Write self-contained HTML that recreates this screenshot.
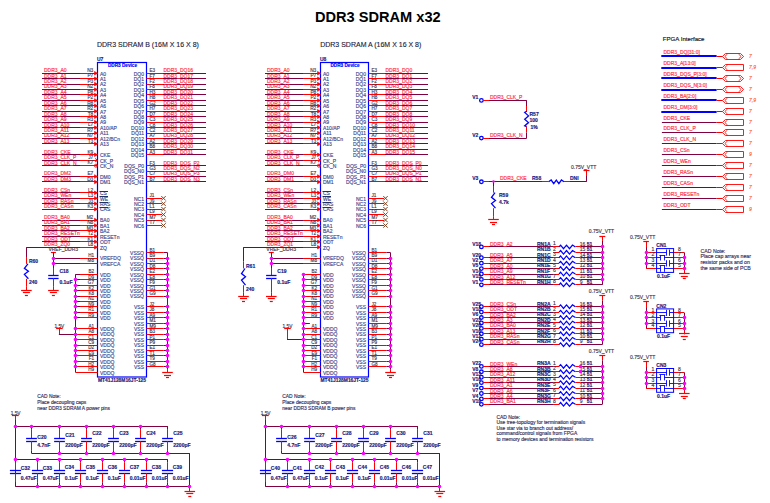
<!DOCTYPE html>
<html><head><meta charset="utf-8"><style>
html,body{margin:0;padding:0;background:#fff;width:770px;height:503px;overflow:hidden}
svg{display:block}
text{font-family:"Liberation Sans", sans-serif}
</style></head><body>
<svg width="770" height="503" viewBox="0 0 770 503">
<rect width="770" height="503" fill="#fff"/>
<text x="377.80" y="21.80" font-size="14.6" fill="#000000" stroke="#000000" stroke-width="0" text-anchor="middle" font-weight="bold" >DDR3 SDRAM x32</text>
<text x="97.00" y="46.80" font-size="7" fill="#202038" stroke="#202038" stroke-width="0.12" text-anchor="start" font-weight="normal" >DDR3 SDRAM B (16M X 16 X 8)</text>
<text x="320.20" y="46.80" font-size="7" fill="#202038" stroke="#202038" stroke-width="0.12" text-anchor="start" font-weight="normal" >DDR3 SDRAM A (16M X 16 X 8)</text>
<rect x="97.50" y="62.50" width="49.00" height="314.50" fill="none" stroke="#0000ff" stroke-width="1.2"/>
<text x="97.00" y="60.90" font-size="5" fill="#1a1a80" stroke="#1a1a80" stroke-width="0.15" text-anchor="start" font-weight="bold" >U7</text>
<text x="122.50" y="67.10" font-size="4.7" fill="#0000ff" stroke="#0000ff" stroke-width="0.15" text-anchor="middle" font-weight="bold" >DDR3 Device</text>
<text x="122.00" y="382.30" font-size="4.9" fill="#1a1a80" stroke="#1a1a80" stroke-width="0.15" text-anchor="middle" font-weight="bold" >MT41J128M16JT-125</text>
<line x1="42.00" y1="73.50" x2="80.00" y2="73.50" stroke="#800040" stroke-width="1"/>
<line x1="80.00" y1="73.50" x2="97.50" y2="73.50" stroke="#ff0000" stroke-width="1"/>
<polygon points="94.50,71.45 97.50,73.25 94.50,75.05" stroke="#ff0000" stroke-width="0.6" fill="#ff0000"/>
<text x="44.00" y="72.15" font-size="5" fill="#ff3048" stroke="#ff3048" stroke-width="0.16" text-anchor="start" font-weight="normal" >DDR3_A0</text>
<text x="93.30" y="72.05" font-size="4.8" fill="#403850" stroke="#403850" stroke-width="0.15" text-anchor="end" font-weight="normal" >N3</text>
<text x="100.00" y="75.55" font-size="5" fill="#3c4890" stroke="#3c4890" stroke-width="0.15" text-anchor="start" font-weight="normal" >A0</text>
<line x1="42.00" y1="78.50" x2="80.00" y2="78.50" stroke="#800040" stroke-width="1"/>
<line x1="80.00" y1="78.50" x2="97.50" y2="78.50" stroke="#ff0000" stroke-width="1"/>
<polygon points="94.50,76.89 97.50,78.69 94.50,80.49" stroke="#ff0000" stroke-width="0.6" fill="#ff0000"/>
<text x="44.00" y="77.59" font-size="5" fill="#ff3048" stroke="#ff3048" stroke-width="0.16" text-anchor="start" font-weight="normal" >DDR3_A1</text>
<text x="93.30" y="77.49" font-size="4.8" fill="#403850" stroke="#403850" stroke-width="0.15" text-anchor="end" font-weight="normal" >P7</text>
<text x="100.00" y="80.99" font-size="5" fill="#3c4890" stroke="#3c4890" stroke-width="0.15" text-anchor="start" font-weight="normal" >A1</text>
<line x1="42.00" y1="84.50" x2="80.00" y2="84.50" stroke="#800040" stroke-width="1"/>
<line x1="80.00" y1="84.50" x2="97.50" y2="84.50" stroke="#ff0000" stroke-width="1"/>
<polygon points="94.50,82.32 97.50,84.12 94.50,85.92" stroke="#ff0000" stroke-width="0.6" fill="#ff0000"/>
<text x="44.00" y="83.02" font-size="5" fill="#ff3048" stroke="#ff3048" stroke-width="0.16" text-anchor="start" font-weight="normal" >DDR3_A2</text>
<text x="93.30" y="82.92" font-size="4.8" fill="#403850" stroke="#403850" stroke-width="0.15" text-anchor="end" font-weight="normal" >P3</text>
<text x="100.00" y="86.42" font-size="5" fill="#3c4890" stroke="#3c4890" stroke-width="0.15" text-anchor="start" font-weight="normal" >A2</text>
<line x1="42.00" y1="89.50" x2="80.00" y2="89.50" stroke="#800040" stroke-width="1"/>
<line x1="80.00" y1="89.50" x2="97.50" y2="89.50" stroke="#ff0000" stroke-width="1"/>
<polygon points="94.50,87.76 97.50,89.56 94.50,91.36" stroke="#ff0000" stroke-width="0.6" fill="#ff0000"/>
<text x="44.00" y="88.46" font-size="5" fill="#ff3048" stroke="#ff3048" stroke-width="0.16" text-anchor="start" font-weight="normal" >DDR3_A3</text>
<text x="93.30" y="88.36" font-size="4.8" fill="#403850" stroke="#403850" stroke-width="0.15" text-anchor="end" font-weight="normal" >N2</text>
<text x="100.00" y="91.86" font-size="5" fill="#3c4890" stroke="#3c4890" stroke-width="0.15" text-anchor="start" font-weight="normal" >A3</text>
<line x1="42.00" y1="94.50" x2="80.00" y2="94.50" stroke="#800040" stroke-width="1"/>
<line x1="80.00" y1="94.50" x2="97.50" y2="94.50" stroke="#ff0000" stroke-width="1"/>
<polygon points="94.50,93.19 97.50,94.99 94.50,96.79" stroke="#ff0000" stroke-width="0.6" fill="#ff0000"/>
<text x="44.00" y="93.89" font-size="5" fill="#ff3048" stroke="#ff3048" stroke-width="0.16" text-anchor="start" font-weight="normal" >DDR3_A4</text>
<text x="93.30" y="93.79" font-size="4.8" fill="#403850" stroke="#403850" stroke-width="0.15" text-anchor="end" font-weight="normal" >P8</text>
<text x="100.00" y="97.29" font-size="5" fill="#3c4890" stroke="#3c4890" stroke-width="0.15" text-anchor="start" font-weight="normal" >A4</text>
<line x1="42.00" y1="100.50" x2="80.00" y2="100.50" stroke="#800040" stroke-width="1"/>
<line x1="80.00" y1="100.50" x2="97.50" y2="100.50" stroke="#ff0000" stroke-width="1"/>
<polygon points="94.50,98.63 97.50,100.43 94.50,102.23" stroke="#ff0000" stroke-width="0.6" fill="#ff0000"/>
<text x="44.00" y="99.33" font-size="5" fill="#ff3048" stroke="#ff3048" stroke-width="0.16" text-anchor="start" font-weight="normal" >DDR3_A5</text>
<text x="93.30" y="99.23" font-size="4.8" fill="#403850" stroke="#403850" stroke-width="0.15" text-anchor="end" font-weight="normal" >P2</text>
<text x="100.00" y="102.73" font-size="5" fill="#3c4890" stroke="#3c4890" stroke-width="0.15" text-anchor="start" font-weight="normal" >A5</text>
<line x1="42.00" y1="105.50" x2="80.00" y2="105.50" stroke="#800040" stroke-width="1"/>
<line x1="80.00" y1="105.50" x2="97.50" y2="105.50" stroke="#ff0000" stroke-width="1"/>
<polygon points="94.50,104.07 97.50,105.87 94.50,107.67" stroke="#ff0000" stroke-width="0.6" fill="#ff0000"/>
<text x="44.00" y="104.77" font-size="5" fill="#ff3048" stroke="#ff3048" stroke-width="0.16" text-anchor="start" font-weight="normal" >DDR3_A6</text>
<text x="93.30" y="104.67" font-size="4.8" fill="#403850" stroke="#403850" stroke-width="0.15" text-anchor="end" font-weight="normal" >R8</text>
<text x="100.00" y="108.17" font-size="5" fill="#3c4890" stroke="#3c4890" stroke-width="0.15" text-anchor="start" font-weight="normal" >A6</text>
<line x1="42.00" y1="111.50" x2="80.00" y2="111.50" stroke="#800040" stroke-width="1"/>
<line x1="80.00" y1="111.50" x2="97.50" y2="111.50" stroke="#ff0000" stroke-width="1"/>
<polygon points="94.50,109.50 97.50,111.30 94.50,113.10" stroke="#ff0000" stroke-width="0.6" fill="#ff0000"/>
<text x="44.00" y="110.20" font-size="5" fill="#ff3048" stroke="#ff3048" stroke-width="0.16" text-anchor="start" font-weight="normal" >DDR3_A7</text>
<text x="93.30" y="110.10" font-size="4.8" fill="#403850" stroke="#403850" stroke-width="0.15" text-anchor="end" font-weight="normal" >R2</text>
<text x="100.00" y="113.60" font-size="5" fill="#3c4890" stroke="#3c4890" stroke-width="0.15" text-anchor="start" font-weight="normal" >A7</text>
<line x1="42.00" y1="116.50" x2="80.00" y2="116.50" stroke="#800040" stroke-width="1"/>
<line x1="80.00" y1="116.50" x2="97.50" y2="116.50" stroke="#ff0000" stroke-width="1"/>
<polygon points="94.50,114.94 97.50,116.74 94.50,118.54" stroke="#ff0000" stroke-width="0.6" fill="#ff0000"/>
<text x="44.00" y="115.64" font-size="5" fill="#ff3048" stroke="#ff3048" stroke-width="0.16" text-anchor="start" font-weight="normal" >DDR3_A8</text>
<text x="93.30" y="115.54" font-size="4.8" fill="#403850" stroke="#403850" stroke-width="0.15" text-anchor="end" font-weight="normal" >T8</text>
<text x="100.00" y="119.04" font-size="5" fill="#3c4890" stroke="#3c4890" stroke-width="0.15" text-anchor="start" font-weight="normal" >A8</text>
<line x1="42.00" y1="122.50" x2="80.00" y2="122.50" stroke="#800040" stroke-width="1"/>
<line x1="80.00" y1="122.50" x2="97.50" y2="122.50" stroke="#ff0000" stroke-width="1"/>
<polygon points="94.50,120.37 97.50,122.17 94.50,123.97" stroke="#ff0000" stroke-width="0.6" fill="#ff0000"/>
<text x="44.00" y="121.07" font-size="5" fill="#ff3048" stroke="#ff3048" stroke-width="0.16" text-anchor="start" font-weight="normal" >DDR3_A9</text>
<text x="93.30" y="120.97" font-size="4.8" fill="#403850" stroke="#403850" stroke-width="0.15" text-anchor="end" font-weight="normal" >R3</text>
<text x="100.00" y="124.47" font-size="5" fill="#3c4890" stroke="#3c4890" stroke-width="0.15" text-anchor="start" font-weight="normal" >A9</text>
<line x1="42.00" y1="127.50" x2="80.00" y2="127.50" stroke="#800040" stroke-width="1"/>
<line x1="80.00" y1="127.50" x2="97.50" y2="127.50" stroke="#ff0000" stroke-width="1"/>
<polygon points="94.50,125.81 97.50,127.61 94.50,129.41" stroke="#ff0000" stroke-width="0.6" fill="#ff0000"/>
<text x="44.00" y="126.51" font-size="5" fill="#ff3048" stroke="#ff3048" stroke-width="0.16" text-anchor="start" font-weight="normal" >DDR3_A10</text>
<text x="93.30" y="126.41" font-size="4.8" fill="#403850" stroke="#403850" stroke-width="0.15" text-anchor="end" font-weight="normal" >L7</text>
<text x="100.00" y="129.91" font-size="5" fill="#3c4890" stroke="#3c4890" stroke-width="0.15" text-anchor="start" font-weight="normal" >A10/AP</text>
<line x1="42.00" y1="133.50" x2="80.00" y2="133.50" stroke="#800040" stroke-width="1"/>
<line x1="80.00" y1="133.50" x2="97.50" y2="133.50" stroke="#ff0000" stroke-width="1"/>
<polygon points="94.50,131.25 97.50,133.05 94.50,134.85" stroke="#ff0000" stroke-width="0.6" fill="#ff0000"/>
<text x="44.00" y="131.95" font-size="5" fill="#ff3048" stroke="#ff3048" stroke-width="0.16" text-anchor="start" font-weight="normal" >DDR3_A11</text>
<text x="93.30" y="131.85" font-size="4.8" fill="#403850" stroke="#403850" stroke-width="0.15" text-anchor="end" font-weight="normal" >R7</text>
<text x="100.00" y="135.35" font-size="5" fill="#3c4890" stroke="#3c4890" stroke-width="0.15" text-anchor="start" font-weight="normal" >A11</text>
<line x1="42.00" y1="138.50" x2="80.00" y2="138.50" stroke="#800040" stroke-width="1"/>
<line x1="80.00" y1="138.50" x2="97.50" y2="138.50" stroke="#ff0000" stroke-width="1"/>
<polygon points="94.50,136.68 97.50,138.48 94.50,140.28" stroke="#ff0000" stroke-width="0.6" fill="#ff0000"/>
<text x="44.00" y="137.38" font-size="5" fill="#ff3048" stroke="#ff3048" stroke-width="0.16" text-anchor="start" font-weight="normal" >DDR3_A12</text>
<text x="93.30" y="137.28" font-size="4.8" fill="#403850" stroke="#403850" stroke-width="0.15" text-anchor="end" font-weight="normal" >N7</text>
<text x="100.00" y="140.78" font-size="5" fill="#3c4890" stroke="#3c4890" stroke-width="0.15" text-anchor="start" font-weight="normal" >A12/BCn</text>
<line x1="42.00" y1="143.50" x2="80.00" y2="143.50" stroke="#800040" stroke-width="1"/>
<line x1="80.00" y1="143.50" x2="97.50" y2="143.50" stroke="#ff0000" stroke-width="1"/>
<polygon points="94.50,142.12 97.50,143.92 94.50,145.72" stroke="#ff0000" stroke-width="0.6" fill="#ff0000"/>
<text x="44.00" y="142.82" font-size="5" fill="#ff3048" stroke="#ff3048" stroke-width="0.16" text-anchor="start" font-weight="normal" >DDR3_A13</text>
<text x="93.30" y="142.72" font-size="4.8" fill="#403850" stroke="#403850" stroke-width="0.15" text-anchor="end" font-weight="normal" >T3</text>
<text x="100.00" y="146.22" font-size="5" fill="#3c4890" stroke="#3c4890" stroke-width="0.15" text-anchor="start" font-weight="normal" >A13</text>
<line x1="42.00" y1="154.50" x2="80.00" y2="154.50" stroke="#800040" stroke-width="1"/>
<line x1="80.00" y1="154.50" x2="97.50" y2="154.50" stroke="#ff0000" stroke-width="1"/>
<polygon points="94.50,152.99 97.50,154.79 94.50,156.59" stroke="#ff0000" stroke-width="0.6" fill="#ff0000"/>
<text x="44.00" y="153.69" font-size="5" fill="#ff3048" stroke="#ff3048" stroke-width="0.16" text-anchor="start" font-weight="normal" >DDR3_CKE</text>
<text x="93.30" y="153.59" font-size="4.8" fill="#403850" stroke="#403850" stroke-width="0.15" text-anchor="end" font-weight="normal" >K9</text>
<text x="100.00" y="157.09" font-size="5" fill="#3c4890" stroke="#3c4890" stroke-width="0.15" text-anchor="start" font-weight="normal" >CKE</text>
<line x1="42.00" y1="160.50" x2="80.00" y2="160.50" stroke="#800040" stroke-width="1"/>
<line x1="80.00" y1="160.50" x2="97.50" y2="160.50" stroke="#ff0000" stroke-width="1"/>
<polyline points="95.00,158.43 97.50,160.23 95.00,162.03" stroke="#ff0000" stroke-width="0.9" fill="none" stroke-linejoin="miter"/>
<text x="44.00" y="159.13" font-size="5" fill="#ff3048" stroke="#ff3048" stroke-width="0.16" text-anchor="start" font-weight="normal" >DDR3_CLK_P</text>
<text x="93.30" y="159.03" font-size="4.8" fill="#403850" stroke="#403850" stroke-width="0.15" text-anchor="end" font-weight="normal" >J7</text>
<text x="100.00" y="162.53" font-size="5" fill="#3c4890" stroke="#3c4890" stroke-width="0.15" text-anchor="start" font-weight="normal" >CK_P</text>
<line x1="42.00" y1="165.50" x2="80.00" y2="165.50" stroke="#800040" stroke-width="1"/>
<line x1="80.00" y1="165.50" x2="97.50" y2="165.50" stroke="#ff0000" stroke-width="1"/>
<circle cx="95.90" cy="165.66" r="1.5" fill="none" stroke="#ff0000" stroke-width="0.9"/>
<text x="44.00" y="164.56" font-size="5" fill="#ff3048" stroke="#ff3048" stroke-width="0.16" text-anchor="start" font-weight="normal" >DDR3_CLK_N</text>
<text x="93.30" y="164.46" font-size="4.8" fill="#403850" stroke="#403850" stroke-width="0.15" text-anchor="end" font-weight="normal" >K7</text>
<text x="100.00" y="167.96" font-size="5" fill="#3c4890" stroke="#3c4890" stroke-width="0.15" text-anchor="start" font-weight="normal" >CK_N</text>
<line x1="42.00" y1="176.50" x2="80.00" y2="176.50" stroke="#800040" stroke-width="1"/>
<line x1="80.00" y1="176.50" x2="97.50" y2="176.50" stroke="#ff0000" stroke-width="1"/>
<polygon points="94.50,174.73 97.50,176.53 94.50,178.33" stroke="#ff0000" stroke-width="0.6" fill="#ff0000"/>
<text x="44.00" y="175.43" font-size="5" fill="#ff3048" stroke="#ff3048" stroke-width="0.16" text-anchor="start" font-weight="normal" >DDR3_DM2</text>
<text x="93.30" y="175.33" font-size="4.8" fill="#403850" stroke="#403850" stroke-width="0.15" text-anchor="end" font-weight="normal" >E7</text>
<text x="100.00" y="178.83" font-size="5" fill="#3c4890" stroke="#3c4890" stroke-width="0.15" text-anchor="start" font-weight="normal" >DM0</text>
<line x1="42.00" y1="181.50" x2="80.00" y2="181.50" stroke="#800040" stroke-width="1"/>
<line x1="80.00" y1="181.50" x2="97.50" y2="181.50" stroke="#ff0000" stroke-width="1"/>
<polygon points="94.50,180.17 97.50,181.97 94.50,183.77" stroke="#ff0000" stroke-width="0.6" fill="#ff0000"/>
<text x="44.00" y="180.87" font-size="5" fill="#ff3048" stroke="#ff3048" stroke-width="0.16" text-anchor="start" font-weight="normal" >DDR3_DM3</text>
<text x="93.30" y="180.77" font-size="4.8" fill="#403850" stroke="#403850" stroke-width="0.15" text-anchor="end" font-weight="normal" >D3</text>
<text x="100.00" y="184.27" font-size="5" fill="#3c4890" stroke="#3c4890" stroke-width="0.15" text-anchor="start" font-weight="normal" >DM1</text>
<line x1="42.00" y1="192.50" x2="80.00" y2="192.50" stroke="#800040" stroke-width="1"/>
<line x1="80.00" y1="192.50" x2="97.50" y2="192.50" stroke="#ff0000" stroke-width="1"/>
<polygon points="94.50,191.04 97.50,192.84 94.50,194.64" stroke="#ff0000" stroke-width="0.6" fill="#ff0000"/>
<text x="44.00" y="191.74" font-size="5" fill="#ff3048" stroke="#ff3048" stroke-width="0.16" text-anchor="start" font-weight="normal" >DDR3_CSn</text>
<text x="93.30" y="191.64" font-size="4.8" fill="#403850" stroke="#403850" stroke-width="0.15" text-anchor="end" font-weight="normal" >L2</text>
<text x="100.00" y="195.14" font-size="5" fill="#3c4890" stroke="#3c4890" stroke-width="0.15" text-anchor="start" font-weight="normal" >CS</text>
<line x1="99.50" y1="191.50" x2="108.00" y2="191.50" stroke="#203060" stroke-width="1"/>
<line x1="42.00" y1="198.50" x2="80.00" y2="198.50" stroke="#800040" stroke-width="1"/>
<line x1="80.00" y1="198.50" x2="97.50" y2="198.50" stroke="#ff0000" stroke-width="1"/>
<polygon points="94.50,196.48 97.50,198.28 94.50,200.08" stroke="#ff0000" stroke-width="0.6" fill="#ff0000"/>
<text x="44.00" y="197.18" font-size="5" fill="#ff3048" stroke="#ff3048" stroke-width="0.16" text-anchor="start" font-weight="normal" >DDR3_WEn</text>
<text x="93.30" y="197.08" font-size="4.8" fill="#403850" stroke="#403850" stroke-width="0.15" text-anchor="end" font-weight="normal" >L3</text>
<text x="100.00" y="200.58" font-size="5" fill="#3c4890" stroke="#3c4890" stroke-width="0.15" text-anchor="start" font-weight="normal" >WE</text>
<line x1="99.50" y1="196.50" x2="108.00" y2="196.50" stroke="#203060" stroke-width="1"/>
<line x1="42.00" y1="203.50" x2="80.00" y2="203.50" stroke="#800040" stroke-width="1"/>
<line x1="80.00" y1="203.50" x2="97.50" y2="203.50" stroke="#ff0000" stroke-width="1"/>
<polygon points="94.50,201.91 97.50,203.71 94.50,205.51" stroke="#ff0000" stroke-width="0.6" fill="#ff0000"/>
<text x="44.00" y="202.61" font-size="5" fill="#ff3048" stroke="#ff3048" stroke-width="0.16" text-anchor="start" font-weight="normal" >DDR3_RASn</text>
<text x="93.30" y="202.51" font-size="4.8" fill="#403850" stroke="#403850" stroke-width="0.15" text-anchor="end" font-weight="normal" >J3</text>
<text x="100.00" y="206.01" font-size="5" fill="#3c4890" stroke="#3c4890" stroke-width="0.15" text-anchor="start" font-weight="normal" >RAS</text>
<line x1="99.50" y1="202.50" x2="108.00" y2="202.50" stroke="#203060" stroke-width="1"/>
<line x1="42.00" y1="209.50" x2="80.00" y2="209.50" stroke="#800040" stroke-width="1"/>
<line x1="80.00" y1="209.50" x2="97.50" y2="209.50" stroke="#ff0000" stroke-width="1"/>
<polygon points="94.50,207.35 97.50,209.15 94.50,210.95" stroke="#ff0000" stroke-width="0.6" fill="#ff0000"/>
<text x="44.00" y="208.05" font-size="5" fill="#ff3048" stroke="#ff3048" stroke-width="0.16" text-anchor="start" font-weight="normal" >DDR3_CASn</text>
<text x="93.30" y="207.95" font-size="4.8" fill="#403850" stroke="#403850" stroke-width="0.15" text-anchor="end" font-weight="normal" >K3</text>
<text x="100.00" y="211.45" font-size="5" fill="#3c4890" stroke="#3c4890" stroke-width="0.15" text-anchor="start" font-weight="normal" >CAS</text>
<line x1="99.50" y1="207.50" x2="108.00" y2="207.50" stroke="#203060" stroke-width="1"/>
<line x1="42.00" y1="220.50" x2="80.00" y2="220.50" stroke="#800040" stroke-width="1"/>
<line x1="80.00" y1="220.50" x2="97.50" y2="220.50" stroke="#ff0000" stroke-width="1"/>
<polygon points="94.50,218.22 97.50,220.02 94.50,221.82" stroke="#ff0000" stroke-width="0.6" fill="#ff0000"/>
<text x="44.00" y="218.92" font-size="5" fill="#ff3048" stroke="#ff3048" stroke-width="0.16" text-anchor="start" font-weight="normal" >DDR3_BA0</text>
<text x="93.30" y="218.82" font-size="4.8" fill="#403850" stroke="#403850" stroke-width="0.15" text-anchor="end" font-weight="normal" >M2</text>
<text x="100.00" y="222.32" font-size="5" fill="#3c4890" stroke="#3c4890" stroke-width="0.15" text-anchor="start" font-weight="normal" >BA0</text>
<line x1="42.00" y1="225.50" x2="80.00" y2="225.50" stroke="#800040" stroke-width="1"/>
<line x1="80.00" y1="225.50" x2="97.50" y2="225.50" stroke="#ff0000" stroke-width="1"/>
<polygon points="94.50,223.66 97.50,225.46 94.50,227.26" stroke="#ff0000" stroke-width="0.6" fill="#ff0000"/>
<text x="44.00" y="224.36" font-size="5" fill="#ff3048" stroke="#ff3048" stroke-width="0.16" text-anchor="start" font-weight="normal" >DDR3_BA1</text>
<text x="93.30" y="224.26" font-size="4.8" fill="#403850" stroke="#403850" stroke-width="0.15" text-anchor="end" font-weight="normal" >N8</text>
<text x="100.00" y="227.76" font-size="5" fill="#3c4890" stroke="#3c4890" stroke-width="0.15" text-anchor="start" font-weight="normal" >BA1</text>
<line x1="42.00" y1="230.50" x2="80.00" y2="230.50" stroke="#800040" stroke-width="1"/>
<line x1="80.00" y1="230.50" x2="97.50" y2="230.50" stroke="#ff0000" stroke-width="1"/>
<polygon points="94.50,229.09 97.50,230.89 94.50,232.69" stroke="#ff0000" stroke-width="0.6" fill="#ff0000"/>
<text x="44.00" y="229.79" font-size="5" fill="#ff3048" stroke="#ff3048" stroke-width="0.16" text-anchor="start" font-weight="normal" >DDR3_BA2</text>
<text x="93.30" y="229.69" font-size="4.8" fill="#403850" stroke="#403850" stroke-width="0.15" text-anchor="end" font-weight="normal" >M3</text>
<text x="100.00" y="233.19" font-size="5" fill="#3c4890" stroke="#3c4890" stroke-width="0.15" text-anchor="start" font-weight="normal" >BA2</text>
<line x1="42.00" y1="236.50" x2="80.00" y2="236.50" stroke="#800040" stroke-width="1"/>
<line x1="80.00" y1="236.50" x2="97.50" y2="236.50" stroke="#ff0000" stroke-width="1"/>
<polygon points="94.50,234.53 97.50,236.33 94.50,238.13" stroke="#ff0000" stroke-width="0.6" fill="#ff0000"/>
<text x="44.00" y="235.23" font-size="5" fill="#ff3048" stroke="#ff3048" stroke-width="0.16" text-anchor="start" font-weight="normal" >DDR3_RESETn</text>
<text x="93.30" y="235.13" font-size="4.8" fill="#403850" stroke="#403850" stroke-width="0.15" text-anchor="end" font-weight="normal" >T2</text>
<text x="100.00" y="238.63" font-size="5" fill="#3c4890" stroke="#3c4890" stroke-width="0.15" text-anchor="start" font-weight="normal" >RESETn</text>
<line x1="42.00" y1="241.50" x2="80.00" y2="241.50" stroke="#800040" stroke-width="1"/>
<line x1="80.00" y1="241.50" x2="97.50" y2="241.50" stroke="#ff0000" stroke-width="1"/>
<polygon points="94.50,239.97 97.50,241.77 94.50,243.57" stroke="#ff0000" stroke-width="0.6" fill="#ff0000"/>
<text x="44.00" y="240.67" font-size="5" fill="#ff3048" stroke="#ff3048" stroke-width="0.16" text-anchor="start" font-weight="normal" >DDR3_ODT</text>
<text x="93.30" y="240.57" font-size="4.8" fill="#403850" stroke="#403850" stroke-width="0.15" text-anchor="end" font-weight="normal" >K1</text>
<text x="100.00" y="244.07" font-size="5" fill="#3c4890" stroke="#3c4890" stroke-width="0.15" text-anchor="start" font-weight="normal" >ODT</text>
<line x1="42.00" y1="247.50" x2="80.00" y2="247.50" stroke="#800040" stroke-width="1"/>
<line x1="80.00" y1="247.50" x2="97.50" y2="247.50" stroke="#ff0000" stroke-width="1"/>
<polygon points="94.50,245.40 97.50,247.20 94.50,249.00" stroke="#ff0000" stroke-width="0.6" fill="#ff0000"/>
<text x="44.00" y="246.10" font-size="5" fill="#ff3048" stroke="#ff3048" stroke-width="0.16" text-anchor="start" font-weight="normal" >DDR3_ZQ0</text>
<text x="93.30" y="246.00" font-size="4.8" fill="#403850" stroke="#403850" stroke-width="0.15" text-anchor="end" font-weight="normal" >L8</text>
<text x="100.00" y="249.50" font-size="5" fill="#3c4890" stroke="#3c4890" stroke-width="0.15" text-anchor="start" font-weight="normal" >ZQ</text>
<line x1="146.50" y1="73.50" x2="163.00" y2="73.50" stroke="#ff0000" stroke-width="1"/>
<line x1="163.00" y1="73.50" x2="206.00" y2="73.50" stroke="#800040" stroke-width="1"/>
<text x="163.50" y="72.15" font-size="5" fill="#ff3048" stroke="#ff3048" stroke-width="0.16" text-anchor="start" font-weight="normal" >DDR3_DQ16</text>
<text x="149.50" y="72.15" font-size="4.6" fill="#403850" stroke="#403850" stroke-width="0.15" text-anchor="start" font-weight="normal" >E3</text>
<text x="144.00" y="75.55" font-size="5" fill="#3c4890" stroke="#3c4890" stroke-width="0.15" text-anchor="end" font-weight="normal" >DQ0</text>
<line x1="146.50" y1="78.50" x2="163.00" y2="78.50" stroke="#ff0000" stroke-width="1"/>
<line x1="163.00" y1="78.50" x2="206.00" y2="78.50" stroke="#800040" stroke-width="1"/>
<text x="163.50" y="77.59" font-size="5" fill="#ff3048" stroke="#ff3048" stroke-width="0.16" text-anchor="start" font-weight="normal" >DDR3_DQ17</text>
<text x="149.50" y="77.59" font-size="4.6" fill="#403850" stroke="#403850" stroke-width="0.15" text-anchor="start" font-weight="normal" >F7</text>
<text x="144.00" y="80.99" font-size="5" fill="#3c4890" stroke="#3c4890" stroke-width="0.15" text-anchor="end" font-weight="normal" >DQ1</text>
<line x1="146.50" y1="84.50" x2="163.00" y2="84.50" stroke="#ff0000" stroke-width="1"/>
<line x1="163.00" y1="84.50" x2="206.00" y2="84.50" stroke="#800040" stroke-width="1"/>
<text x="163.50" y="83.02" font-size="5" fill="#ff3048" stroke="#ff3048" stroke-width="0.16" text-anchor="start" font-weight="normal" >DDR3_DQ18</text>
<text x="149.50" y="83.02" font-size="4.6" fill="#403850" stroke="#403850" stroke-width="0.15" text-anchor="start" font-weight="normal" >F2</text>
<text x="144.00" y="86.42" font-size="5" fill="#3c4890" stroke="#3c4890" stroke-width="0.15" text-anchor="end" font-weight="normal" >DQ2</text>
<line x1="146.50" y1="89.50" x2="163.00" y2="89.50" stroke="#ff0000" stroke-width="1"/>
<line x1="163.00" y1="89.50" x2="206.00" y2="89.50" stroke="#800040" stroke-width="1"/>
<text x="163.50" y="88.46" font-size="5" fill="#ff3048" stroke="#ff3048" stroke-width="0.16" text-anchor="start" font-weight="normal" >DDR3_DQ19</text>
<text x="149.50" y="88.46" font-size="4.6" fill="#403850" stroke="#403850" stroke-width="0.15" text-anchor="start" font-weight="normal" >F8</text>
<text x="144.00" y="91.86" font-size="5" fill="#3c4890" stroke="#3c4890" stroke-width="0.15" text-anchor="end" font-weight="normal" >DQ3</text>
<line x1="146.50" y1="94.50" x2="163.00" y2="94.50" stroke="#ff0000" stroke-width="1"/>
<line x1="163.00" y1="94.50" x2="206.00" y2="94.50" stroke="#800040" stroke-width="1"/>
<text x="163.50" y="93.89" font-size="5" fill="#ff3048" stroke="#ff3048" stroke-width="0.16" text-anchor="start" font-weight="normal" >DDR3_DQ20</text>
<text x="149.50" y="93.89" font-size="4.6" fill="#403850" stroke="#403850" stroke-width="0.15" text-anchor="start" font-weight="normal" >H3</text>
<text x="144.00" y="97.29" font-size="5" fill="#3c4890" stroke="#3c4890" stroke-width="0.15" text-anchor="end" font-weight="normal" >DQ4</text>
<line x1="146.50" y1="100.50" x2="163.00" y2="100.50" stroke="#ff0000" stroke-width="1"/>
<line x1="163.00" y1="100.50" x2="206.00" y2="100.50" stroke="#800040" stroke-width="1"/>
<text x="163.50" y="99.33" font-size="5" fill="#ff3048" stroke="#ff3048" stroke-width="0.16" text-anchor="start" font-weight="normal" >DDR3_DQ21</text>
<text x="149.50" y="99.33" font-size="4.6" fill="#403850" stroke="#403850" stroke-width="0.15" text-anchor="start" font-weight="normal" >H8</text>
<text x="144.00" y="102.73" font-size="5" fill="#3c4890" stroke="#3c4890" stroke-width="0.15" text-anchor="end" font-weight="normal" >DQ5</text>
<line x1="146.50" y1="105.50" x2="163.00" y2="105.50" stroke="#ff0000" stroke-width="1"/>
<line x1="163.00" y1="105.50" x2="206.00" y2="105.50" stroke="#800040" stroke-width="1"/>
<text x="163.50" y="104.77" font-size="5" fill="#ff3048" stroke="#ff3048" stroke-width="0.16" text-anchor="start" font-weight="normal" >DDR3_DQ22</text>
<text x="149.50" y="104.77" font-size="4.6" fill="#403850" stroke="#403850" stroke-width="0.15" text-anchor="start" font-weight="normal" >G2</text>
<text x="144.00" y="108.17" font-size="5" fill="#3c4890" stroke="#3c4890" stroke-width="0.15" text-anchor="end" font-weight="normal" >DQ6</text>
<line x1="146.50" y1="111.50" x2="163.00" y2="111.50" stroke="#ff0000" stroke-width="1"/>
<line x1="163.00" y1="111.50" x2="206.00" y2="111.50" stroke="#800040" stroke-width="1"/>
<text x="163.50" y="110.20" font-size="5" fill="#ff3048" stroke="#ff3048" stroke-width="0.16" text-anchor="start" font-weight="normal" >DDR3_DQ23</text>
<text x="149.50" y="110.20" font-size="4.6" fill="#403850" stroke="#403850" stroke-width="0.15" text-anchor="start" font-weight="normal" >H7</text>
<text x="144.00" y="113.60" font-size="5" fill="#3c4890" stroke="#3c4890" stroke-width="0.15" text-anchor="end" font-weight="normal" >DQ7</text>
<line x1="146.50" y1="116.50" x2="163.00" y2="116.50" stroke="#ff0000" stroke-width="1"/>
<line x1="163.00" y1="116.50" x2="206.00" y2="116.50" stroke="#800040" stroke-width="1"/>
<text x="163.50" y="115.64" font-size="5" fill="#ff3048" stroke="#ff3048" stroke-width="0.16" text-anchor="start" font-weight="normal" >DDR3_DQ24</text>
<text x="149.50" y="115.64" font-size="4.6" fill="#403850" stroke="#403850" stroke-width="0.15" text-anchor="start" font-weight="normal" >D7</text>
<text x="144.00" y="119.04" font-size="5" fill="#3c4890" stroke="#3c4890" stroke-width="0.15" text-anchor="end" font-weight="normal" >DQ8</text>
<line x1="146.50" y1="122.50" x2="163.00" y2="122.50" stroke="#ff0000" stroke-width="1"/>
<line x1="163.00" y1="122.50" x2="206.00" y2="122.50" stroke="#800040" stroke-width="1"/>
<text x="163.50" y="121.07" font-size="5" fill="#ff3048" stroke="#ff3048" stroke-width="0.16" text-anchor="start" font-weight="normal" >DDR3_DQ25</text>
<text x="149.50" y="121.07" font-size="4.6" fill="#403850" stroke="#403850" stroke-width="0.15" text-anchor="start" font-weight="normal" >C3</text>
<text x="144.00" y="124.47" font-size="5" fill="#3c4890" stroke="#3c4890" stroke-width="0.15" text-anchor="end" font-weight="normal" >DQ9</text>
<line x1="146.50" y1="127.50" x2="163.00" y2="127.50" stroke="#ff0000" stroke-width="1"/>
<line x1="163.00" y1="127.50" x2="206.00" y2="127.50" stroke="#800040" stroke-width="1"/>
<text x="163.50" y="126.51" font-size="5" fill="#ff3048" stroke="#ff3048" stroke-width="0.16" text-anchor="start" font-weight="normal" >DDR3_DQ26</text>
<text x="149.50" y="126.51" font-size="4.6" fill="#403850" stroke="#403850" stroke-width="0.15" text-anchor="start" font-weight="normal" >C8</text>
<text x="144.00" y="129.91" font-size="5" fill="#3c4890" stroke="#3c4890" stroke-width="0.15" text-anchor="end" font-weight="normal" >DQ10</text>
<line x1="146.50" y1="133.50" x2="163.00" y2="133.50" stroke="#ff0000" stroke-width="1"/>
<line x1="163.00" y1="133.50" x2="206.00" y2="133.50" stroke="#800040" stroke-width="1"/>
<text x="163.50" y="131.95" font-size="5" fill="#ff3048" stroke="#ff3048" stroke-width="0.16" text-anchor="start" font-weight="normal" >DDR3_DQ27</text>
<text x="149.50" y="131.95" font-size="4.6" fill="#403850" stroke="#403850" stroke-width="0.15" text-anchor="start" font-weight="normal" >C2</text>
<text x="144.00" y="135.35" font-size="5" fill="#3c4890" stroke="#3c4890" stroke-width="0.15" text-anchor="end" font-weight="normal" >DQ11</text>
<line x1="146.50" y1="138.50" x2="163.00" y2="138.50" stroke="#ff0000" stroke-width="1"/>
<line x1="163.00" y1="138.50" x2="206.00" y2="138.50" stroke="#800040" stroke-width="1"/>
<text x="163.50" y="137.38" font-size="5" fill="#ff3048" stroke="#ff3048" stroke-width="0.16" text-anchor="start" font-weight="normal" >DDR3_DQ28</text>
<text x="149.50" y="137.38" font-size="4.6" fill="#403850" stroke="#403850" stroke-width="0.15" text-anchor="start" font-weight="normal" >A7</text>
<text x="144.00" y="140.78" font-size="5" fill="#3c4890" stroke="#3c4890" stroke-width="0.15" text-anchor="end" font-weight="normal" >DQ12</text>
<line x1="146.50" y1="143.50" x2="163.00" y2="143.50" stroke="#ff0000" stroke-width="1"/>
<line x1="163.00" y1="143.50" x2="206.00" y2="143.50" stroke="#800040" stroke-width="1"/>
<text x="163.50" y="142.82" font-size="5" fill="#ff3048" stroke="#ff3048" stroke-width="0.16" text-anchor="start" font-weight="normal" >DDR3_DQ29</text>
<text x="149.50" y="142.82" font-size="4.6" fill="#403850" stroke="#403850" stroke-width="0.15" text-anchor="start" font-weight="normal" >A2</text>
<text x="144.00" y="146.22" font-size="5" fill="#3c4890" stroke="#3c4890" stroke-width="0.15" text-anchor="end" font-weight="normal" >DQ13</text>
<line x1="146.50" y1="149.50" x2="163.00" y2="149.50" stroke="#ff0000" stroke-width="1"/>
<line x1="163.00" y1="149.50" x2="206.00" y2="149.50" stroke="#800040" stroke-width="1"/>
<text x="163.50" y="148.25" font-size="5" fill="#ff3048" stroke="#ff3048" stroke-width="0.16" text-anchor="start" font-weight="normal" >DDR3_DQ30</text>
<text x="149.50" y="148.25" font-size="4.6" fill="#403850" stroke="#403850" stroke-width="0.15" text-anchor="start" font-weight="normal" >B8</text>
<text x="144.00" y="151.65" font-size="5" fill="#3c4890" stroke="#3c4890" stroke-width="0.15" text-anchor="end" font-weight="normal" >DQ14</text>
<line x1="146.50" y1="154.50" x2="163.00" y2="154.50" stroke="#ff0000" stroke-width="1"/>
<line x1="163.00" y1="154.50" x2="206.00" y2="154.50" stroke="#800040" stroke-width="1"/>
<text x="163.50" y="153.69" font-size="5" fill="#ff3048" stroke="#ff3048" stroke-width="0.16" text-anchor="start" font-weight="normal" >DDR3_DQ31</text>
<text x="149.50" y="153.69" font-size="4.6" fill="#403850" stroke="#403850" stroke-width="0.15" text-anchor="start" font-weight="normal" >A3</text>
<text x="144.00" y="157.09" font-size="5" fill="#3c4890" stroke="#3c4890" stroke-width="0.15" text-anchor="end" font-weight="normal" >DQ15</text>
<line x1="146.50" y1="165.50" x2="163.00" y2="165.50" stroke="#ff0000" stroke-width="1"/>
<line x1="163.00" y1="165.50" x2="206.00" y2="165.50" stroke="#800040" stroke-width="1"/>
<text x="163.50" y="164.56" font-size="5" fill="#ff3048" stroke="#ff3048" stroke-width="0.16" text-anchor="start" font-weight="normal" >DDR3_DQS_P2</text>
<text x="149.50" y="164.56" font-size="4.6" fill="#403850" stroke="#403850" stroke-width="0.15" text-anchor="start" font-weight="normal" >F3</text>
<text x="144.00" y="167.96" font-size="5" fill="#3c4890" stroke="#3c4890" stroke-width="0.15" text-anchor="end" font-weight="normal" >DQS_P0</text>
<line x1="146.50" y1="171.50" x2="163.00" y2="171.50" stroke="#ff0000" stroke-width="1"/>
<line x1="163.00" y1="171.50" x2="206.00" y2="171.50" stroke="#800040" stroke-width="1"/>
<text x="163.50" y="170.00" font-size="5" fill="#ff3048" stroke="#ff3048" stroke-width="0.16" text-anchor="start" font-weight="normal" >DDR3_DQS_N2</text>
<text x="149.50" y="170.00" font-size="4.6" fill="#403850" stroke="#403850" stroke-width="0.15" text-anchor="start" font-weight="normal" >G3</text>
<text x="144.00" y="173.40" font-size="5" fill="#3c4890" stroke="#3c4890" stroke-width="0.15" text-anchor="end" font-weight="normal" >DQS_N0</text>
<line x1="146.50" y1="176.50" x2="163.00" y2="176.50" stroke="#ff0000" stroke-width="1"/>
<line x1="163.00" y1="176.50" x2="206.00" y2="176.50" stroke="#800040" stroke-width="1"/>
<text x="163.50" y="175.43" font-size="5" fill="#ff3048" stroke="#ff3048" stroke-width="0.16" text-anchor="start" font-weight="normal" >DDR3_DQS_P3</text>
<text x="149.50" y="175.43" font-size="4.6" fill="#403850" stroke="#403850" stroke-width="0.15" text-anchor="start" font-weight="normal" >C7</text>
<text x="144.00" y="178.83" font-size="5" fill="#3c4890" stroke="#3c4890" stroke-width="0.15" text-anchor="end" font-weight="normal" >DQS_P1</text>
<line x1="146.50" y1="181.50" x2="163.00" y2="181.50" stroke="#ff0000" stroke-width="1"/>
<line x1="163.00" y1="181.50" x2="206.00" y2="181.50" stroke="#800040" stroke-width="1"/>
<text x="163.50" y="180.87" font-size="5" fill="#ff3048" stroke="#ff3048" stroke-width="0.16" text-anchor="start" font-weight="normal" >DDR3_DQS_N3</text>
<text x="149.50" y="180.87" font-size="4.6" fill="#403850" stroke="#403850" stroke-width="0.15" text-anchor="start" font-weight="normal" >B7</text>
<text x="144.00" y="184.27" font-size="5" fill="#3c4890" stroke="#3c4890" stroke-width="0.15" text-anchor="end" font-weight="normal" >DQS_N1</text>
<line x1="146.50" y1="198.50" x2="162.00" y2="198.50" stroke="#ff0000" stroke-width="1"/>
<line x1="161.30" y1="196.08" x2="165.70" y2="200.48" stroke="#804020" stroke-width="1.0"/>
<line x1="161.30" y1="200.48" x2="165.70" y2="196.08" stroke="#804020" stroke-width="1.0"/>
<text x="149.50" y="197.18" font-size="4.6" fill="#403850" stroke="#403850" stroke-width="0.15" text-anchor="start" font-weight="normal" >J1</text>
<text x="144.00" y="200.58" font-size="5" fill="#3c4890" stroke="#3c4890" stroke-width="0.15" text-anchor="end" font-weight="normal" >NC1</text>
<line x1="146.50" y1="203.50" x2="162.00" y2="203.50" stroke="#ff0000" stroke-width="1"/>
<line x1="161.30" y1="201.51" x2="165.70" y2="205.91" stroke="#804020" stroke-width="1.0"/>
<line x1="161.30" y1="205.91" x2="165.70" y2="201.51" stroke="#804020" stroke-width="1.0"/>
<text x="149.50" y="202.61" font-size="4.6" fill="#403850" stroke="#403850" stroke-width="0.15" text-anchor="start" font-weight="normal" >J9</text>
<text x="144.00" y="206.01" font-size="5" fill="#3c4890" stroke="#3c4890" stroke-width="0.15" text-anchor="end" font-weight="normal" >NC2</text>
<line x1="146.50" y1="209.50" x2="162.00" y2="209.50" stroke="#ff0000" stroke-width="1"/>
<line x1="161.30" y1="206.95" x2="165.70" y2="211.35" stroke="#804020" stroke-width="1.0"/>
<line x1="161.30" y1="211.35" x2="165.70" y2="206.95" stroke="#804020" stroke-width="1.0"/>
<text x="149.50" y="208.05" font-size="4.6" fill="#403850" stroke="#403850" stroke-width="0.15" text-anchor="start" font-weight="normal" >L1</text>
<text x="144.00" y="211.45" font-size="5" fill="#3c4890" stroke="#3c4890" stroke-width="0.15" text-anchor="end" font-weight="normal" >NC3</text>
<line x1="146.50" y1="214.50" x2="162.00" y2="214.50" stroke="#ff0000" stroke-width="1"/>
<line x1="161.30" y1="212.39" x2="165.70" y2="216.79" stroke="#804020" stroke-width="1.0"/>
<line x1="161.30" y1="216.79" x2="165.70" y2="212.39" stroke="#804020" stroke-width="1.0"/>
<text x="149.50" y="213.49" font-size="4.6" fill="#403850" stroke="#403850" stroke-width="0.15" text-anchor="start" font-weight="normal" >L9</text>
<text x="144.00" y="216.89" font-size="5" fill="#3c4890" stroke="#3c4890" stroke-width="0.15" text-anchor="end" font-weight="normal" >NC4</text>
<line x1="146.50" y1="220.50" x2="162.00" y2="220.50" stroke="#ff0000" stroke-width="1"/>
<line x1="161.30" y1="217.82" x2="165.70" y2="222.22" stroke="#804020" stroke-width="1.0"/>
<line x1="161.30" y1="222.22" x2="165.70" y2="217.82" stroke="#804020" stroke-width="1.0"/>
<text x="149.50" y="218.92" font-size="4.6" fill="#403850" stroke="#403850" stroke-width="0.15" text-anchor="start" font-weight="normal" >M7</text>
<text x="144.00" y="222.32" font-size="5" fill="#3c4890" stroke="#3c4890" stroke-width="0.15" text-anchor="end" font-weight="normal" >NC5</text>
<line x1="146.50" y1="225.50" x2="162.00" y2="225.50" stroke="#ff0000" stroke-width="1"/>
<line x1="161.30" y1="223.26" x2="165.70" y2="227.66" stroke="#804020" stroke-width="1.0"/>
<line x1="161.30" y1="227.66" x2="165.70" y2="223.26" stroke="#804020" stroke-width="1.0"/>
<text x="149.50" y="224.36" font-size="4.6" fill="#403850" stroke="#403850" stroke-width="0.15" text-anchor="start" font-weight="normal" >T7</text>
<text x="144.00" y="227.76" font-size="5" fill="#3c4890" stroke="#3c4890" stroke-width="0.15" text-anchor="end" font-weight="normal" >NC6</text>
<line x1="146.50" y1="252.50" x2="163.50" y2="252.50" stroke="#ff0000" stroke-width="1"/>
<line x1="163.50" y1="252.50" x2="167.50" y2="252.50" stroke="#800040" stroke-width="1"/>
<text x="149.50" y="251.54" font-size="4.6" fill="#403850" stroke="#403850" stroke-width="0.15" text-anchor="start" font-weight="normal" >B1</text>
<text x="144.00" y="254.94" font-size="5" fill="#3c4890" stroke="#3c4890" stroke-width="0.15" text-anchor="end" font-weight="normal" >VSSQ</text>
<line x1="146.50" y1="258.50" x2="163.50" y2="258.50" stroke="#ff0000" stroke-width="1"/>
<line x1="163.50" y1="258.50" x2="167.50" y2="258.50" stroke="#800040" stroke-width="1"/>
<text x="149.50" y="256.97" font-size="4.6" fill="#403850" stroke="#403850" stroke-width="0.15" text-anchor="start" font-weight="normal" >B9</text>
<text x="144.00" y="260.37" font-size="5" fill="#3c4890" stroke="#3c4890" stroke-width="0.15" text-anchor="end" font-weight="normal" >VSSQ</text>
<line x1="146.50" y1="263.50" x2="163.50" y2="263.50" stroke="#ff0000" stroke-width="1"/>
<line x1="163.50" y1="263.50" x2="167.50" y2="263.50" stroke="#800040" stroke-width="1"/>
<text x="149.50" y="262.41" font-size="4.6" fill="#403850" stroke="#403850" stroke-width="0.15" text-anchor="start" font-weight="normal" >D1</text>
<text x="144.00" y="265.81" font-size="5" fill="#3c4890" stroke="#3c4890" stroke-width="0.15" text-anchor="end" font-weight="normal" >VSSQ</text>
<line x1="146.50" y1="268.50" x2="163.50" y2="268.50" stroke="#ff0000" stroke-width="1"/>
<line x1="163.50" y1="268.50" x2="167.50" y2="268.50" stroke="#800040" stroke-width="1"/>
<text x="149.50" y="267.85" font-size="4.6" fill="#403850" stroke="#403850" stroke-width="0.15" text-anchor="start" font-weight="normal" >D8</text>
<text x="144.00" y="271.25" font-size="5" fill="#3c4890" stroke="#3c4890" stroke-width="0.15" text-anchor="end" font-weight="normal" >VSSQ</text>
<line x1="146.50" y1="274.50" x2="163.50" y2="274.50" stroke="#ff0000" stroke-width="1"/>
<line x1="163.50" y1="274.50" x2="167.50" y2="274.50" stroke="#800040" stroke-width="1"/>
<text x="149.50" y="273.28" font-size="4.6" fill="#403850" stroke="#403850" stroke-width="0.15" text-anchor="start" font-weight="normal" >E2</text>
<text x="144.00" y="276.68" font-size="5" fill="#3c4890" stroke="#3c4890" stroke-width="0.15" text-anchor="end" font-weight="normal" >VSSQ</text>
<line x1="146.50" y1="279.50" x2="163.50" y2="279.50" stroke="#ff0000" stroke-width="1"/>
<line x1="163.50" y1="279.50" x2="167.50" y2="279.50" stroke="#800040" stroke-width="1"/>
<text x="149.50" y="278.72" font-size="4.6" fill="#403850" stroke="#403850" stroke-width="0.15" text-anchor="start" font-weight="normal" >E8</text>
<text x="144.00" y="282.12" font-size="5" fill="#3c4890" stroke="#3c4890" stroke-width="0.15" text-anchor="end" font-weight="normal" >VSSQ</text>
<line x1="146.50" y1="285.50" x2="163.50" y2="285.50" stroke="#ff0000" stroke-width="1"/>
<line x1="163.50" y1="285.50" x2="167.50" y2="285.50" stroke="#800040" stroke-width="1"/>
<text x="149.50" y="284.15" font-size="4.6" fill="#403850" stroke="#403850" stroke-width="0.15" text-anchor="start" font-weight="normal" >F9</text>
<text x="144.00" y="287.55" font-size="5" fill="#3c4890" stroke="#3c4890" stroke-width="0.15" text-anchor="end" font-weight="normal" >VSSQ</text>
<line x1="146.50" y1="290.50" x2="163.50" y2="290.50" stroke="#ff0000" stroke-width="1"/>
<line x1="163.50" y1="290.50" x2="167.50" y2="290.50" stroke="#800040" stroke-width="1"/>
<text x="149.50" y="289.59" font-size="4.6" fill="#403850" stroke="#403850" stroke-width="0.15" text-anchor="start" font-weight="normal" >G1</text>
<text x="144.00" y="292.99" font-size="5" fill="#3c4890" stroke="#3c4890" stroke-width="0.15" text-anchor="end" font-weight="normal" >VSSQ</text>
<line x1="146.50" y1="296.50" x2="163.50" y2="296.50" stroke="#ff0000" stroke-width="1"/>
<line x1="163.50" y1="296.50" x2="167.50" y2="296.50" stroke="#800040" stroke-width="1"/>
<text x="149.50" y="295.03" font-size="4.6" fill="#403850" stroke="#403850" stroke-width="0.15" text-anchor="start" font-weight="normal" >G9</text>
<text x="144.00" y="298.43" font-size="5" fill="#3c4890" stroke="#3c4890" stroke-width="0.15" text-anchor="end" font-weight="normal" >VSSQ</text>
<line x1="146.50" y1="306.50" x2="163.50" y2="306.50" stroke="#ff0000" stroke-width="1"/>
<line x1="163.50" y1="306.50" x2="167.50" y2="306.50" stroke="#800040" stroke-width="1"/>
<text x="149.50" y="305.90" font-size="4.6" fill="#403850" stroke="#403850" stroke-width="0.15" text-anchor="start" font-weight="normal" >J2</text>
<text x="144.00" y="309.30" font-size="5" fill="#3c4890" stroke="#3c4890" stroke-width="0.15" text-anchor="end" font-weight="normal" >VSS</text>
<line x1="146.50" y1="312.50" x2="163.50" y2="312.50" stroke="#ff0000" stroke-width="1"/>
<line x1="163.50" y1="312.50" x2="167.50" y2="312.50" stroke="#800040" stroke-width="1"/>
<text x="149.50" y="311.33" font-size="4.6" fill="#403850" stroke="#403850" stroke-width="0.15" text-anchor="start" font-weight="normal" >J8</text>
<text x="144.00" y="314.73" font-size="5" fill="#3c4890" stroke="#3c4890" stroke-width="0.15" text-anchor="end" font-weight="normal" >VSS</text>
<line x1="146.50" y1="317.50" x2="163.50" y2="317.50" stroke="#ff0000" stroke-width="1"/>
<line x1="163.50" y1="317.50" x2="167.50" y2="317.50" stroke="#800040" stroke-width="1"/>
<text x="149.50" y="316.77" font-size="4.6" fill="#403850" stroke="#403850" stroke-width="0.15" text-anchor="start" font-weight="normal" >A9</text>
<text x="144.00" y="320.17" font-size="5" fill="#3c4890" stroke="#3c4890" stroke-width="0.15" text-anchor="end" font-weight="normal" >VSS</text>
<line x1="146.50" y1="323.50" x2="163.50" y2="323.50" stroke="#ff0000" stroke-width="1"/>
<line x1="163.50" y1="323.50" x2="167.50" y2="323.50" stroke="#800040" stroke-width="1"/>
<text x="149.50" y="322.21" font-size="4.6" fill="#403850" stroke="#403850" stroke-width="0.15" text-anchor="start" font-weight="normal" >M1</text>
<text x="144.00" y="325.61" font-size="5" fill="#3c4890" stroke="#3c4890" stroke-width="0.15" text-anchor="end" font-weight="normal" >VSS</text>
<line x1="146.50" y1="328.50" x2="163.50" y2="328.50" stroke="#ff0000" stroke-width="1"/>
<line x1="163.50" y1="328.50" x2="167.50" y2="328.50" stroke="#800040" stroke-width="1"/>
<text x="149.50" y="327.64" font-size="4.6" fill="#403850" stroke="#403850" stroke-width="0.15" text-anchor="start" font-weight="normal" >M9</text>
<text x="144.00" y="331.04" font-size="5" fill="#3c4890" stroke="#3c4890" stroke-width="0.15" text-anchor="end" font-weight="normal" >VSS</text>
<line x1="146.50" y1="334.50" x2="163.50" y2="334.50" stroke="#ff0000" stroke-width="1"/>
<line x1="163.50" y1="334.50" x2="167.50" y2="334.50" stroke="#800040" stroke-width="1"/>
<text x="149.50" y="333.08" font-size="4.6" fill="#403850" stroke="#403850" stroke-width="0.15" text-anchor="start" font-weight="normal" >B3</text>
<text x="144.00" y="336.48" font-size="5" fill="#3c4890" stroke="#3c4890" stroke-width="0.15" text-anchor="end" font-weight="normal" >VSS</text>
<line x1="146.50" y1="339.50" x2="163.50" y2="339.50" stroke="#ff0000" stroke-width="1"/>
<line x1="163.50" y1="339.50" x2="167.50" y2="339.50" stroke="#800040" stroke-width="1"/>
<text x="149.50" y="338.51" font-size="4.6" fill="#403850" stroke="#403850" stroke-width="0.15" text-anchor="start" font-weight="normal" >P1</text>
<text x="144.00" y="341.91" font-size="5" fill="#3c4890" stroke="#3c4890" stroke-width="0.15" text-anchor="end" font-weight="normal" >VSS</text>
<line x1="146.50" y1="345.50" x2="163.50" y2="345.50" stroke="#ff0000" stroke-width="1"/>
<line x1="163.50" y1="345.50" x2="167.50" y2="345.50" stroke="#800040" stroke-width="1"/>
<text x="149.50" y="343.95" font-size="4.6" fill="#403850" stroke="#403850" stroke-width="0.15" text-anchor="start" font-weight="normal" >P9</text>
<text x="144.00" y="347.35" font-size="5" fill="#3c4890" stroke="#3c4890" stroke-width="0.15" text-anchor="end" font-weight="normal" >VSS</text>
<line x1="146.50" y1="350.50" x2="163.50" y2="350.50" stroke="#ff0000" stroke-width="1"/>
<line x1="163.50" y1="350.50" x2="167.50" y2="350.50" stroke="#800040" stroke-width="1"/>
<text x="149.50" y="349.39" font-size="4.6" fill="#403850" stroke="#403850" stroke-width="0.15" text-anchor="start" font-weight="normal" >E1</text>
<text x="144.00" y="352.79" font-size="5" fill="#3c4890" stroke="#3c4890" stroke-width="0.15" text-anchor="end" font-weight="normal" >VSS</text>
<line x1="146.50" y1="355.50" x2="163.50" y2="355.50" stroke="#ff0000" stroke-width="1"/>
<line x1="163.50" y1="355.50" x2="167.50" y2="355.50" stroke="#800040" stroke-width="1"/>
<text x="149.50" y="354.82" font-size="4.6" fill="#403850" stroke="#403850" stroke-width="0.15" text-anchor="start" font-weight="normal" >T1</text>
<text x="144.00" y="358.22" font-size="5" fill="#3c4890" stroke="#3c4890" stroke-width="0.15" text-anchor="end" font-weight="normal" >VSS</text>
<line x1="146.50" y1="361.50" x2="163.50" y2="361.50" stroke="#ff0000" stroke-width="1"/>
<line x1="163.50" y1="361.50" x2="167.50" y2="361.50" stroke="#800040" stroke-width="1"/>
<text x="149.50" y="360.26" font-size="4.6" fill="#403850" stroke="#403850" stroke-width="0.15" text-anchor="start" font-weight="normal" >T9</text>
<text x="144.00" y="363.66" font-size="5" fill="#3c4890" stroke="#3c4890" stroke-width="0.15" text-anchor="end" font-weight="normal" >VSS</text>
<line x1="146.50" y1="366.50" x2="163.50" y2="366.50" stroke="#ff0000" stroke-width="1"/>
<line x1="163.50" y1="366.50" x2="167.50" y2="366.50" stroke="#800040" stroke-width="1"/>
<text x="149.50" y="365.69" font-size="4.6" fill="#403850" stroke="#403850" stroke-width="0.15" text-anchor="start" font-weight="normal" >G8</text>
<text x="144.00" y="369.09" font-size="5" fill="#3c4890" stroke="#3c4890" stroke-width="0.15" text-anchor="end" font-weight="normal" >VSS</text>
<line x1="53.40" y1="258.50" x2="80.00" y2="258.50" stroke="#800040" stroke-width="1"/>
<line x1="80.00" y1="258.50" x2="97.50" y2="258.50" stroke="#ff0000" stroke-width="1"/>
<text x="94.00" y="256.97" font-size="4.6" fill="#403850" stroke="#403850" stroke-width="0.15" text-anchor="end" font-weight="normal" >H1</text>
<text x="100.00" y="260.37" font-size="5" fill="#3c4890" stroke="#3c4890" stroke-width="0.15" text-anchor="start" font-weight="normal" >VREFDQ</text>
<line x1="53.40" y1="263.50" x2="80.00" y2="263.50" stroke="#800040" stroke-width="1"/>
<line x1="80.00" y1="263.50" x2="97.50" y2="263.50" stroke="#ff0000" stroke-width="1"/>
<text x="94.00" y="262.41" font-size="4.6" fill="#403850" stroke="#403850" stroke-width="0.15" text-anchor="end" font-weight="normal" >M8</text>
<text x="100.00" y="265.81" font-size="5" fill="#3c4890" stroke="#3c4890" stroke-width="0.15" text-anchor="start" font-weight="normal" >VREFCA</text>
<line x1="50.90" y1="252.50" x2="55.90" y2="252.50" stroke="#ff0000" stroke-width="1.2"/>
<text x="48.40" y="250.80" font-size="5" fill="#403850" stroke="#403850" stroke-width="0.15" text-anchor="start" font-weight="normal" >VREF_DDR3</text>
<line x1="53.50" y1="252.50" x2="53.50" y2="268.00" stroke="#800040" stroke-width="1"/>
<line x1="53.50" y1="268.00" x2="53.50" y2="275.30" stroke="#ff0000" stroke-width="1"/>
<line x1="48.20" y1="275.50" x2="58.60" y2="275.50" stroke="#0000ff" stroke-width="1.3"/>
<line x1="48.20" y1="278.50" x2="58.60" y2="278.50" stroke="#0000ff" stroke-width="1.3"/>
<line x1="53.50" y1="278.30" x2="53.50" y2="286.80" stroke="#ff0000" stroke-width="1"/>
<line x1="53.50" y1="286.80" x2="53.50" y2="290.30" stroke="#ff0000" stroke-width="1"/>
<line x1="48.10" y1="290.50" x2="58.70" y2="290.50" stroke="#ff0000" stroke-width="1.2"/>
<line x1="49.90" y1="292.50" x2="56.90" y2="292.50" stroke="#ff0000" stroke-width="1.2"/>
<line x1="51.90" y1="295.50" x2="54.90" y2="295.50" stroke="#ff0000" stroke-width="1.2"/>
<text x="59.40" y="272.50" font-size="5" fill="#1a1a80" stroke="#1a1a80" stroke-width="0.15" text-anchor="start" font-weight="bold" >C18</text>
<text x="59.40" y="283.50" font-size="5" fill="#1a1a80" stroke="#1a1a80" stroke-width="0.15" text-anchor="start" font-weight="bold" >0.1uF</text>
<line x1="26.40" y1="247.50" x2="80.00" y2="247.50" stroke="#800040" stroke-width="1"/>
<line x1="26.50" y1="247.20" x2="26.50" y2="257.00" stroke="#800040" stroke-width="1"/>
<line x1="26.50" y1="256.90" x2="26.50" y2="263.90" stroke="#ff0000" stroke-width="1"/>
<polyline points="27.90,263.90 24.40,268.37 28.40,271.35 24.40,274.33 28.40,278.80" stroke="#0000ff" stroke-width="1.3" fill="none" stroke-linejoin="miter"/>
<line x1="26.50" y1="278.80" x2="26.50" y2="286.80" stroke="#ff0000" stroke-width="1"/>
<line x1="26.50" y1="286.80" x2="26.50" y2="290.30" stroke="#ff0000" stroke-width="1"/>
<line x1="21.10" y1="290.50" x2="31.70" y2="290.50" stroke="#ff0000" stroke-width="1.2"/>
<line x1="22.90" y1="292.50" x2="29.90" y2="292.50" stroke="#ff0000" stroke-width="1.2"/>
<line x1="24.90" y1="295.50" x2="27.90" y2="295.50" stroke="#ff0000" stroke-width="1.2"/>
<text x="28.90" y="263.10" font-size="5" fill="#1a1a80" stroke="#1a1a80" stroke-width="0.15" text-anchor="start" font-weight="bold" >R60</text>
<text x="28.90" y="284.30" font-size="5" fill="#1a1a80" stroke="#1a1a80" stroke-width="0.15" text-anchor="start" font-weight="bold" >240</text>
<line x1="75.40" y1="274.50" x2="80.00" y2="274.50" stroke="#800040" stroke-width="1"/>
<line x1="80.00" y1="274.50" x2="97.50" y2="274.50" stroke="#ff0000" stroke-width="1"/>
<text x="94.00" y="273.28" font-size="4.6" fill="#403850" stroke="#403850" stroke-width="0.15" text-anchor="end" font-weight="normal" >B2</text>
<text x="100.00" y="276.68" font-size="5" fill="#3c4890" stroke="#3c4890" stroke-width="0.15" text-anchor="start" font-weight="normal" >VDD</text>
<line x1="75.40" y1="279.50" x2="80.00" y2="279.50" stroke="#800040" stroke-width="1"/>
<line x1="80.00" y1="279.50" x2="97.50" y2="279.50" stroke="#ff0000" stroke-width="1"/>
<text x="94.00" y="278.72" font-size="4.6" fill="#403850" stroke="#403850" stroke-width="0.15" text-anchor="end" font-weight="normal" >D9</text>
<text x="100.00" y="282.12" font-size="5" fill="#3c4890" stroke="#3c4890" stroke-width="0.15" text-anchor="start" font-weight="normal" >VDD</text>
<line x1="75.40" y1="285.50" x2="80.00" y2="285.50" stroke="#800040" stroke-width="1"/>
<line x1="80.00" y1="285.50" x2="97.50" y2="285.50" stroke="#ff0000" stroke-width="1"/>
<text x="94.00" y="284.15" font-size="4.6" fill="#403850" stroke="#403850" stroke-width="0.15" text-anchor="end" font-weight="normal" >G7</text>
<text x="100.00" y="287.55" font-size="5" fill="#3c4890" stroke="#3c4890" stroke-width="0.15" text-anchor="start" font-weight="normal" >VDD</text>
<line x1="75.40" y1="290.50" x2="80.00" y2="290.50" stroke="#800040" stroke-width="1"/>
<line x1="80.00" y1="290.50" x2="97.50" y2="290.50" stroke="#ff0000" stroke-width="1"/>
<text x="94.00" y="289.59" font-size="4.6" fill="#403850" stroke="#403850" stroke-width="0.15" text-anchor="end" font-weight="normal" >K2</text>
<text x="100.00" y="292.99" font-size="5" fill="#3c4890" stroke="#3c4890" stroke-width="0.15" text-anchor="start" font-weight="normal" >VDD</text>
<line x1="75.40" y1="296.50" x2="80.00" y2="296.50" stroke="#800040" stroke-width="1"/>
<line x1="80.00" y1="296.50" x2="97.50" y2="296.50" stroke="#ff0000" stroke-width="1"/>
<text x="94.00" y="295.03" font-size="4.6" fill="#403850" stroke="#403850" stroke-width="0.15" text-anchor="end" font-weight="normal" >K8</text>
<text x="100.00" y="298.43" font-size="5" fill="#3c4890" stroke="#3c4890" stroke-width="0.15" text-anchor="start" font-weight="normal" >VDD</text>
<line x1="75.40" y1="301.50" x2="80.00" y2="301.50" stroke="#800040" stroke-width="1"/>
<line x1="80.00" y1="301.50" x2="97.50" y2="301.50" stroke="#ff0000" stroke-width="1"/>
<text x="94.00" y="300.46" font-size="4.6" fill="#403850" stroke="#403850" stroke-width="0.15" text-anchor="end" font-weight="normal" >N1</text>
<text x="100.00" y="303.86" font-size="5" fill="#3c4890" stroke="#3c4890" stroke-width="0.15" text-anchor="start" font-weight="normal" >VDD</text>
<line x1="75.40" y1="306.50" x2="80.00" y2="306.50" stroke="#800040" stroke-width="1"/>
<line x1="80.00" y1="306.50" x2="97.50" y2="306.50" stroke="#ff0000" stroke-width="1"/>
<text x="94.00" y="305.90" font-size="4.6" fill="#403850" stroke="#403850" stroke-width="0.15" text-anchor="end" font-weight="normal" >N9</text>
<text x="100.00" y="309.30" font-size="5" fill="#3c4890" stroke="#3c4890" stroke-width="0.15" text-anchor="start" font-weight="normal" >VDD</text>
<line x1="75.40" y1="312.50" x2="80.00" y2="312.50" stroke="#800040" stroke-width="1"/>
<line x1="80.00" y1="312.50" x2="97.50" y2="312.50" stroke="#ff0000" stroke-width="1"/>
<text x="94.00" y="311.33" font-size="4.6" fill="#403850" stroke="#403850" stroke-width="0.15" text-anchor="end" font-weight="normal" >R1</text>
<text x="100.00" y="314.73" font-size="5" fill="#3c4890" stroke="#3c4890" stroke-width="0.15" text-anchor="start" font-weight="normal" >VDD</text>
<line x1="75.40" y1="317.50" x2="80.00" y2="317.50" stroke="#800040" stroke-width="1"/>
<line x1="80.00" y1="317.50" x2="97.50" y2="317.50" stroke="#ff0000" stroke-width="1"/>
<text x="94.00" y="316.77" font-size="4.6" fill="#403850" stroke="#403850" stroke-width="0.15" text-anchor="end" font-weight="normal" >R9</text>
<text x="100.00" y="320.17" font-size="5" fill="#3c4890" stroke="#3c4890" stroke-width="0.15" text-anchor="start" font-weight="normal" >VDD</text>
<line x1="75.40" y1="328.50" x2="97.50" y2="328.50" stroke="#ff0000" stroke-width="1"/>
<text x="94.00" y="327.64" font-size="4.6" fill="#403850" stroke="#403850" stroke-width="0.15" text-anchor="end" font-weight="normal" >A1</text>
<text x="100.00" y="331.04" font-size="5" fill="#3c4890" stroke="#3c4890" stroke-width="0.15" text-anchor="start" font-weight="normal" >VDDQ</text>
<line x1="75.40" y1="334.50" x2="97.50" y2="334.50" stroke="#ff0000" stroke-width="1"/>
<text x="94.00" y="333.08" font-size="4.6" fill="#403850" stroke="#403850" stroke-width="0.15" text-anchor="end" font-weight="normal" >A8</text>
<text x="100.00" y="336.48" font-size="5" fill="#3c4890" stroke="#3c4890" stroke-width="0.15" text-anchor="start" font-weight="normal" >VDDQ</text>
<line x1="75.40" y1="339.50" x2="97.50" y2="339.50" stroke="#ff0000" stroke-width="1"/>
<text x="94.00" y="338.51" font-size="4.6" fill="#403850" stroke="#403850" stroke-width="0.15" text-anchor="end" font-weight="normal" >C1</text>
<text x="100.00" y="341.91" font-size="5" fill="#3c4890" stroke="#3c4890" stroke-width="0.15" text-anchor="start" font-weight="normal" >VDDQ</text>
<line x1="75.40" y1="345.50" x2="97.50" y2="345.50" stroke="#ff0000" stroke-width="1"/>
<text x="94.00" y="343.95" font-size="4.6" fill="#403850" stroke="#403850" stroke-width="0.15" text-anchor="end" font-weight="normal" >C9</text>
<text x="100.00" y="347.35" font-size="5" fill="#3c4890" stroke="#3c4890" stroke-width="0.15" text-anchor="start" font-weight="normal" >VDDQ</text>
<line x1="75.40" y1="350.50" x2="97.50" y2="350.50" stroke="#ff0000" stroke-width="1"/>
<text x="94.00" y="349.39" font-size="4.6" fill="#403850" stroke="#403850" stroke-width="0.15" text-anchor="end" font-weight="normal" >D2</text>
<text x="100.00" y="352.79" font-size="5" fill="#3c4890" stroke="#3c4890" stroke-width="0.15" text-anchor="start" font-weight="normal" >VDDQ</text>
<line x1="75.40" y1="355.50" x2="97.50" y2="355.50" stroke="#ff0000" stroke-width="1"/>
<text x="94.00" y="354.82" font-size="4.6" fill="#403850" stroke="#403850" stroke-width="0.15" text-anchor="end" font-weight="normal" >E9</text>
<text x="100.00" y="358.22" font-size="5" fill="#3c4890" stroke="#3c4890" stroke-width="0.15" text-anchor="start" font-weight="normal" >VDDQ</text>
<line x1="75.40" y1="361.50" x2="97.50" y2="361.50" stroke="#ff0000" stroke-width="1"/>
<text x="94.00" y="360.26" font-size="4.6" fill="#403850" stroke="#403850" stroke-width="0.15" text-anchor="end" font-weight="normal" >F1</text>
<text x="100.00" y="363.66" font-size="5" fill="#3c4890" stroke="#3c4890" stroke-width="0.15" text-anchor="start" font-weight="normal" >VDDQ</text>
<line x1="75.40" y1="366.50" x2="97.50" y2="366.50" stroke="#ff0000" stroke-width="1"/>
<text x="94.00" y="365.69" font-size="4.6" fill="#403850" stroke="#403850" stroke-width="0.15" text-anchor="end" font-weight="normal" >H2</text>
<text x="100.00" y="369.09" font-size="5" fill="#3c4890" stroke="#3c4890" stroke-width="0.15" text-anchor="start" font-weight="normal" >VDDQ</text>
<line x1="75.40" y1="372.50" x2="97.50" y2="372.50" stroke="#ff0000" stroke-width="1"/>
<text x="94.00" y="371.13" font-size="4.6" fill="#403850" stroke="#403850" stroke-width="0.15" text-anchor="end" font-weight="normal" >H9</text>
<text x="100.00" y="374.53" font-size="5" fill="#3c4890" stroke="#3c4890" stroke-width="0.15" text-anchor="start" font-weight="normal" >VDDQ</text>
<line x1="75.50" y1="274.38" x2="75.50" y2="372.23" stroke="#800040" stroke-width="1"/>
<line x1="56.10" y1="328.50" x2="62.70" y2="328.50" stroke="#ff0000" stroke-width="1.2"/>
<line x1="59.50" y1="328.74" x2="59.50" y2="334.18" stroke="#ff0000" stroke-width="1"/>
<line x1="58.90" y1="334.50" x2="75.40" y2="334.50" stroke="#800040" stroke-width="1"/>
<text x="54.40" y="327.74" font-size="4.8" fill="#403850" stroke="#403850" stroke-width="0.15" text-anchor="start" font-weight="normal" >1.5V</text>
<line x1="167.50" y1="252.64" x2="167.50" y2="367.79" stroke="#800040" stroke-width="1"/>
<line x1="167.50" y1="366.79" x2="167.50" y2="369.10" stroke="#800040" stroke-width="1"/>
<line x1="167.50" y1="369.10" x2="167.50" y2="372.60" stroke="#ff0000" stroke-width="1"/>
<line x1="162.20" y1="372.50" x2="172.80" y2="372.50" stroke="#ff0000" stroke-width="1.2"/>
<line x1="164.00" y1="375.50" x2="171.00" y2="375.50" stroke="#ff0000" stroke-width="1.2"/>
<line x1="166.00" y1="377.50" x2="169.00" y2="377.50" stroke="#ff0000" stroke-width="1.2"/>
<rect x="320.50" y="62.50" width="48.00" height="314.50" fill="none" stroke="#0000ff" stroke-width="1.2"/>
<text x="320.00" y="60.90" font-size="5" fill="#1a1a80" stroke="#1a1a80" stroke-width="0.15" text-anchor="start" font-weight="bold" >U8</text>
<text x="345.00" y="67.10" font-size="4.7" fill="#0000ff" stroke="#0000ff" stroke-width="0.15" text-anchor="middle" font-weight="bold" >DDR3 Device</text>
<text x="344.50" y="382.30" font-size="4.9" fill="#1a1a80" stroke="#1a1a80" stroke-width="0.15" text-anchor="middle" font-weight="bold" >MT41J128M16JT-125</text>
<line x1="265.00" y1="73.50" x2="303.00" y2="73.50" stroke="#800040" stroke-width="1"/>
<line x1="303.00" y1="73.50" x2="320.50" y2="73.50" stroke="#ff0000" stroke-width="1"/>
<polygon points="317.50,71.45 320.50,73.25 317.50,75.05" stroke="#ff0000" stroke-width="0.6" fill="#ff0000"/>
<text x="267.00" y="72.15" font-size="5" fill="#ff3048" stroke="#ff3048" stroke-width="0.16" text-anchor="start" font-weight="normal" >DDR3_A0</text>
<text x="316.30" y="72.05" font-size="4.8" fill="#403850" stroke="#403850" stroke-width="0.15" text-anchor="end" font-weight="normal" >N3</text>
<text x="323.00" y="75.55" font-size="5" fill="#3c4890" stroke="#3c4890" stroke-width="0.15" text-anchor="start" font-weight="normal" >A0</text>
<line x1="265.00" y1="78.50" x2="303.00" y2="78.50" stroke="#800040" stroke-width="1"/>
<line x1="303.00" y1="78.50" x2="320.50" y2="78.50" stroke="#ff0000" stroke-width="1"/>
<polygon points="317.50,76.89 320.50,78.69 317.50,80.49" stroke="#ff0000" stroke-width="0.6" fill="#ff0000"/>
<text x="267.00" y="77.59" font-size="5" fill="#ff3048" stroke="#ff3048" stroke-width="0.16" text-anchor="start" font-weight="normal" >DDR3_A1</text>
<text x="316.30" y="77.49" font-size="4.8" fill="#403850" stroke="#403850" stroke-width="0.15" text-anchor="end" font-weight="normal" >P7</text>
<text x="323.00" y="80.99" font-size="5" fill="#3c4890" stroke="#3c4890" stroke-width="0.15" text-anchor="start" font-weight="normal" >A1</text>
<line x1="265.00" y1="84.50" x2="303.00" y2="84.50" stroke="#800040" stroke-width="1"/>
<line x1="303.00" y1="84.50" x2="320.50" y2="84.50" stroke="#ff0000" stroke-width="1"/>
<polygon points="317.50,82.32 320.50,84.12 317.50,85.92" stroke="#ff0000" stroke-width="0.6" fill="#ff0000"/>
<text x="267.00" y="83.02" font-size="5" fill="#ff3048" stroke="#ff3048" stroke-width="0.16" text-anchor="start" font-weight="normal" >DDR3_A2</text>
<text x="316.30" y="82.92" font-size="4.8" fill="#403850" stroke="#403850" stroke-width="0.15" text-anchor="end" font-weight="normal" >P3</text>
<text x="323.00" y="86.42" font-size="5" fill="#3c4890" stroke="#3c4890" stroke-width="0.15" text-anchor="start" font-weight="normal" >A2</text>
<line x1="265.00" y1="89.50" x2="303.00" y2="89.50" stroke="#800040" stroke-width="1"/>
<line x1="303.00" y1="89.50" x2="320.50" y2="89.50" stroke="#ff0000" stroke-width="1"/>
<polygon points="317.50,87.76 320.50,89.56 317.50,91.36" stroke="#ff0000" stroke-width="0.6" fill="#ff0000"/>
<text x="267.00" y="88.46" font-size="5" fill="#ff3048" stroke="#ff3048" stroke-width="0.16" text-anchor="start" font-weight="normal" >DDR3_A3</text>
<text x="316.30" y="88.36" font-size="4.8" fill="#403850" stroke="#403850" stroke-width="0.15" text-anchor="end" font-weight="normal" >N2</text>
<text x="323.00" y="91.86" font-size="5" fill="#3c4890" stroke="#3c4890" stroke-width="0.15" text-anchor="start" font-weight="normal" >A3</text>
<line x1="265.00" y1="94.50" x2="303.00" y2="94.50" stroke="#800040" stroke-width="1"/>
<line x1="303.00" y1="94.50" x2="320.50" y2="94.50" stroke="#ff0000" stroke-width="1"/>
<polygon points="317.50,93.19 320.50,94.99 317.50,96.79" stroke="#ff0000" stroke-width="0.6" fill="#ff0000"/>
<text x="267.00" y="93.89" font-size="5" fill="#ff3048" stroke="#ff3048" stroke-width="0.16" text-anchor="start" font-weight="normal" >DDR3_A4</text>
<text x="316.30" y="93.79" font-size="4.8" fill="#403850" stroke="#403850" stroke-width="0.15" text-anchor="end" font-weight="normal" >P8</text>
<text x="323.00" y="97.29" font-size="5" fill="#3c4890" stroke="#3c4890" stroke-width="0.15" text-anchor="start" font-weight="normal" >A4</text>
<line x1="265.00" y1="100.50" x2="303.00" y2="100.50" stroke="#800040" stroke-width="1"/>
<line x1="303.00" y1="100.50" x2="320.50" y2="100.50" stroke="#ff0000" stroke-width="1"/>
<polygon points="317.50,98.63 320.50,100.43 317.50,102.23" stroke="#ff0000" stroke-width="0.6" fill="#ff0000"/>
<text x="267.00" y="99.33" font-size="5" fill="#ff3048" stroke="#ff3048" stroke-width="0.16" text-anchor="start" font-weight="normal" >DDR3_A5</text>
<text x="316.30" y="99.23" font-size="4.8" fill="#403850" stroke="#403850" stroke-width="0.15" text-anchor="end" font-weight="normal" >P2</text>
<text x="323.00" y="102.73" font-size="5" fill="#3c4890" stroke="#3c4890" stroke-width="0.15" text-anchor="start" font-weight="normal" >A5</text>
<line x1="265.00" y1="105.50" x2="303.00" y2="105.50" stroke="#800040" stroke-width="1"/>
<line x1="303.00" y1="105.50" x2="320.50" y2="105.50" stroke="#ff0000" stroke-width="1"/>
<polygon points="317.50,104.07 320.50,105.87 317.50,107.67" stroke="#ff0000" stroke-width="0.6" fill="#ff0000"/>
<text x="267.00" y="104.77" font-size="5" fill="#ff3048" stroke="#ff3048" stroke-width="0.16" text-anchor="start" font-weight="normal" >DDR3_A6</text>
<text x="316.30" y="104.67" font-size="4.8" fill="#403850" stroke="#403850" stroke-width="0.15" text-anchor="end" font-weight="normal" >R8</text>
<text x="323.00" y="108.17" font-size="5" fill="#3c4890" stroke="#3c4890" stroke-width="0.15" text-anchor="start" font-weight="normal" >A6</text>
<line x1="265.00" y1="111.50" x2="303.00" y2="111.50" stroke="#800040" stroke-width="1"/>
<line x1="303.00" y1="111.50" x2="320.50" y2="111.50" stroke="#ff0000" stroke-width="1"/>
<polygon points="317.50,109.50 320.50,111.30 317.50,113.10" stroke="#ff0000" stroke-width="0.6" fill="#ff0000"/>
<text x="267.00" y="110.20" font-size="5" fill="#ff3048" stroke="#ff3048" stroke-width="0.16" text-anchor="start" font-weight="normal" >DDR3_A7</text>
<text x="316.30" y="110.10" font-size="4.8" fill="#403850" stroke="#403850" stroke-width="0.15" text-anchor="end" font-weight="normal" >R2</text>
<text x="323.00" y="113.60" font-size="5" fill="#3c4890" stroke="#3c4890" stroke-width="0.15" text-anchor="start" font-weight="normal" >A7</text>
<line x1="265.00" y1="116.50" x2="303.00" y2="116.50" stroke="#800040" stroke-width="1"/>
<line x1="303.00" y1="116.50" x2="320.50" y2="116.50" stroke="#ff0000" stroke-width="1"/>
<polygon points="317.50,114.94 320.50,116.74 317.50,118.54" stroke="#ff0000" stroke-width="0.6" fill="#ff0000"/>
<text x="267.00" y="115.64" font-size="5" fill="#ff3048" stroke="#ff3048" stroke-width="0.16" text-anchor="start" font-weight="normal" >DDR3_A8</text>
<text x="316.30" y="115.54" font-size="4.8" fill="#403850" stroke="#403850" stroke-width="0.15" text-anchor="end" font-weight="normal" >T8</text>
<text x="323.00" y="119.04" font-size="5" fill="#3c4890" stroke="#3c4890" stroke-width="0.15" text-anchor="start" font-weight="normal" >A8</text>
<line x1="265.00" y1="122.50" x2="303.00" y2="122.50" stroke="#800040" stroke-width="1"/>
<line x1="303.00" y1="122.50" x2="320.50" y2="122.50" stroke="#ff0000" stroke-width="1"/>
<polygon points="317.50,120.37 320.50,122.17 317.50,123.97" stroke="#ff0000" stroke-width="0.6" fill="#ff0000"/>
<text x="267.00" y="121.07" font-size="5" fill="#ff3048" stroke="#ff3048" stroke-width="0.16" text-anchor="start" font-weight="normal" >DDR3_A9</text>
<text x="316.30" y="120.97" font-size="4.8" fill="#403850" stroke="#403850" stroke-width="0.15" text-anchor="end" font-weight="normal" >R3</text>
<text x="323.00" y="124.47" font-size="5" fill="#3c4890" stroke="#3c4890" stroke-width="0.15" text-anchor="start" font-weight="normal" >A9</text>
<line x1="265.00" y1="127.50" x2="303.00" y2="127.50" stroke="#800040" stroke-width="1"/>
<line x1="303.00" y1="127.50" x2="320.50" y2="127.50" stroke="#ff0000" stroke-width="1"/>
<polygon points="317.50,125.81 320.50,127.61 317.50,129.41" stroke="#ff0000" stroke-width="0.6" fill="#ff0000"/>
<text x="267.00" y="126.51" font-size="5" fill="#ff3048" stroke="#ff3048" stroke-width="0.16" text-anchor="start" font-weight="normal" >DDR3_A10</text>
<text x="316.30" y="126.41" font-size="4.8" fill="#403850" stroke="#403850" stroke-width="0.15" text-anchor="end" font-weight="normal" >L7</text>
<text x="323.00" y="129.91" font-size="5" fill="#3c4890" stroke="#3c4890" stroke-width="0.15" text-anchor="start" font-weight="normal" >A10/AP</text>
<line x1="265.00" y1="133.50" x2="303.00" y2="133.50" stroke="#800040" stroke-width="1"/>
<line x1="303.00" y1="133.50" x2="320.50" y2="133.50" stroke="#ff0000" stroke-width="1"/>
<polygon points="317.50,131.25 320.50,133.05 317.50,134.85" stroke="#ff0000" stroke-width="0.6" fill="#ff0000"/>
<text x="267.00" y="131.95" font-size="5" fill="#ff3048" stroke="#ff3048" stroke-width="0.16" text-anchor="start" font-weight="normal" >DDR3_A11</text>
<text x="316.30" y="131.85" font-size="4.8" fill="#403850" stroke="#403850" stroke-width="0.15" text-anchor="end" font-weight="normal" >R7</text>
<text x="323.00" y="135.35" font-size="5" fill="#3c4890" stroke="#3c4890" stroke-width="0.15" text-anchor="start" font-weight="normal" >A11</text>
<line x1="265.00" y1="138.50" x2="303.00" y2="138.50" stroke="#800040" stroke-width="1"/>
<line x1="303.00" y1="138.50" x2="320.50" y2="138.50" stroke="#ff0000" stroke-width="1"/>
<polygon points="317.50,136.68 320.50,138.48 317.50,140.28" stroke="#ff0000" stroke-width="0.6" fill="#ff0000"/>
<text x="267.00" y="137.38" font-size="5" fill="#ff3048" stroke="#ff3048" stroke-width="0.16" text-anchor="start" font-weight="normal" >DDR3_A12</text>
<text x="316.30" y="137.28" font-size="4.8" fill="#403850" stroke="#403850" stroke-width="0.15" text-anchor="end" font-weight="normal" >N7</text>
<text x="323.00" y="140.78" font-size="5" fill="#3c4890" stroke="#3c4890" stroke-width="0.15" text-anchor="start" font-weight="normal" >A12/BCn</text>
<line x1="265.00" y1="143.50" x2="303.00" y2="143.50" stroke="#800040" stroke-width="1"/>
<line x1="303.00" y1="143.50" x2="320.50" y2="143.50" stroke="#ff0000" stroke-width="1"/>
<polygon points="317.50,142.12 320.50,143.92 317.50,145.72" stroke="#ff0000" stroke-width="0.6" fill="#ff0000"/>
<text x="267.00" y="142.82" font-size="5" fill="#ff3048" stroke="#ff3048" stroke-width="0.16" text-anchor="start" font-weight="normal" >DDR3_A13</text>
<text x="316.30" y="142.72" font-size="4.8" fill="#403850" stroke="#403850" stroke-width="0.15" text-anchor="end" font-weight="normal" >T3</text>
<text x="323.00" y="146.22" font-size="5" fill="#3c4890" stroke="#3c4890" stroke-width="0.15" text-anchor="start" font-weight="normal" >A13</text>
<line x1="265.00" y1="154.50" x2="303.00" y2="154.50" stroke="#800040" stroke-width="1"/>
<line x1="303.00" y1="154.50" x2="320.50" y2="154.50" stroke="#ff0000" stroke-width="1"/>
<polygon points="317.50,152.99 320.50,154.79 317.50,156.59" stroke="#ff0000" stroke-width="0.6" fill="#ff0000"/>
<text x="267.00" y="153.69" font-size="5" fill="#ff3048" stroke="#ff3048" stroke-width="0.16" text-anchor="start" font-weight="normal" >DDR3_CKE</text>
<text x="316.30" y="153.59" font-size="4.8" fill="#403850" stroke="#403850" stroke-width="0.15" text-anchor="end" font-weight="normal" >K9</text>
<text x="323.00" y="157.09" font-size="5" fill="#3c4890" stroke="#3c4890" stroke-width="0.15" text-anchor="start" font-weight="normal" >CKE</text>
<line x1="265.00" y1="160.50" x2="303.00" y2="160.50" stroke="#800040" stroke-width="1"/>
<line x1="303.00" y1="160.50" x2="320.50" y2="160.50" stroke="#ff0000" stroke-width="1"/>
<polyline points="318.00,158.43 320.50,160.23 318.00,162.03" stroke="#ff0000" stroke-width="0.9" fill="none" stroke-linejoin="miter"/>
<text x="267.00" y="159.13" font-size="5" fill="#ff3048" stroke="#ff3048" stroke-width="0.16" text-anchor="start" font-weight="normal" >DDR3_CLK_P</text>
<text x="316.30" y="159.03" font-size="4.8" fill="#403850" stroke="#403850" stroke-width="0.15" text-anchor="end" font-weight="normal" >J7</text>
<text x="323.00" y="162.53" font-size="5" fill="#3c4890" stroke="#3c4890" stroke-width="0.15" text-anchor="start" font-weight="normal" >CK_P</text>
<line x1="265.00" y1="165.50" x2="303.00" y2="165.50" stroke="#800040" stroke-width="1"/>
<line x1="303.00" y1="165.50" x2="320.50" y2="165.50" stroke="#ff0000" stroke-width="1"/>
<circle cx="318.90" cy="165.66" r="1.5" fill="none" stroke="#ff0000" stroke-width="0.9"/>
<text x="267.00" y="164.56" font-size="5" fill="#ff3048" stroke="#ff3048" stroke-width="0.16" text-anchor="start" font-weight="normal" >DDR3_CLK_N</text>
<text x="316.30" y="164.46" font-size="4.8" fill="#403850" stroke="#403850" stroke-width="0.15" text-anchor="end" font-weight="normal" >K7</text>
<text x="323.00" y="167.96" font-size="5" fill="#3c4890" stroke="#3c4890" stroke-width="0.15" text-anchor="start" font-weight="normal" >CK_N</text>
<line x1="265.00" y1="176.50" x2="303.00" y2="176.50" stroke="#800040" stroke-width="1"/>
<line x1="303.00" y1="176.50" x2="320.50" y2="176.50" stroke="#ff0000" stroke-width="1"/>
<polygon points="317.50,174.73 320.50,176.53 317.50,178.33" stroke="#ff0000" stroke-width="0.6" fill="#ff0000"/>
<text x="267.00" y="175.43" font-size="5" fill="#ff3048" stroke="#ff3048" stroke-width="0.16" text-anchor="start" font-weight="normal" >DDR3_DM0</text>
<text x="316.30" y="175.33" font-size="4.8" fill="#403850" stroke="#403850" stroke-width="0.15" text-anchor="end" font-weight="normal" >E7</text>
<text x="323.00" y="178.83" font-size="5" fill="#3c4890" stroke="#3c4890" stroke-width="0.15" text-anchor="start" font-weight="normal" >DM0</text>
<line x1="265.00" y1="181.50" x2="303.00" y2="181.50" stroke="#800040" stroke-width="1"/>
<line x1="303.00" y1="181.50" x2="320.50" y2="181.50" stroke="#ff0000" stroke-width="1"/>
<polygon points="317.50,180.17 320.50,181.97 317.50,183.77" stroke="#ff0000" stroke-width="0.6" fill="#ff0000"/>
<text x="267.00" y="180.87" font-size="5" fill="#ff3048" stroke="#ff3048" stroke-width="0.16" text-anchor="start" font-weight="normal" >DDR3_DM1</text>
<text x="316.30" y="180.77" font-size="4.8" fill="#403850" stroke="#403850" stroke-width="0.15" text-anchor="end" font-weight="normal" >D3</text>
<text x="323.00" y="184.27" font-size="5" fill="#3c4890" stroke="#3c4890" stroke-width="0.15" text-anchor="start" font-weight="normal" >DM1</text>
<line x1="265.00" y1="192.50" x2="303.00" y2="192.50" stroke="#800040" stroke-width="1"/>
<line x1="303.00" y1="192.50" x2="320.50" y2="192.50" stroke="#ff0000" stroke-width="1"/>
<polygon points="317.50,191.04 320.50,192.84 317.50,194.64" stroke="#ff0000" stroke-width="0.6" fill="#ff0000"/>
<text x="267.00" y="191.74" font-size="5" fill="#ff3048" stroke="#ff3048" stroke-width="0.16" text-anchor="start" font-weight="normal" >DDR3_CSn</text>
<text x="316.30" y="191.64" font-size="4.8" fill="#403850" stroke="#403850" stroke-width="0.15" text-anchor="end" font-weight="normal" >L2</text>
<text x="323.00" y="195.14" font-size="5" fill="#3c4890" stroke="#3c4890" stroke-width="0.15" text-anchor="start" font-weight="normal" >CS</text>
<line x1="322.50" y1="191.50" x2="331.00" y2="191.50" stroke="#203060" stroke-width="1"/>
<line x1="265.00" y1="198.50" x2="303.00" y2="198.50" stroke="#800040" stroke-width="1"/>
<line x1="303.00" y1="198.50" x2="320.50" y2="198.50" stroke="#ff0000" stroke-width="1"/>
<polygon points="317.50,196.48 320.50,198.28 317.50,200.08" stroke="#ff0000" stroke-width="0.6" fill="#ff0000"/>
<text x="267.00" y="197.18" font-size="5" fill="#ff3048" stroke="#ff3048" stroke-width="0.16" text-anchor="start" font-weight="normal" >DDR3_WEn</text>
<text x="316.30" y="197.08" font-size="4.8" fill="#403850" stroke="#403850" stroke-width="0.15" text-anchor="end" font-weight="normal" >L3</text>
<text x="323.00" y="200.58" font-size="5" fill="#3c4890" stroke="#3c4890" stroke-width="0.15" text-anchor="start" font-weight="normal" >WE</text>
<line x1="322.50" y1="196.50" x2="331.00" y2="196.50" stroke="#203060" stroke-width="1"/>
<line x1="265.00" y1="203.50" x2="303.00" y2="203.50" stroke="#800040" stroke-width="1"/>
<line x1="303.00" y1="203.50" x2="320.50" y2="203.50" stroke="#ff0000" stroke-width="1"/>
<polygon points="317.50,201.91 320.50,203.71 317.50,205.51" stroke="#ff0000" stroke-width="0.6" fill="#ff0000"/>
<text x="267.00" y="202.61" font-size="5" fill="#ff3048" stroke="#ff3048" stroke-width="0.16" text-anchor="start" font-weight="normal" >DDR3_RASn</text>
<text x="316.30" y="202.51" font-size="4.8" fill="#403850" stroke="#403850" stroke-width="0.15" text-anchor="end" font-weight="normal" >J3</text>
<text x="323.00" y="206.01" font-size="5" fill="#3c4890" stroke="#3c4890" stroke-width="0.15" text-anchor="start" font-weight="normal" >RAS</text>
<line x1="322.50" y1="202.50" x2="331.00" y2="202.50" stroke="#203060" stroke-width="1"/>
<line x1="265.00" y1="209.50" x2="303.00" y2="209.50" stroke="#800040" stroke-width="1"/>
<line x1="303.00" y1="209.50" x2="320.50" y2="209.50" stroke="#ff0000" stroke-width="1"/>
<polygon points="317.50,207.35 320.50,209.15 317.50,210.95" stroke="#ff0000" stroke-width="0.6" fill="#ff0000"/>
<text x="267.00" y="208.05" font-size="5" fill="#ff3048" stroke="#ff3048" stroke-width="0.16" text-anchor="start" font-weight="normal" >DDR3_CASn</text>
<text x="316.30" y="207.95" font-size="4.8" fill="#403850" stroke="#403850" stroke-width="0.15" text-anchor="end" font-weight="normal" >K3</text>
<text x="323.00" y="211.45" font-size="5" fill="#3c4890" stroke="#3c4890" stroke-width="0.15" text-anchor="start" font-weight="normal" >CAS</text>
<line x1="322.50" y1="207.50" x2="331.00" y2="207.50" stroke="#203060" stroke-width="1"/>
<line x1="265.00" y1="220.50" x2="303.00" y2="220.50" stroke="#800040" stroke-width="1"/>
<line x1="303.00" y1="220.50" x2="320.50" y2="220.50" stroke="#ff0000" stroke-width="1"/>
<polygon points="317.50,218.22 320.50,220.02 317.50,221.82" stroke="#ff0000" stroke-width="0.6" fill="#ff0000"/>
<text x="267.00" y="218.92" font-size="5" fill="#ff3048" stroke="#ff3048" stroke-width="0.16" text-anchor="start" font-weight="normal" >DDR3_BA0</text>
<text x="316.30" y="218.82" font-size="4.8" fill="#403850" stroke="#403850" stroke-width="0.15" text-anchor="end" font-weight="normal" >M2</text>
<text x="323.00" y="222.32" font-size="5" fill="#3c4890" stroke="#3c4890" stroke-width="0.15" text-anchor="start" font-weight="normal" >BA0</text>
<line x1="265.00" y1="225.50" x2="303.00" y2="225.50" stroke="#800040" stroke-width="1"/>
<line x1="303.00" y1="225.50" x2="320.50" y2="225.50" stroke="#ff0000" stroke-width="1"/>
<polygon points="317.50,223.66 320.50,225.46 317.50,227.26" stroke="#ff0000" stroke-width="0.6" fill="#ff0000"/>
<text x="267.00" y="224.36" font-size="5" fill="#ff3048" stroke="#ff3048" stroke-width="0.16" text-anchor="start" font-weight="normal" >DDR3_BA1</text>
<text x="316.30" y="224.26" font-size="4.8" fill="#403850" stroke="#403850" stroke-width="0.15" text-anchor="end" font-weight="normal" >N8</text>
<text x="323.00" y="227.76" font-size="5" fill="#3c4890" stroke="#3c4890" stroke-width="0.15" text-anchor="start" font-weight="normal" >BA1</text>
<line x1="265.00" y1="230.50" x2="303.00" y2="230.50" stroke="#800040" stroke-width="1"/>
<line x1="303.00" y1="230.50" x2="320.50" y2="230.50" stroke="#ff0000" stroke-width="1"/>
<polygon points="317.50,229.09 320.50,230.89 317.50,232.69" stroke="#ff0000" stroke-width="0.6" fill="#ff0000"/>
<text x="267.00" y="229.79" font-size="5" fill="#ff3048" stroke="#ff3048" stroke-width="0.16" text-anchor="start" font-weight="normal" >DDR3_BA2</text>
<text x="316.30" y="229.69" font-size="4.8" fill="#403850" stroke="#403850" stroke-width="0.15" text-anchor="end" font-weight="normal" >M3</text>
<text x="323.00" y="233.19" font-size="5" fill="#3c4890" stroke="#3c4890" stroke-width="0.15" text-anchor="start" font-weight="normal" >BA2</text>
<line x1="265.00" y1="236.50" x2="303.00" y2="236.50" stroke="#800040" stroke-width="1"/>
<line x1="303.00" y1="236.50" x2="320.50" y2="236.50" stroke="#ff0000" stroke-width="1"/>
<polygon points="317.50,234.53 320.50,236.33 317.50,238.13" stroke="#ff0000" stroke-width="0.6" fill="#ff0000"/>
<text x="267.00" y="235.23" font-size="5" fill="#ff3048" stroke="#ff3048" stroke-width="0.16" text-anchor="start" font-weight="normal" >DDR3_RESETn</text>
<text x="316.30" y="235.13" font-size="4.8" fill="#403850" stroke="#403850" stroke-width="0.15" text-anchor="end" font-weight="normal" >T2</text>
<text x="323.00" y="238.63" font-size="5" fill="#3c4890" stroke="#3c4890" stroke-width="0.15" text-anchor="start" font-weight="normal" >RESETn</text>
<line x1="265.00" y1="241.50" x2="303.00" y2="241.50" stroke="#800040" stroke-width="1"/>
<line x1="303.00" y1="241.50" x2="320.50" y2="241.50" stroke="#ff0000" stroke-width="1"/>
<polygon points="317.50,239.97 320.50,241.77 317.50,243.57" stroke="#ff0000" stroke-width="0.6" fill="#ff0000"/>
<text x="267.00" y="240.67" font-size="5" fill="#ff3048" stroke="#ff3048" stroke-width="0.16" text-anchor="start" font-weight="normal" >DDR3_ODT</text>
<text x="316.30" y="240.57" font-size="4.8" fill="#403850" stroke="#403850" stroke-width="0.15" text-anchor="end" font-weight="normal" >K1</text>
<text x="323.00" y="244.07" font-size="5" fill="#3c4890" stroke="#3c4890" stroke-width="0.15" text-anchor="start" font-weight="normal" >ODT</text>
<line x1="265.00" y1="247.50" x2="303.00" y2="247.50" stroke="#800040" stroke-width="1"/>
<line x1="303.00" y1="247.50" x2="320.50" y2="247.50" stroke="#ff0000" stroke-width="1"/>
<polygon points="317.50,245.40 320.50,247.20 317.50,249.00" stroke="#ff0000" stroke-width="0.6" fill="#ff0000"/>
<text x="267.00" y="246.10" font-size="5" fill="#ff3048" stroke="#ff3048" stroke-width="0.16" text-anchor="start" font-weight="normal" >DDR3_ZQ1</text>
<text x="316.30" y="246.00" font-size="4.8" fill="#403850" stroke="#403850" stroke-width="0.15" text-anchor="end" font-weight="normal" >L8</text>
<text x="323.00" y="249.50" font-size="5" fill="#3c4890" stroke="#3c4890" stroke-width="0.15" text-anchor="start" font-weight="normal" >ZQ</text>
<line x1="368.50" y1="73.50" x2="385.00" y2="73.50" stroke="#ff0000" stroke-width="1"/>
<line x1="385.00" y1="73.50" x2="428.00" y2="73.50" stroke="#800040" stroke-width="1"/>
<text x="385.50" y="72.15" font-size="5" fill="#ff3048" stroke="#ff3048" stroke-width="0.16" text-anchor="start" font-weight="normal" >DDR3_DQ0</text>
<text x="371.50" y="72.15" font-size="4.6" fill="#403850" stroke="#403850" stroke-width="0.15" text-anchor="start" font-weight="normal" >E3</text>
<text x="366.00" y="75.55" font-size="5" fill="#3c4890" stroke="#3c4890" stroke-width="0.15" text-anchor="end" font-weight="normal" >DQ0</text>
<line x1="368.50" y1="78.50" x2="385.00" y2="78.50" stroke="#ff0000" stroke-width="1"/>
<line x1="385.00" y1="78.50" x2="428.00" y2="78.50" stroke="#800040" stroke-width="1"/>
<text x="385.50" y="77.59" font-size="5" fill="#ff3048" stroke="#ff3048" stroke-width="0.16" text-anchor="start" font-weight="normal" >DDR3_DQ1</text>
<text x="371.50" y="77.59" font-size="4.6" fill="#403850" stroke="#403850" stroke-width="0.15" text-anchor="start" font-weight="normal" >F7</text>
<text x="366.00" y="80.99" font-size="5" fill="#3c4890" stroke="#3c4890" stroke-width="0.15" text-anchor="end" font-weight="normal" >DQ1</text>
<line x1="368.50" y1="84.50" x2="385.00" y2="84.50" stroke="#ff0000" stroke-width="1"/>
<line x1="385.00" y1="84.50" x2="428.00" y2="84.50" stroke="#800040" stroke-width="1"/>
<text x="385.50" y="83.02" font-size="5" fill="#ff3048" stroke="#ff3048" stroke-width="0.16" text-anchor="start" font-weight="normal" >DDR3_DQ2</text>
<text x="371.50" y="83.02" font-size="4.6" fill="#403850" stroke="#403850" stroke-width="0.15" text-anchor="start" font-weight="normal" >F2</text>
<text x="366.00" y="86.42" font-size="5" fill="#3c4890" stroke="#3c4890" stroke-width="0.15" text-anchor="end" font-weight="normal" >DQ2</text>
<line x1="368.50" y1="89.50" x2="385.00" y2="89.50" stroke="#ff0000" stroke-width="1"/>
<line x1="385.00" y1="89.50" x2="428.00" y2="89.50" stroke="#800040" stroke-width="1"/>
<text x="385.50" y="88.46" font-size="5" fill="#ff3048" stroke="#ff3048" stroke-width="0.16" text-anchor="start" font-weight="normal" >DDR3_DQ3</text>
<text x="371.50" y="88.46" font-size="4.6" fill="#403850" stroke="#403850" stroke-width="0.15" text-anchor="start" font-weight="normal" >F8</text>
<text x="366.00" y="91.86" font-size="5" fill="#3c4890" stroke="#3c4890" stroke-width="0.15" text-anchor="end" font-weight="normal" >DQ3</text>
<line x1="368.50" y1="94.50" x2="385.00" y2="94.50" stroke="#ff0000" stroke-width="1"/>
<line x1="385.00" y1="94.50" x2="428.00" y2="94.50" stroke="#800040" stroke-width="1"/>
<text x="385.50" y="93.89" font-size="5" fill="#ff3048" stroke="#ff3048" stroke-width="0.16" text-anchor="start" font-weight="normal" >DDR3_DQ4</text>
<text x="371.50" y="93.89" font-size="4.6" fill="#403850" stroke="#403850" stroke-width="0.15" text-anchor="start" font-weight="normal" >H3</text>
<text x="366.00" y="97.29" font-size="5" fill="#3c4890" stroke="#3c4890" stroke-width="0.15" text-anchor="end" font-weight="normal" >DQ4</text>
<line x1="368.50" y1="100.50" x2="385.00" y2="100.50" stroke="#ff0000" stroke-width="1"/>
<line x1="385.00" y1="100.50" x2="428.00" y2="100.50" stroke="#800040" stroke-width="1"/>
<text x="385.50" y="99.33" font-size="5" fill="#ff3048" stroke="#ff3048" stroke-width="0.16" text-anchor="start" font-weight="normal" >DDR3_DQ5</text>
<text x="371.50" y="99.33" font-size="4.6" fill="#403850" stroke="#403850" stroke-width="0.15" text-anchor="start" font-weight="normal" >H8</text>
<text x="366.00" y="102.73" font-size="5" fill="#3c4890" stroke="#3c4890" stroke-width="0.15" text-anchor="end" font-weight="normal" >DQ5</text>
<line x1="368.50" y1="105.50" x2="385.00" y2="105.50" stroke="#ff0000" stroke-width="1"/>
<line x1="385.00" y1="105.50" x2="428.00" y2="105.50" stroke="#800040" stroke-width="1"/>
<text x="385.50" y="104.77" font-size="5" fill="#ff3048" stroke="#ff3048" stroke-width="0.16" text-anchor="start" font-weight="normal" >DDR3_DQ6</text>
<text x="371.50" y="104.77" font-size="4.6" fill="#403850" stroke="#403850" stroke-width="0.15" text-anchor="start" font-weight="normal" >G2</text>
<text x="366.00" y="108.17" font-size="5" fill="#3c4890" stroke="#3c4890" stroke-width="0.15" text-anchor="end" font-weight="normal" >DQ6</text>
<line x1="368.50" y1="111.50" x2="385.00" y2="111.50" stroke="#ff0000" stroke-width="1"/>
<line x1="385.00" y1="111.50" x2="428.00" y2="111.50" stroke="#800040" stroke-width="1"/>
<text x="385.50" y="110.20" font-size="5" fill="#ff3048" stroke="#ff3048" stroke-width="0.16" text-anchor="start" font-weight="normal" >DDR3_DQ7</text>
<text x="371.50" y="110.20" font-size="4.6" fill="#403850" stroke="#403850" stroke-width="0.15" text-anchor="start" font-weight="normal" >H7</text>
<text x="366.00" y="113.60" font-size="5" fill="#3c4890" stroke="#3c4890" stroke-width="0.15" text-anchor="end" font-weight="normal" >DQ7</text>
<line x1="368.50" y1="116.50" x2="385.00" y2="116.50" stroke="#ff0000" stroke-width="1"/>
<line x1="385.00" y1="116.50" x2="428.00" y2="116.50" stroke="#800040" stroke-width="1"/>
<text x="385.50" y="115.64" font-size="5" fill="#ff3048" stroke="#ff3048" stroke-width="0.16" text-anchor="start" font-weight="normal" >DDR3_DQ8</text>
<text x="371.50" y="115.64" font-size="4.6" fill="#403850" stroke="#403850" stroke-width="0.15" text-anchor="start" font-weight="normal" >D7</text>
<text x="366.00" y="119.04" font-size="5" fill="#3c4890" stroke="#3c4890" stroke-width="0.15" text-anchor="end" font-weight="normal" >DQ8</text>
<line x1="368.50" y1="122.50" x2="385.00" y2="122.50" stroke="#ff0000" stroke-width="1"/>
<line x1="385.00" y1="122.50" x2="428.00" y2="122.50" stroke="#800040" stroke-width="1"/>
<text x="385.50" y="121.07" font-size="5" fill="#ff3048" stroke="#ff3048" stroke-width="0.16" text-anchor="start" font-weight="normal" >DDR3_DQ9</text>
<text x="371.50" y="121.07" font-size="4.6" fill="#403850" stroke="#403850" stroke-width="0.15" text-anchor="start" font-weight="normal" >C3</text>
<text x="366.00" y="124.47" font-size="5" fill="#3c4890" stroke="#3c4890" stroke-width="0.15" text-anchor="end" font-weight="normal" >DQ9</text>
<line x1="368.50" y1="127.50" x2="385.00" y2="127.50" stroke="#ff0000" stroke-width="1"/>
<line x1="385.00" y1="127.50" x2="428.00" y2="127.50" stroke="#800040" stroke-width="1"/>
<text x="385.50" y="126.51" font-size="5" fill="#ff3048" stroke="#ff3048" stroke-width="0.16" text-anchor="start" font-weight="normal" >DDR3_DQ10</text>
<text x="371.50" y="126.51" font-size="4.6" fill="#403850" stroke="#403850" stroke-width="0.15" text-anchor="start" font-weight="normal" >C8</text>
<text x="366.00" y="129.91" font-size="5" fill="#3c4890" stroke="#3c4890" stroke-width="0.15" text-anchor="end" font-weight="normal" >DQ10</text>
<line x1="368.50" y1="133.50" x2="385.00" y2="133.50" stroke="#ff0000" stroke-width="1"/>
<line x1="385.00" y1="133.50" x2="428.00" y2="133.50" stroke="#800040" stroke-width="1"/>
<text x="385.50" y="131.95" font-size="5" fill="#ff3048" stroke="#ff3048" stroke-width="0.16" text-anchor="start" font-weight="normal" >DDR3_DQ11</text>
<text x="371.50" y="131.95" font-size="4.6" fill="#403850" stroke="#403850" stroke-width="0.15" text-anchor="start" font-weight="normal" >C2</text>
<text x="366.00" y="135.35" font-size="5" fill="#3c4890" stroke="#3c4890" stroke-width="0.15" text-anchor="end" font-weight="normal" >DQ11</text>
<line x1="368.50" y1="138.50" x2="385.00" y2="138.50" stroke="#ff0000" stroke-width="1"/>
<line x1="385.00" y1="138.50" x2="428.00" y2="138.50" stroke="#800040" stroke-width="1"/>
<text x="385.50" y="137.38" font-size="5" fill="#ff3048" stroke="#ff3048" stroke-width="0.16" text-anchor="start" font-weight="normal" >DDR3_DQ12</text>
<text x="371.50" y="137.38" font-size="4.6" fill="#403850" stroke="#403850" stroke-width="0.15" text-anchor="start" font-weight="normal" >A7</text>
<text x="366.00" y="140.78" font-size="5" fill="#3c4890" stroke="#3c4890" stroke-width="0.15" text-anchor="end" font-weight="normal" >DQ12</text>
<line x1="368.50" y1="143.50" x2="385.00" y2="143.50" stroke="#ff0000" stroke-width="1"/>
<line x1="385.00" y1="143.50" x2="428.00" y2="143.50" stroke="#800040" stroke-width="1"/>
<text x="385.50" y="142.82" font-size="5" fill="#ff3048" stroke="#ff3048" stroke-width="0.16" text-anchor="start" font-weight="normal" >DDR3_DQ13</text>
<text x="371.50" y="142.82" font-size="4.6" fill="#403850" stroke="#403850" stroke-width="0.15" text-anchor="start" font-weight="normal" >A2</text>
<text x="366.00" y="146.22" font-size="5" fill="#3c4890" stroke="#3c4890" stroke-width="0.15" text-anchor="end" font-weight="normal" >DQ13</text>
<line x1="368.50" y1="149.50" x2="385.00" y2="149.50" stroke="#ff0000" stroke-width="1"/>
<line x1="385.00" y1="149.50" x2="428.00" y2="149.50" stroke="#800040" stroke-width="1"/>
<text x="385.50" y="148.25" font-size="5" fill="#ff3048" stroke="#ff3048" stroke-width="0.16" text-anchor="start" font-weight="normal" >DDR3_DQ14</text>
<text x="371.50" y="148.25" font-size="4.6" fill="#403850" stroke="#403850" stroke-width="0.15" text-anchor="start" font-weight="normal" >B8</text>
<text x="366.00" y="151.65" font-size="5" fill="#3c4890" stroke="#3c4890" stroke-width="0.15" text-anchor="end" font-weight="normal" >DQ14</text>
<line x1="368.50" y1="154.50" x2="385.00" y2="154.50" stroke="#ff0000" stroke-width="1"/>
<line x1="385.00" y1="154.50" x2="428.00" y2="154.50" stroke="#800040" stroke-width="1"/>
<text x="385.50" y="153.69" font-size="5" fill="#ff3048" stroke="#ff3048" stroke-width="0.16" text-anchor="start" font-weight="normal" >DDR3_DQ15</text>
<text x="371.50" y="153.69" font-size="4.6" fill="#403850" stroke="#403850" stroke-width="0.15" text-anchor="start" font-weight="normal" >A3</text>
<text x="366.00" y="157.09" font-size="5" fill="#3c4890" stroke="#3c4890" stroke-width="0.15" text-anchor="end" font-weight="normal" >DQ15</text>
<line x1="368.50" y1="165.50" x2="385.00" y2="165.50" stroke="#ff0000" stroke-width="1"/>
<line x1="385.00" y1="165.50" x2="428.00" y2="165.50" stroke="#800040" stroke-width="1"/>
<text x="385.50" y="164.56" font-size="5" fill="#ff3048" stroke="#ff3048" stroke-width="0.16" text-anchor="start" font-weight="normal" >DDR3_DQS_P0</text>
<text x="371.50" y="164.56" font-size="4.6" fill="#403850" stroke="#403850" stroke-width="0.15" text-anchor="start" font-weight="normal" >F3</text>
<text x="366.00" y="167.96" font-size="5" fill="#3c4890" stroke="#3c4890" stroke-width="0.15" text-anchor="end" font-weight="normal" >DQS_P0</text>
<line x1="368.50" y1="171.50" x2="385.00" y2="171.50" stroke="#ff0000" stroke-width="1"/>
<line x1="385.00" y1="171.50" x2="428.00" y2="171.50" stroke="#800040" stroke-width="1"/>
<text x="385.50" y="170.00" font-size="5" fill="#ff3048" stroke="#ff3048" stroke-width="0.16" text-anchor="start" font-weight="normal" >DDR3_DQS_N0</text>
<text x="371.50" y="170.00" font-size="4.6" fill="#403850" stroke="#403850" stroke-width="0.15" text-anchor="start" font-weight="normal" >G3</text>
<text x="366.00" y="173.40" font-size="5" fill="#3c4890" stroke="#3c4890" stroke-width="0.15" text-anchor="end" font-weight="normal" >DQS_N0</text>
<line x1="368.50" y1="176.50" x2="385.00" y2="176.50" stroke="#ff0000" stroke-width="1"/>
<line x1="385.00" y1="176.50" x2="428.00" y2="176.50" stroke="#800040" stroke-width="1"/>
<text x="385.50" y="175.43" font-size="5" fill="#ff3048" stroke="#ff3048" stroke-width="0.16" text-anchor="start" font-weight="normal" >DDR3_DQS_P1</text>
<text x="371.50" y="175.43" font-size="4.6" fill="#403850" stroke="#403850" stroke-width="0.15" text-anchor="start" font-weight="normal" >C7</text>
<text x="366.00" y="178.83" font-size="5" fill="#3c4890" stroke="#3c4890" stroke-width="0.15" text-anchor="end" font-weight="normal" >DQS_P1</text>
<line x1="368.50" y1="181.50" x2="385.00" y2="181.50" stroke="#ff0000" stroke-width="1"/>
<line x1="385.00" y1="181.50" x2="428.00" y2="181.50" stroke="#800040" stroke-width="1"/>
<text x="385.50" y="180.87" font-size="5" fill="#ff3048" stroke="#ff3048" stroke-width="0.16" text-anchor="start" font-weight="normal" >DDR3_DQS_N1</text>
<text x="371.50" y="180.87" font-size="4.6" fill="#403850" stroke="#403850" stroke-width="0.15" text-anchor="start" font-weight="normal" >B7</text>
<text x="366.00" y="184.27" font-size="5" fill="#3c4890" stroke="#3c4890" stroke-width="0.15" text-anchor="end" font-weight="normal" >DQS_N1</text>
<line x1="368.50" y1="198.50" x2="384.00" y2="198.50" stroke="#ff0000" stroke-width="1"/>
<line x1="383.30" y1="196.08" x2="387.70" y2="200.48" stroke="#804020" stroke-width="1.0"/>
<line x1="383.30" y1="200.48" x2="387.70" y2="196.08" stroke="#804020" stroke-width="1.0"/>
<text x="371.50" y="197.18" font-size="4.6" fill="#403850" stroke="#403850" stroke-width="0.15" text-anchor="start" font-weight="normal" >J1</text>
<text x="366.00" y="200.58" font-size="5" fill="#3c4890" stroke="#3c4890" stroke-width="0.15" text-anchor="end" font-weight="normal" >NC1</text>
<line x1="368.50" y1="203.50" x2="384.00" y2="203.50" stroke="#ff0000" stroke-width="1"/>
<line x1="383.30" y1="201.51" x2="387.70" y2="205.91" stroke="#804020" stroke-width="1.0"/>
<line x1="383.30" y1="205.91" x2="387.70" y2="201.51" stroke="#804020" stroke-width="1.0"/>
<text x="371.50" y="202.61" font-size="4.6" fill="#403850" stroke="#403850" stroke-width="0.15" text-anchor="start" font-weight="normal" >J9</text>
<text x="366.00" y="206.01" font-size="5" fill="#3c4890" stroke="#3c4890" stroke-width="0.15" text-anchor="end" font-weight="normal" >NC2</text>
<line x1="368.50" y1="209.50" x2="384.00" y2="209.50" stroke="#ff0000" stroke-width="1"/>
<line x1="383.30" y1="206.95" x2="387.70" y2="211.35" stroke="#804020" stroke-width="1.0"/>
<line x1="383.30" y1="211.35" x2="387.70" y2="206.95" stroke="#804020" stroke-width="1.0"/>
<text x="371.50" y="208.05" font-size="4.6" fill="#403850" stroke="#403850" stroke-width="0.15" text-anchor="start" font-weight="normal" >L1</text>
<text x="366.00" y="211.45" font-size="5" fill="#3c4890" stroke="#3c4890" stroke-width="0.15" text-anchor="end" font-weight="normal" >NC3</text>
<line x1="368.50" y1="214.50" x2="384.00" y2="214.50" stroke="#ff0000" stroke-width="1"/>
<line x1="383.30" y1="212.39" x2="387.70" y2="216.79" stroke="#804020" stroke-width="1.0"/>
<line x1="383.30" y1="216.79" x2="387.70" y2="212.39" stroke="#804020" stroke-width="1.0"/>
<text x="371.50" y="213.49" font-size="4.6" fill="#403850" stroke="#403850" stroke-width="0.15" text-anchor="start" font-weight="normal" >L9</text>
<text x="366.00" y="216.89" font-size="5" fill="#3c4890" stroke="#3c4890" stroke-width="0.15" text-anchor="end" font-weight="normal" >NC4</text>
<line x1="368.50" y1="220.50" x2="384.00" y2="220.50" stroke="#ff0000" stroke-width="1"/>
<line x1="383.30" y1="217.82" x2="387.70" y2="222.22" stroke="#804020" stroke-width="1.0"/>
<line x1="383.30" y1="222.22" x2="387.70" y2="217.82" stroke="#804020" stroke-width="1.0"/>
<text x="371.50" y="218.92" font-size="4.6" fill="#403850" stroke="#403850" stroke-width="0.15" text-anchor="start" font-weight="normal" >M7</text>
<text x="366.00" y="222.32" font-size="5" fill="#3c4890" stroke="#3c4890" stroke-width="0.15" text-anchor="end" font-weight="normal" >NC5</text>
<line x1="368.50" y1="225.50" x2="384.00" y2="225.50" stroke="#ff0000" stroke-width="1"/>
<line x1="383.30" y1="223.26" x2="387.70" y2="227.66" stroke="#804020" stroke-width="1.0"/>
<line x1="383.30" y1="227.66" x2="387.70" y2="223.26" stroke="#804020" stroke-width="1.0"/>
<text x="371.50" y="224.36" font-size="4.6" fill="#403850" stroke="#403850" stroke-width="0.15" text-anchor="start" font-weight="normal" >T7</text>
<text x="366.00" y="227.76" font-size="5" fill="#3c4890" stroke="#3c4890" stroke-width="0.15" text-anchor="end" font-weight="normal" >NC6</text>
<line x1="368.50" y1="252.50" x2="386.50" y2="252.50" stroke="#ff0000" stroke-width="1"/>
<line x1="386.50" y1="252.50" x2="390.50" y2="252.50" stroke="#800040" stroke-width="1"/>
<text x="371.50" y="251.54" font-size="4.6" fill="#403850" stroke="#403850" stroke-width="0.15" text-anchor="start" font-weight="normal" >B1</text>
<text x="366.00" y="254.94" font-size="5" fill="#3c4890" stroke="#3c4890" stroke-width="0.15" text-anchor="end" font-weight="normal" >VSSQ</text>
<line x1="368.50" y1="258.50" x2="386.50" y2="258.50" stroke="#ff0000" stroke-width="1"/>
<line x1="386.50" y1="258.50" x2="390.50" y2="258.50" stroke="#800040" stroke-width="1"/>
<text x="371.50" y="256.97" font-size="4.6" fill="#403850" stroke="#403850" stroke-width="0.15" text-anchor="start" font-weight="normal" >B9</text>
<text x="366.00" y="260.37" font-size="5" fill="#3c4890" stroke="#3c4890" stroke-width="0.15" text-anchor="end" font-weight="normal" >VSSQ</text>
<line x1="368.50" y1="263.50" x2="386.50" y2="263.50" stroke="#ff0000" stroke-width="1"/>
<line x1="386.50" y1="263.50" x2="390.50" y2="263.50" stroke="#800040" stroke-width="1"/>
<text x="371.50" y="262.41" font-size="4.6" fill="#403850" stroke="#403850" stroke-width="0.15" text-anchor="start" font-weight="normal" >D1</text>
<text x="366.00" y="265.81" font-size="5" fill="#3c4890" stroke="#3c4890" stroke-width="0.15" text-anchor="end" font-weight="normal" >VSSQ</text>
<line x1="368.50" y1="268.50" x2="386.50" y2="268.50" stroke="#ff0000" stroke-width="1"/>
<line x1="386.50" y1="268.50" x2="390.50" y2="268.50" stroke="#800040" stroke-width="1"/>
<text x="371.50" y="267.85" font-size="4.6" fill="#403850" stroke="#403850" stroke-width="0.15" text-anchor="start" font-weight="normal" >D8</text>
<text x="366.00" y="271.25" font-size="5" fill="#3c4890" stroke="#3c4890" stroke-width="0.15" text-anchor="end" font-weight="normal" >VSSQ</text>
<line x1="368.50" y1="274.50" x2="386.50" y2="274.50" stroke="#ff0000" stroke-width="1"/>
<line x1="386.50" y1="274.50" x2="390.50" y2="274.50" stroke="#800040" stroke-width="1"/>
<text x="371.50" y="273.28" font-size="4.6" fill="#403850" stroke="#403850" stroke-width="0.15" text-anchor="start" font-weight="normal" >E2</text>
<text x="366.00" y="276.68" font-size="5" fill="#3c4890" stroke="#3c4890" stroke-width="0.15" text-anchor="end" font-weight="normal" >VSSQ</text>
<line x1="368.50" y1="279.50" x2="386.50" y2="279.50" stroke="#ff0000" stroke-width="1"/>
<line x1="386.50" y1="279.50" x2="390.50" y2="279.50" stroke="#800040" stroke-width="1"/>
<text x="371.50" y="278.72" font-size="4.6" fill="#403850" stroke="#403850" stroke-width="0.15" text-anchor="start" font-weight="normal" >E8</text>
<text x="366.00" y="282.12" font-size="5" fill="#3c4890" stroke="#3c4890" stroke-width="0.15" text-anchor="end" font-weight="normal" >VSSQ</text>
<line x1="368.50" y1="285.50" x2="386.50" y2="285.50" stroke="#ff0000" stroke-width="1"/>
<line x1="386.50" y1="285.50" x2="390.50" y2="285.50" stroke="#800040" stroke-width="1"/>
<text x="371.50" y="284.15" font-size="4.6" fill="#403850" stroke="#403850" stroke-width="0.15" text-anchor="start" font-weight="normal" >F9</text>
<text x="366.00" y="287.55" font-size="5" fill="#3c4890" stroke="#3c4890" stroke-width="0.15" text-anchor="end" font-weight="normal" >VSSQ</text>
<line x1="368.50" y1="290.50" x2="386.50" y2="290.50" stroke="#ff0000" stroke-width="1"/>
<line x1="386.50" y1="290.50" x2="390.50" y2="290.50" stroke="#800040" stroke-width="1"/>
<text x="371.50" y="289.59" font-size="4.6" fill="#403850" stroke="#403850" stroke-width="0.15" text-anchor="start" font-weight="normal" >G1</text>
<text x="366.00" y="292.99" font-size="5" fill="#3c4890" stroke="#3c4890" stroke-width="0.15" text-anchor="end" font-weight="normal" >VSSQ</text>
<line x1="368.50" y1="296.50" x2="386.50" y2="296.50" stroke="#ff0000" stroke-width="1"/>
<line x1="386.50" y1="296.50" x2="390.50" y2="296.50" stroke="#800040" stroke-width="1"/>
<text x="371.50" y="295.03" font-size="4.6" fill="#403850" stroke="#403850" stroke-width="0.15" text-anchor="start" font-weight="normal" >G9</text>
<text x="366.00" y="298.43" font-size="5" fill="#3c4890" stroke="#3c4890" stroke-width="0.15" text-anchor="end" font-weight="normal" >VSSQ</text>
<line x1="368.50" y1="306.50" x2="386.50" y2="306.50" stroke="#ff0000" stroke-width="1"/>
<line x1="386.50" y1="306.50" x2="390.50" y2="306.50" stroke="#800040" stroke-width="1"/>
<text x="371.50" y="305.90" font-size="4.6" fill="#403850" stroke="#403850" stroke-width="0.15" text-anchor="start" font-weight="normal" >J2</text>
<text x="366.00" y="309.30" font-size="5" fill="#3c4890" stroke="#3c4890" stroke-width="0.15" text-anchor="end" font-weight="normal" >VSS</text>
<line x1="368.50" y1="312.50" x2="386.50" y2="312.50" stroke="#ff0000" stroke-width="1"/>
<line x1="386.50" y1="312.50" x2="390.50" y2="312.50" stroke="#800040" stroke-width="1"/>
<text x="371.50" y="311.33" font-size="4.6" fill="#403850" stroke="#403850" stroke-width="0.15" text-anchor="start" font-weight="normal" >J8</text>
<text x="366.00" y="314.73" font-size="5" fill="#3c4890" stroke="#3c4890" stroke-width="0.15" text-anchor="end" font-weight="normal" >VSS</text>
<line x1="368.50" y1="317.50" x2="386.50" y2="317.50" stroke="#ff0000" stroke-width="1"/>
<line x1="386.50" y1="317.50" x2="390.50" y2="317.50" stroke="#800040" stroke-width="1"/>
<text x="371.50" y="316.77" font-size="4.6" fill="#403850" stroke="#403850" stroke-width="0.15" text-anchor="start" font-weight="normal" >A9</text>
<text x="366.00" y="320.17" font-size="5" fill="#3c4890" stroke="#3c4890" stroke-width="0.15" text-anchor="end" font-weight="normal" >VSS</text>
<line x1="368.50" y1="323.50" x2="386.50" y2="323.50" stroke="#ff0000" stroke-width="1"/>
<line x1="386.50" y1="323.50" x2="390.50" y2="323.50" stroke="#800040" stroke-width="1"/>
<text x="371.50" y="322.21" font-size="4.6" fill="#403850" stroke="#403850" stroke-width="0.15" text-anchor="start" font-weight="normal" >M1</text>
<text x="366.00" y="325.61" font-size="5" fill="#3c4890" stroke="#3c4890" stroke-width="0.15" text-anchor="end" font-weight="normal" >VSS</text>
<line x1="368.50" y1="328.50" x2="386.50" y2="328.50" stroke="#ff0000" stroke-width="1"/>
<line x1="386.50" y1="328.50" x2="390.50" y2="328.50" stroke="#800040" stroke-width="1"/>
<text x="371.50" y="327.64" font-size="4.6" fill="#403850" stroke="#403850" stroke-width="0.15" text-anchor="start" font-weight="normal" >M9</text>
<text x="366.00" y="331.04" font-size="5" fill="#3c4890" stroke="#3c4890" stroke-width="0.15" text-anchor="end" font-weight="normal" >VSS</text>
<line x1="368.50" y1="334.50" x2="386.50" y2="334.50" stroke="#ff0000" stroke-width="1"/>
<line x1="386.50" y1="334.50" x2="390.50" y2="334.50" stroke="#800040" stroke-width="1"/>
<text x="371.50" y="333.08" font-size="4.6" fill="#403850" stroke="#403850" stroke-width="0.15" text-anchor="start" font-weight="normal" >B3</text>
<text x="366.00" y="336.48" font-size="5" fill="#3c4890" stroke="#3c4890" stroke-width="0.15" text-anchor="end" font-weight="normal" >VSS</text>
<line x1="368.50" y1="339.50" x2="386.50" y2="339.50" stroke="#ff0000" stroke-width="1"/>
<line x1="386.50" y1="339.50" x2="390.50" y2="339.50" stroke="#800040" stroke-width="1"/>
<text x="371.50" y="338.51" font-size="4.6" fill="#403850" stroke="#403850" stroke-width="0.15" text-anchor="start" font-weight="normal" >P1</text>
<text x="366.00" y="341.91" font-size="5" fill="#3c4890" stroke="#3c4890" stroke-width="0.15" text-anchor="end" font-weight="normal" >VSS</text>
<line x1="368.50" y1="345.50" x2="386.50" y2="345.50" stroke="#ff0000" stroke-width="1"/>
<line x1="386.50" y1="345.50" x2="390.50" y2="345.50" stroke="#800040" stroke-width="1"/>
<text x="371.50" y="343.95" font-size="4.6" fill="#403850" stroke="#403850" stroke-width="0.15" text-anchor="start" font-weight="normal" >P9</text>
<text x="366.00" y="347.35" font-size="5" fill="#3c4890" stroke="#3c4890" stroke-width="0.15" text-anchor="end" font-weight="normal" >VSS</text>
<line x1="368.50" y1="350.50" x2="386.50" y2="350.50" stroke="#ff0000" stroke-width="1"/>
<line x1="386.50" y1="350.50" x2="390.50" y2="350.50" stroke="#800040" stroke-width="1"/>
<text x="371.50" y="349.39" font-size="4.6" fill="#403850" stroke="#403850" stroke-width="0.15" text-anchor="start" font-weight="normal" >E1</text>
<text x="366.00" y="352.79" font-size="5" fill="#3c4890" stroke="#3c4890" stroke-width="0.15" text-anchor="end" font-weight="normal" >VSS</text>
<line x1="368.50" y1="355.50" x2="386.50" y2="355.50" stroke="#ff0000" stroke-width="1"/>
<line x1="386.50" y1="355.50" x2="390.50" y2="355.50" stroke="#800040" stroke-width="1"/>
<text x="371.50" y="354.82" font-size="4.6" fill="#403850" stroke="#403850" stroke-width="0.15" text-anchor="start" font-weight="normal" >T1</text>
<text x="366.00" y="358.22" font-size="5" fill="#3c4890" stroke="#3c4890" stroke-width="0.15" text-anchor="end" font-weight="normal" >VSS</text>
<line x1="368.50" y1="361.50" x2="386.50" y2="361.50" stroke="#ff0000" stroke-width="1"/>
<line x1="386.50" y1="361.50" x2="390.50" y2="361.50" stroke="#800040" stroke-width="1"/>
<text x="371.50" y="360.26" font-size="4.6" fill="#403850" stroke="#403850" stroke-width="0.15" text-anchor="start" font-weight="normal" >T9</text>
<text x="366.00" y="363.66" font-size="5" fill="#3c4890" stroke="#3c4890" stroke-width="0.15" text-anchor="end" font-weight="normal" >VSS</text>
<line x1="368.50" y1="366.50" x2="386.50" y2="366.50" stroke="#ff0000" stroke-width="1"/>
<line x1="386.50" y1="366.50" x2="390.50" y2="366.50" stroke="#800040" stroke-width="1"/>
<text x="371.50" y="365.69" font-size="4.6" fill="#403850" stroke="#403850" stroke-width="0.15" text-anchor="start" font-weight="normal" >G8</text>
<text x="366.00" y="369.09" font-size="5" fill="#3c4890" stroke="#3c4890" stroke-width="0.15" text-anchor="end" font-weight="normal" >VSS</text>
<line x1="271.30" y1="258.50" x2="303.00" y2="258.50" stroke="#800040" stroke-width="1"/>
<line x1="303.00" y1="258.50" x2="320.50" y2="258.50" stroke="#ff0000" stroke-width="1"/>
<text x="317.00" y="256.97" font-size="4.6" fill="#403850" stroke="#403850" stroke-width="0.15" text-anchor="end" font-weight="normal" >H1</text>
<text x="323.00" y="260.37" font-size="5" fill="#3c4890" stroke="#3c4890" stroke-width="0.15" text-anchor="start" font-weight="normal" >VREFDQ</text>
<line x1="271.30" y1="263.50" x2="303.00" y2="263.50" stroke="#800040" stroke-width="1"/>
<line x1="303.00" y1="263.50" x2="320.50" y2="263.50" stroke="#ff0000" stroke-width="1"/>
<text x="317.00" y="262.41" font-size="4.6" fill="#403850" stroke="#403850" stroke-width="0.15" text-anchor="end" font-weight="normal" >M8</text>
<text x="323.00" y="265.81" font-size="5" fill="#3c4890" stroke="#3c4890" stroke-width="0.15" text-anchor="start" font-weight="normal" >VREFCA</text>
<line x1="268.80" y1="252.50" x2="273.80" y2="252.50" stroke="#ff0000" stroke-width="1.2"/>
<text x="266.30" y="250.80" font-size="5" fill="#403850" stroke="#403850" stroke-width="0.15" text-anchor="start" font-weight="normal" >VREF_DDR3</text>
<line x1="271.50" y1="252.50" x2="271.50" y2="268.00" stroke="#800040" stroke-width="1"/>
<line x1="271.50" y1="268.00" x2="271.50" y2="275.30" stroke="#ff0000" stroke-width="1"/>
<line x1="266.10" y1="275.50" x2="276.50" y2="275.50" stroke="#0000ff" stroke-width="1.3"/>
<line x1="266.10" y1="278.50" x2="276.50" y2="278.50" stroke="#0000ff" stroke-width="1.3"/>
<line x1="271.50" y1="278.30" x2="271.50" y2="292.80" stroke="#ff0000" stroke-width="1"/>
<line x1="271.50" y1="292.80" x2="271.50" y2="296.30" stroke="#ff0000" stroke-width="1"/>
<line x1="266.00" y1="296.50" x2="276.60" y2="296.50" stroke="#ff0000" stroke-width="1.2"/>
<line x1="267.80" y1="298.50" x2="274.80" y2="298.50" stroke="#ff0000" stroke-width="1.2"/>
<line x1="269.80" y1="301.50" x2="272.80" y2="301.50" stroke="#ff0000" stroke-width="1.2"/>
<text x="277.30" y="272.50" font-size="5" fill="#1a1a80" stroke="#1a1a80" stroke-width="0.15" text-anchor="start" font-weight="bold" >C19</text>
<text x="277.30" y="283.50" font-size="5" fill="#1a1a80" stroke="#1a1a80" stroke-width="0.15" text-anchor="start" font-weight="bold" >0.1uF</text>
<line x1="243.50" y1="247.50" x2="303.00" y2="247.50" stroke="#800040" stroke-width="1"/>
<line x1="243.50" y1="247.20" x2="243.50" y2="261.50" stroke="#800040" stroke-width="1"/>
<line x1="243.50" y1="261.50" x2="243.50" y2="268.50" stroke="#ff0000" stroke-width="1"/>
<polyline points="245.00,268.50 241.50,273.51 245.50,276.85 241.50,280.19 245.50,285.20" stroke="#0000ff" stroke-width="1.3" fill="none" stroke-linejoin="miter"/>
<line x1="243.50" y1="285.20" x2="243.50" y2="292.80" stroke="#ff0000" stroke-width="1"/>
<line x1="243.50" y1="292.80" x2="243.50" y2="296.30" stroke="#ff0000" stroke-width="1"/>
<line x1="238.20" y1="296.50" x2="248.80" y2="296.50" stroke="#ff0000" stroke-width="1.2"/>
<line x1="240.00" y1="298.50" x2="247.00" y2="298.50" stroke="#ff0000" stroke-width="1.2"/>
<line x1="242.00" y1="301.50" x2="245.00" y2="301.50" stroke="#ff0000" stroke-width="1.2"/>
<text x="246.00" y="267.70" font-size="5" fill="#1a1a80" stroke="#1a1a80" stroke-width="0.15" text-anchor="start" font-weight="bold" >R61</text>
<text x="246.00" y="290.70" font-size="5" fill="#1a1a80" stroke="#1a1a80" stroke-width="0.15" text-anchor="start" font-weight="bold" >240</text>
<line x1="303.40" y1="274.50" x2="303.00" y2="274.50" stroke="#800040" stroke-width="1"/>
<line x1="303.40" y1="274.50" x2="320.50" y2="274.50" stroke="#ff0000" stroke-width="1"/>
<text x="317.00" y="273.28" font-size="4.6" fill="#403850" stroke="#403850" stroke-width="0.15" text-anchor="end" font-weight="normal" >B2</text>
<text x="323.00" y="276.68" font-size="5" fill="#3c4890" stroke="#3c4890" stroke-width="0.15" text-anchor="start" font-weight="normal" >VDD</text>
<line x1="303.40" y1="279.50" x2="303.00" y2="279.50" stroke="#800040" stroke-width="1"/>
<line x1="303.40" y1="279.50" x2="320.50" y2="279.50" stroke="#ff0000" stroke-width="1"/>
<text x="317.00" y="278.72" font-size="4.6" fill="#403850" stroke="#403850" stroke-width="0.15" text-anchor="end" font-weight="normal" >D9</text>
<text x="323.00" y="282.12" font-size="5" fill="#3c4890" stroke="#3c4890" stroke-width="0.15" text-anchor="start" font-weight="normal" >VDD</text>
<line x1="303.40" y1="285.50" x2="303.00" y2="285.50" stroke="#800040" stroke-width="1"/>
<line x1="303.40" y1="285.50" x2="320.50" y2="285.50" stroke="#ff0000" stroke-width="1"/>
<text x="317.00" y="284.15" font-size="4.6" fill="#403850" stroke="#403850" stroke-width="0.15" text-anchor="end" font-weight="normal" >G7</text>
<text x="323.00" y="287.55" font-size="5" fill="#3c4890" stroke="#3c4890" stroke-width="0.15" text-anchor="start" font-weight="normal" >VDD</text>
<line x1="303.40" y1="290.50" x2="303.00" y2="290.50" stroke="#800040" stroke-width="1"/>
<line x1="303.40" y1="290.50" x2="320.50" y2="290.50" stroke="#ff0000" stroke-width="1"/>
<text x="317.00" y="289.59" font-size="4.6" fill="#403850" stroke="#403850" stroke-width="0.15" text-anchor="end" font-weight="normal" >K2</text>
<text x="323.00" y="292.99" font-size="5" fill="#3c4890" stroke="#3c4890" stroke-width="0.15" text-anchor="start" font-weight="normal" >VDD</text>
<line x1="303.40" y1="296.50" x2="303.00" y2="296.50" stroke="#800040" stroke-width="1"/>
<line x1="303.40" y1="296.50" x2="320.50" y2="296.50" stroke="#ff0000" stroke-width="1"/>
<text x="317.00" y="295.03" font-size="4.6" fill="#403850" stroke="#403850" stroke-width="0.15" text-anchor="end" font-weight="normal" >K8</text>
<text x="323.00" y="298.43" font-size="5" fill="#3c4890" stroke="#3c4890" stroke-width="0.15" text-anchor="start" font-weight="normal" >VDD</text>
<line x1="303.40" y1="301.50" x2="303.00" y2="301.50" stroke="#800040" stroke-width="1"/>
<line x1="303.40" y1="301.50" x2="320.50" y2="301.50" stroke="#ff0000" stroke-width="1"/>
<text x="317.00" y="300.46" font-size="4.6" fill="#403850" stroke="#403850" stroke-width="0.15" text-anchor="end" font-weight="normal" >N1</text>
<text x="323.00" y="303.86" font-size="5" fill="#3c4890" stroke="#3c4890" stroke-width="0.15" text-anchor="start" font-weight="normal" >VDD</text>
<line x1="303.40" y1="306.50" x2="303.00" y2="306.50" stroke="#800040" stroke-width="1"/>
<line x1="303.40" y1="306.50" x2="320.50" y2="306.50" stroke="#ff0000" stroke-width="1"/>
<text x="317.00" y="305.90" font-size="4.6" fill="#403850" stroke="#403850" stroke-width="0.15" text-anchor="end" font-weight="normal" >N9</text>
<text x="323.00" y="309.30" font-size="5" fill="#3c4890" stroke="#3c4890" stroke-width="0.15" text-anchor="start" font-weight="normal" >VDD</text>
<line x1="303.40" y1="312.50" x2="303.00" y2="312.50" stroke="#800040" stroke-width="1"/>
<line x1="303.40" y1="312.50" x2="320.50" y2="312.50" stroke="#ff0000" stroke-width="1"/>
<text x="317.00" y="311.33" font-size="4.6" fill="#403850" stroke="#403850" stroke-width="0.15" text-anchor="end" font-weight="normal" >R1</text>
<text x="323.00" y="314.73" font-size="5" fill="#3c4890" stroke="#3c4890" stroke-width="0.15" text-anchor="start" font-weight="normal" >VDD</text>
<line x1="303.40" y1="317.50" x2="303.00" y2="317.50" stroke="#800040" stroke-width="1"/>
<line x1="303.40" y1="317.50" x2="320.50" y2="317.50" stroke="#ff0000" stroke-width="1"/>
<text x="317.00" y="316.77" font-size="4.6" fill="#403850" stroke="#403850" stroke-width="0.15" text-anchor="end" font-weight="normal" >R9</text>
<text x="323.00" y="320.17" font-size="5" fill="#3c4890" stroke="#3c4890" stroke-width="0.15" text-anchor="start" font-weight="normal" >VDD</text>
<line x1="303.40" y1="328.50" x2="320.50" y2="328.50" stroke="#ff0000" stroke-width="1"/>
<text x="317.00" y="327.64" font-size="4.6" fill="#403850" stroke="#403850" stroke-width="0.15" text-anchor="end" font-weight="normal" >A1</text>
<text x="323.00" y="331.04" font-size="5" fill="#3c4890" stroke="#3c4890" stroke-width="0.15" text-anchor="start" font-weight="normal" >VDDQ</text>
<line x1="303.40" y1="334.50" x2="320.50" y2="334.50" stroke="#ff0000" stroke-width="1"/>
<text x="317.00" y="333.08" font-size="4.6" fill="#403850" stroke="#403850" stroke-width="0.15" text-anchor="end" font-weight="normal" >A8</text>
<text x="323.00" y="336.48" font-size="5" fill="#3c4890" stroke="#3c4890" stroke-width="0.15" text-anchor="start" font-weight="normal" >VDDQ</text>
<line x1="303.40" y1="339.50" x2="320.50" y2="339.50" stroke="#ff0000" stroke-width="1"/>
<text x="317.00" y="338.51" font-size="4.6" fill="#403850" stroke="#403850" stroke-width="0.15" text-anchor="end" font-weight="normal" >C1</text>
<text x="323.00" y="341.91" font-size="5" fill="#3c4890" stroke="#3c4890" stroke-width="0.15" text-anchor="start" font-weight="normal" >VDDQ</text>
<line x1="303.40" y1="345.50" x2="320.50" y2="345.50" stroke="#ff0000" stroke-width="1"/>
<text x="317.00" y="343.95" font-size="4.6" fill="#403850" stroke="#403850" stroke-width="0.15" text-anchor="end" font-weight="normal" >C9</text>
<text x="323.00" y="347.35" font-size="5" fill="#3c4890" stroke="#3c4890" stroke-width="0.15" text-anchor="start" font-weight="normal" >VDDQ</text>
<line x1="303.40" y1="350.50" x2="320.50" y2="350.50" stroke="#ff0000" stroke-width="1"/>
<text x="317.00" y="349.39" font-size="4.6" fill="#403850" stroke="#403850" stroke-width="0.15" text-anchor="end" font-weight="normal" >D2</text>
<text x="323.00" y="352.79" font-size="5" fill="#3c4890" stroke="#3c4890" stroke-width="0.15" text-anchor="start" font-weight="normal" >VDDQ</text>
<line x1="303.40" y1="355.50" x2="320.50" y2="355.50" stroke="#ff0000" stroke-width="1"/>
<text x="317.00" y="354.82" font-size="4.6" fill="#403850" stroke="#403850" stroke-width="0.15" text-anchor="end" font-weight="normal" >E9</text>
<text x="323.00" y="358.22" font-size="5" fill="#3c4890" stroke="#3c4890" stroke-width="0.15" text-anchor="start" font-weight="normal" >VDDQ</text>
<line x1="303.40" y1="361.50" x2="320.50" y2="361.50" stroke="#ff0000" stroke-width="1"/>
<text x="317.00" y="360.26" font-size="4.6" fill="#403850" stroke="#403850" stroke-width="0.15" text-anchor="end" font-weight="normal" >F1</text>
<text x="323.00" y="363.66" font-size="5" fill="#3c4890" stroke="#3c4890" stroke-width="0.15" text-anchor="start" font-weight="normal" >VDDQ</text>
<line x1="303.40" y1="366.50" x2="320.50" y2="366.50" stroke="#ff0000" stroke-width="1"/>
<text x="317.00" y="365.69" font-size="4.6" fill="#403850" stroke="#403850" stroke-width="0.15" text-anchor="end" font-weight="normal" >H2</text>
<text x="323.00" y="369.09" font-size="5" fill="#3c4890" stroke="#3c4890" stroke-width="0.15" text-anchor="start" font-weight="normal" >VDDQ</text>
<line x1="303.40" y1="372.50" x2="320.50" y2="372.50" stroke="#ff0000" stroke-width="1"/>
<text x="317.00" y="371.13" font-size="4.6" fill="#403850" stroke="#403850" stroke-width="0.15" text-anchor="end" font-weight="normal" >H9</text>
<text x="323.00" y="374.53" font-size="5" fill="#3c4890" stroke="#3c4890" stroke-width="0.15" text-anchor="start" font-weight="normal" >VDDQ</text>
<line x1="303.40" y1="323.50" x2="309.90" y2="323.50" stroke="#800040" stroke-width="1"/>
<line x1="303.50" y1="274.38" x2="303.50" y2="372.23" stroke="#800040" stroke-width="1"/>
<line x1="284.20" y1="328.50" x2="290.80" y2="328.50" stroke="#ff0000" stroke-width="1.2"/>
<line x1="287.50" y1="328.74" x2="287.50" y2="339.61" stroke="#ff0000" stroke-width="1"/>
<line x1="287.00" y1="339.50" x2="303.40" y2="339.50" stroke="#800040" stroke-width="1"/>
<text x="282.50" y="327.74" font-size="4.8" fill="#403850" stroke="#403850" stroke-width="0.15" text-anchor="start" font-weight="normal" >1.5V</text>
<line x1="390.50" y1="252.64" x2="390.50" y2="367.79" stroke="#800040" stroke-width="1"/>
<line x1="390.50" y1="366.79" x2="390.50" y2="369.10" stroke="#800040" stroke-width="1"/>
<line x1="390.50" y1="369.10" x2="390.50" y2="372.60" stroke="#ff0000" stroke-width="1"/>
<line x1="385.20" y1="372.50" x2="395.80" y2="372.50" stroke="#ff0000" stroke-width="1.2"/>
<line x1="387.00" y1="375.50" x2="394.00" y2="375.50" stroke="#ff0000" stroke-width="1.2"/>
<line x1="389.00" y1="377.50" x2="392.00" y2="377.50" stroke="#ff0000" stroke-width="1.2"/>
<text x="37.30" y="0.00" font-size="1" fill="#ff3048" stroke="#ff3048" stroke-width="0.16" text-anchor="start" font-weight="normal" ></text>
<line x1="11.90" y1="415.50" x2="18.70" y2="415.50" stroke="#ff0000" stroke-width="1.2"/>
<text x="10.70" y="414.60" font-size="4.8" fill="#403850" stroke="#403850" stroke-width="0.15" text-anchor="start" font-weight="normal" >1.5V</text>
<line x1="15.50" y1="415.30" x2="15.50" y2="420.00" stroke="#ff0000" stroke-width="1"/>
<line x1="15.50" y1="420.00" x2="15.50" y2="486.40" stroke="#800040" stroke-width="1"/>
<line x1="15.30" y1="426.50" x2="167.60" y2="426.50" stroke="#800040" stroke-width="1"/>
<line x1="31.50" y1="453.50" x2="189.80" y2="453.50" stroke="#800040" stroke-width="1"/>
<line x1="189.50" y1="453.30" x2="189.50" y2="486.40" stroke="#800040" stroke-width="1"/>
<line x1="15.30" y1="459.50" x2="167.60" y2="459.50" stroke="#800040" stroke-width="1"/>
<line x1="15.30" y1="486.50" x2="189.80" y2="486.50" stroke="#800040" stroke-width="1"/>
<line x1="31.50" y1="426.10" x2="31.50" y2="429.10" stroke="#800040" stroke-width="1"/>
<line x1="31.50" y1="429.10" x2="31.50" y2="438.30" stroke="#ff0000" stroke-width="1"/>
<line x1="26.10" y1="438.50" x2="36.90" y2="438.50" stroke="#0000ff" stroke-width="1.3"/>
<line x1="26.10" y1="441.50" x2="36.90" y2="441.50" stroke="#0000ff" stroke-width="1.3"/>
<line x1="31.50" y1="441.30" x2="31.50" y2="450.30" stroke="#ff0000" stroke-width="1"/>
<line x1="31.50" y1="450.30" x2="31.50" y2="453.30" stroke="#800040" stroke-width="1"/>
<text x="37.30" y="438.50" font-size="5" fill="#1a1a80" stroke="#1a1a80" stroke-width="0.15" text-anchor="start" font-weight="bold" >C20</text>
<text x="37.30" y="446.60" font-size="5" fill="#1a1a80" stroke="#1a1a80" stroke-width="0.15" text-anchor="start" font-weight="bold" >4.7nF</text>
<line x1="59.50" y1="426.10" x2="59.50" y2="429.10" stroke="#800040" stroke-width="1"/>
<line x1="59.50" y1="429.10" x2="59.50" y2="438.30" stroke="#ff0000" stroke-width="1"/>
<line x1="54.10" y1="438.50" x2="64.90" y2="438.50" stroke="#0000ff" stroke-width="1.3"/>
<line x1="54.10" y1="441.50" x2="64.90" y2="441.50" stroke="#0000ff" stroke-width="1.3"/>
<line x1="59.50" y1="441.30" x2="59.50" y2="450.30" stroke="#ff0000" stroke-width="1"/>
<line x1="59.50" y1="450.30" x2="59.50" y2="453.30" stroke="#800040" stroke-width="1"/>
<text x="65.30" y="436.60" font-size="5" fill="#1a1a80" stroke="#1a1a80" stroke-width="0.15" text-anchor="start" font-weight="bold" >C21</text>
<text x="65.30" y="446.60" font-size="5" fill="#1a1a80" stroke="#1a1a80" stroke-width="0.15" text-anchor="start" font-weight="bold" >2200pF</text>
<line x1="86.50" y1="426.10" x2="86.50" y2="429.10" stroke="#800040" stroke-width="1"/>
<line x1="86.50" y1="429.10" x2="86.50" y2="438.30" stroke="#ff0000" stroke-width="1"/>
<line x1="81.10" y1="438.50" x2="91.90" y2="438.50" stroke="#0000ff" stroke-width="1.3"/>
<line x1="81.10" y1="441.50" x2="91.90" y2="441.50" stroke="#0000ff" stroke-width="1.3"/>
<line x1="86.50" y1="441.30" x2="86.50" y2="450.30" stroke="#ff0000" stroke-width="1"/>
<line x1="86.50" y1="450.30" x2="86.50" y2="453.30" stroke="#800040" stroke-width="1"/>
<text x="92.30" y="435.40" font-size="5" fill="#1a1a80" stroke="#1a1a80" stroke-width="0.15" text-anchor="start" font-weight="bold" >C22</text>
<text x="92.30" y="446.60" font-size="5" fill="#1a1a80" stroke="#1a1a80" stroke-width="0.15" text-anchor="start" font-weight="bold" >2200pF</text>
<line x1="113.50" y1="426.10" x2="113.50" y2="429.10" stroke="#800040" stroke-width="1"/>
<line x1="113.50" y1="429.10" x2="113.50" y2="438.30" stroke="#ff0000" stroke-width="1"/>
<line x1="108.10" y1="438.50" x2="118.90" y2="438.50" stroke="#0000ff" stroke-width="1.3"/>
<line x1="108.10" y1="441.50" x2="118.90" y2="441.50" stroke="#0000ff" stroke-width="1.3"/>
<line x1="113.50" y1="441.30" x2="113.50" y2="450.30" stroke="#ff0000" stroke-width="1"/>
<line x1="113.50" y1="450.30" x2="113.50" y2="453.30" stroke="#800040" stroke-width="1"/>
<text x="119.30" y="435.40" font-size="5" fill="#1a1a80" stroke="#1a1a80" stroke-width="0.15" text-anchor="start" font-weight="bold" >C23</text>
<text x="119.30" y="446.60" font-size="5" fill="#1a1a80" stroke="#1a1a80" stroke-width="0.15" text-anchor="start" font-weight="bold" >2200pF</text>
<line x1="140.50" y1="426.10" x2="140.50" y2="429.10" stroke="#800040" stroke-width="1"/>
<line x1="140.50" y1="429.10" x2="140.50" y2="438.30" stroke="#ff0000" stroke-width="1"/>
<line x1="135.10" y1="438.50" x2="145.90" y2="438.50" stroke="#0000ff" stroke-width="1.3"/>
<line x1="135.10" y1="441.50" x2="145.90" y2="441.50" stroke="#0000ff" stroke-width="1.3"/>
<line x1="140.50" y1="441.30" x2="140.50" y2="450.30" stroke="#ff0000" stroke-width="1"/>
<line x1="140.50" y1="450.30" x2="140.50" y2="453.30" stroke="#800040" stroke-width="1"/>
<text x="146.30" y="435.40" font-size="5" fill="#1a1a80" stroke="#1a1a80" stroke-width="0.15" text-anchor="start" font-weight="bold" >C24</text>
<text x="146.30" y="446.60" font-size="5" fill="#1a1a80" stroke="#1a1a80" stroke-width="0.15" text-anchor="start" font-weight="bold" >2200pF</text>
<line x1="167.50" y1="426.10" x2="167.50" y2="429.10" stroke="#800040" stroke-width="1"/>
<line x1="167.50" y1="429.10" x2="167.50" y2="438.30" stroke="#ff0000" stroke-width="1"/>
<line x1="162.10" y1="438.50" x2="172.90" y2="438.50" stroke="#0000ff" stroke-width="1.3"/>
<line x1="162.10" y1="441.50" x2="172.90" y2="441.50" stroke="#0000ff" stroke-width="1.3"/>
<line x1="167.50" y1="441.30" x2="167.50" y2="450.30" stroke="#ff0000" stroke-width="1"/>
<line x1="167.50" y1="450.30" x2="167.50" y2="453.30" stroke="#800040" stroke-width="1"/>
<text x="173.30" y="435.40" font-size="5" fill="#1a1a80" stroke="#1a1a80" stroke-width="0.15" text-anchor="start" font-weight="bold" >C25</text>
<text x="173.30" y="446.60" font-size="5" fill="#1a1a80" stroke="#1a1a80" stroke-width="0.15" text-anchor="start" font-weight="bold" >2200pF</text>
<line x1="15.50" y1="462.20" x2="15.50" y2="470.20" stroke="#ff0000" stroke-width="1"/>
<line x1="9.90" y1="470.50" x2="21.10" y2="470.50" stroke="#0000ff" stroke-width="1.3"/>
<line x1="9.90" y1="473.50" x2="21.10" y2="473.50" stroke="#0000ff" stroke-width="1.3"/>
<line x1="15.50" y1="473.40" x2="15.50" y2="482.40" stroke="#ff0000" stroke-width="1"/>
<line x1="15.50" y1="482.40" x2="15.50" y2="486.40" stroke="#800040" stroke-width="1"/>
<text x="20.80" y="469.80" font-size="5" fill="#1a1a80" stroke="#1a1a80" stroke-width="0.15" text-anchor="start" font-weight="bold" >C32</text>
<text x="20.80" y="479.60" font-size="5" fill="#1a1a80" stroke="#1a1a80" stroke-width="0.15" text-anchor="start" font-weight="bold" >0.47uF</text>
<line x1="37.50" y1="459.20" x2="37.50" y2="462.20" stroke="#800040" stroke-width="1"/>
<line x1="37.50" y1="462.20" x2="37.50" y2="470.20" stroke="#ff0000" stroke-width="1"/>
<line x1="31.90" y1="470.50" x2="43.10" y2="470.50" stroke="#0000ff" stroke-width="1.3"/>
<line x1="31.90" y1="473.50" x2="43.10" y2="473.50" stroke="#0000ff" stroke-width="1.3"/>
<line x1="37.50" y1="473.40" x2="37.50" y2="482.40" stroke="#ff0000" stroke-width="1"/>
<line x1="37.50" y1="482.40" x2="37.50" y2="486.40" stroke="#800040" stroke-width="1"/>
<text x="42.80" y="469.80" font-size="5" fill="#1a1a80" stroke="#1a1a80" stroke-width="0.15" text-anchor="start" font-weight="bold" >C33</text>
<text x="42.80" y="479.60" font-size="5" fill="#1a1a80" stroke="#1a1a80" stroke-width="0.15" text-anchor="start" font-weight="bold" >0.47uF</text>
<line x1="59.50" y1="459.20" x2="59.50" y2="462.20" stroke="#800040" stroke-width="1"/>
<line x1="59.50" y1="462.20" x2="59.50" y2="470.20" stroke="#ff0000" stroke-width="1"/>
<line x1="53.90" y1="470.50" x2="65.10" y2="470.50" stroke="#0000ff" stroke-width="1.3"/>
<line x1="53.90" y1="473.50" x2="65.10" y2="473.50" stroke="#0000ff" stroke-width="1.3"/>
<line x1="59.50" y1="473.40" x2="59.50" y2="482.40" stroke="#ff0000" stroke-width="1"/>
<line x1="59.50" y1="482.40" x2="59.50" y2="486.40" stroke="#800040" stroke-width="1"/>
<text x="64.80" y="469.00" font-size="5" fill="#1a1a80" stroke="#1a1a80" stroke-width="0.15" text-anchor="start" font-weight="bold" >C34</text>
<text x="64.80" y="479.60" font-size="5" fill="#1a1a80" stroke="#1a1a80" stroke-width="0.15" text-anchor="start" font-weight="bold" >0.1uF</text>
<line x1="80.50" y1="459.20" x2="80.50" y2="462.20" stroke="#800040" stroke-width="1"/>
<line x1="80.50" y1="462.20" x2="80.50" y2="470.20" stroke="#ff0000" stroke-width="1"/>
<line x1="74.90" y1="470.50" x2="86.10" y2="470.50" stroke="#0000ff" stroke-width="1.3"/>
<line x1="74.90" y1="473.50" x2="86.10" y2="473.50" stroke="#0000ff" stroke-width="1.3"/>
<line x1="80.50" y1="473.40" x2="80.50" y2="482.40" stroke="#ff0000" stroke-width="1"/>
<line x1="80.50" y1="482.40" x2="80.50" y2="486.40" stroke="#800040" stroke-width="1"/>
<text x="85.80" y="469.00" font-size="5" fill="#1a1a80" stroke="#1a1a80" stroke-width="0.15" text-anchor="start" font-weight="bold" >C35</text>
<text x="85.80" y="479.60" font-size="5" fill="#1a1a80" stroke="#1a1a80" stroke-width="0.15" text-anchor="start" font-weight="bold" >0.1uF</text>
<line x1="102.50" y1="459.20" x2="102.50" y2="462.20" stroke="#800040" stroke-width="1"/>
<line x1="102.50" y1="462.20" x2="102.50" y2="470.20" stroke="#ff0000" stroke-width="1"/>
<line x1="96.90" y1="470.50" x2="108.10" y2="470.50" stroke="#0000ff" stroke-width="1.3"/>
<line x1="96.90" y1="473.50" x2="108.10" y2="473.50" stroke="#0000ff" stroke-width="1.3"/>
<line x1="102.50" y1="473.40" x2="102.50" y2="482.40" stroke="#ff0000" stroke-width="1"/>
<line x1="102.50" y1="482.40" x2="102.50" y2="486.40" stroke="#800040" stroke-width="1"/>
<text x="107.80" y="469.00" font-size="5" fill="#1a1a80" stroke="#1a1a80" stroke-width="0.15" text-anchor="start" font-weight="bold" >C36</text>
<text x="107.80" y="479.60" font-size="5" fill="#1a1a80" stroke="#1a1a80" stroke-width="0.15" text-anchor="start" font-weight="bold" >0.1uF</text>
<line x1="124.50" y1="459.20" x2="124.50" y2="462.20" stroke="#800040" stroke-width="1"/>
<line x1="124.50" y1="462.20" x2="124.50" y2="470.20" stroke="#ff0000" stroke-width="1"/>
<line x1="118.90" y1="470.50" x2="130.10" y2="470.50" stroke="#0000ff" stroke-width="1.3"/>
<line x1="118.90" y1="473.50" x2="130.10" y2="473.50" stroke="#0000ff" stroke-width="1.3"/>
<line x1="124.50" y1="473.40" x2="124.50" y2="482.40" stroke="#ff0000" stroke-width="1"/>
<line x1="124.50" y1="482.40" x2="124.50" y2="486.40" stroke="#800040" stroke-width="1"/>
<text x="129.80" y="469.00" font-size="5" fill="#1a1a80" stroke="#1a1a80" stroke-width="0.15" text-anchor="start" font-weight="bold" >C37</text>
<text x="129.80" y="479.60" font-size="5" fill="#1a1a80" stroke="#1a1a80" stroke-width="0.15" text-anchor="start" font-weight="bold" >0.01uF</text>
<line x1="146.50" y1="459.20" x2="146.50" y2="462.20" stroke="#800040" stroke-width="1"/>
<line x1="146.50" y1="462.20" x2="146.50" y2="470.20" stroke="#ff0000" stroke-width="1"/>
<line x1="140.90" y1="470.50" x2="152.10" y2="470.50" stroke="#0000ff" stroke-width="1.3"/>
<line x1="140.90" y1="473.50" x2="152.10" y2="473.50" stroke="#0000ff" stroke-width="1.3"/>
<line x1="146.50" y1="473.40" x2="146.50" y2="482.40" stroke="#ff0000" stroke-width="1"/>
<line x1="146.50" y1="482.40" x2="146.50" y2="486.40" stroke="#800040" stroke-width="1"/>
<text x="151.80" y="469.00" font-size="5" fill="#1a1a80" stroke="#1a1a80" stroke-width="0.15" text-anchor="start" font-weight="bold" >C38</text>
<text x="151.80" y="479.60" font-size="5" fill="#1a1a80" stroke="#1a1a80" stroke-width="0.15" text-anchor="start" font-weight="bold" >0.01uF</text>
<line x1="167.50" y1="459.20" x2="167.50" y2="462.20" stroke="#800040" stroke-width="1"/>
<line x1="167.50" y1="462.20" x2="167.50" y2="470.20" stroke="#ff0000" stroke-width="1"/>
<line x1="161.90" y1="470.50" x2="173.10" y2="470.50" stroke="#0000ff" stroke-width="1.3"/>
<line x1="161.90" y1="473.50" x2="173.10" y2="473.50" stroke="#0000ff" stroke-width="1.3"/>
<line x1="167.50" y1="473.40" x2="167.50" y2="482.40" stroke="#ff0000" stroke-width="1"/>
<line x1="167.50" y1="482.40" x2="167.50" y2="486.40" stroke="#800040" stroke-width="1"/>
<text x="172.80" y="469.00" font-size="5" fill="#1a1a80" stroke="#1a1a80" stroke-width="0.15" text-anchor="start" font-weight="bold" >C39</text>
<text x="172.80" y="479.60" font-size="5" fill="#1a1a80" stroke="#1a1a80" stroke-width="0.15" text-anchor="start" font-weight="bold" >0.01uF</text>
<line x1="189.50" y1="487.90" x2="189.50" y2="491.40" stroke="#ff0000" stroke-width="1"/>
<line x1="184.50" y1="491.50" x2="195.10" y2="491.50" stroke="#ff0000" stroke-width="1.2"/>
<line x1="186.30" y1="493.50" x2="193.30" y2="493.50" stroke="#ff0000" stroke-width="1.2"/>
<line x1="188.30" y1="496.50" x2="191.30" y2="496.50" stroke="#ff0000" stroke-width="1.2"/>
<text x="37.30" y="397.80" font-size="4.9" fill="#303060" stroke="#303060" stroke-width="0.15" text-anchor="start" font-weight="normal" >CAD Note:</text>
<text x="37.30" y="404.00" font-size="4.9" fill="#303060" stroke="#303060" stroke-width="0.15" text-anchor="start" font-weight="normal" >Place decoupling caps</text>
<text x="37.30" y="410.20" font-size="4.9" fill="#303060" stroke="#303060" stroke-width="0.15" text-anchor="start" font-weight="normal" >near DDR3 SDRAM A power pins</text>
<text x="287.30" y="0.00" font-size="1" fill="#ff3048" stroke="#ff3048" stroke-width="0.16" text-anchor="start" font-weight="normal" ></text>
<line x1="261.90" y1="415.50" x2="268.70" y2="415.50" stroke="#ff0000" stroke-width="1.2"/>
<text x="260.70" y="414.60" font-size="4.8" fill="#403850" stroke="#403850" stroke-width="0.15" text-anchor="start" font-weight="normal" >1.5V</text>
<line x1="265.50" y1="415.30" x2="265.50" y2="420.00" stroke="#ff0000" stroke-width="1"/>
<line x1="265.50" y1="420.00" x2="265.50" y2="486.40" stroke="#800040" stroke-width="1"/>
<line x1="265.30" y1="426.50" x2="417.60" y2="426.50" stroke="#800040" stroke-width="1"/>
<line x1="281.50" y1="453.50" x2="439.80" y2="453.50" stroke="#800040" stroke-width="1"/>
<line x1="439.50" y1="453.30" x2="439.50" y2="486.40" stroke="#800040" stroke-width="1"/>
<line x1="265.30" y1="459.50" x2="417.60" y2="459.50" stroke="#800040" stroke-width="1"/>
<line x1="265.30" y1="486.50" x2="439.80" y2="486.50" stroke="#800040" stroke-width="1"/>
<line x1="281.50" y1="426.10" x2="281.50" y2="429.10" stroke="#800040" stroke-width="1"/>
<line x1="281.50" y1="429.10" x2="281.50" y2="438.30" stroke="#ff0000" stroke-width="1"/>
<line x1="276.10" y1="438.50" x2="286.90" y2="438.50" stroke="#0000ff" stroke-width="1.3"/>
<line x1="276.10" y1="441.50" x2="286.90" y2="441.50" stroke="#0000ff" stroke-width="1.3"/>
<line x1="281.50" y1="441.30" x2="281.50" y2="450.30" stroke="#ff0000" stroke-width="1"/>
<line x1="281.50" y1="450.30" x2="281.50" y2="453.30" stroke="#800040" stroke-width="1"/>
<text x="287.30" y="438.50" font-size="5" fill="#1a1a80" stroke="#1a1a80" stroke-width="0.15" text-anchor="start" font-weight="bold" >C26</text>
<text x="287.30" y="446.60" font-size="5" fill="#1a1a80" stroke="#1a1a80" stroke-width="0.15" text-anchor="start" font-weight="bold" >4.7nF</text>
<line x1="309.50" y1="426.10" x2="309.50" y2="429.10" stroke="#800040" stroke-width="1"/>
<line x1="309.50" y1="429.10" x2="309.50" y2="438.30" stroke="#ff0000" stroke-width="1"/>
<line x1="304.10" y1="438.50" x2="314.90" y2="438.50" stroke="#0000ff" stroke-width="1.3"/>
<line x1="304.10" y1="441.50" x2="314.90" y2="441.50" stroke="#0000ff" stroke-width="1.3"/>
<line x1="309.50" y1="441.30" x2="309.50" y2="450.30" stroke="#ff0000" stroke-width="1"/>
<line x1="309.50" y1="450.30" x2="309.50" y2="453.30" stroke="#800040" stroke-width="1"/>
<text x="315.30" y="436.60" font-size="5" fill="#1a1a80" stroke="#1a1a80" stroke-width="0.15" text-anchor="start" font-weight="bold" >C27</text>
<text x="315.30" y="446.60" font-size="5" fill="#1a1a80" stroke="#1a1a80" stroke-width="0.15" text-anchor="start" font-weight="bold" >2200pF</text>
<line x1="336.50" y1="426.10" x2="336.50" y2="429.10" stroke="#800040" stroke-width="1"/>
<line x1="336.50" y1="429.10" x2="336.50" y2="438.30" stroke="#ff0000" stroke-width="1"/>
<line x1="331.10" y1="438.50" x2="341.90" y2="438.50" stroke="#0000ff" stroke-width="1.3"/>
<line x1="331.10" y1="441.50" x2="341.90" y2="441.50" stroke="#0000ff" stroke-width="1.3"/>
<line x1="336.50" y1="441.30" x2="336.50" y2="450.30" stroke="#ff0000" stroke-width="1"/>
<line x1="336.50" y1="450.30" x2="336.50" y2="453.30" stroke="#800040" stroke-width="1"/>
<text x="342.30" y="435.40" font-size="5" fill="#1a1a80" stroke="#1a1a80" stroke-width="0.15" text-anchor="start" font-weight="bold" >C28</text>
<text x="342.30" y="446.60" font-size="5" fill="#1a1a80" stroke="#1a1a80" stroke-width="0.15" text-anchor="start" font-weight="bold" >2200pF</text>
<line x1="363.50" y1="426.10" x2="363.50" y2="429.10" stroke="#800040" stroke-width="1"/>
<line x1="363.50" y1="429.10" x2="363.50" y2="438.30" stroke="#ff0000" stroke-width="1"/>
<line x1="358.10" y1="438.50" x2="368.90" y2="438.50" stroke="#0000ff" stroke-width="1.3"/>
<line x1="358.10" y1="441.50" x2="368.90" y2="441.50" stroke="#0000ff" stroke-width="1.3"/>
<line x1="363.50" y1="441.30" x2="363.50" y2="450.30" stroke="#ff0000" stroke-width="1"/>
<line x1="363.50" y1="450.30" x2="363.50" y2="453.30" stroke="#800040" stroke-width="1"/>
<text x="369.30" y="435.40" font-size="5" fill="#1a1a80" stroke="#1a1a80" stroke-width="0.15" text-anchor="start" font-weight="bold" >C29</text>
<text x="369.30" y="446.60" font-size="5" fill="#1a1a80" stroke="#1a1a80" stroke-width="0.15" text-anchor="start" font-weight="bold" >2200pF</text>
<line x1="390.50" y1="426.10" x2="390.50" y2="429.10" stroke="#800040" stroke-width="1"/>
<line x1="390.50" y1="429.10" x2="390.50" y2="438.30" stroke="#ff0000" stroke-width="1"/>
<line x1="385.10" y1="438.50" x2="395.90" y2="438.50" stroke="#0000ff" stroke-width="1.3"/>
<line x1="385.10" y1="441.50" x2="395.90" y2="441.50" stroke="#0000ff" stroke-width="1.3"/>
<line x1="390.50" y1="441.30" x2="390.50" y2="450.30" stroke="#ff0000" stroke-width="1"/>
<line x1="390.50" y1="450.30" x2="390.50" y2="453.30" stroke="#800040" stroke-width="1"/>
<text x="396.30" y="435.40" font-size="5" fill="#1a1a80" stroke="#1a1a80" stroke-width="0.15" text-anchor="start" font-weight="bold" >C30</text>
<text x="396.30" y="446.60" font-size="5" fill="#1a1a80" stroke="#1a1a80" stroke-width="0.15" text-anchor="start" font-weight="bold" >2200pF</text>
<line x1="417.50" y1="426.10" x2="417.50" y2="429.10" stroke="#800040" stroke-width="1"/>
<line x1="417.50" y1="429.10" x2="417.50" y2="438.30" stroke="#ff0000" stroke-width="1"/>
<line x1="412.10" y1="438.50" x2="422.90" y2="438.50" stroke="#0000ff" stroke-width="1.3"/>
<line x1="412.10" y1="441.50" x2="422.90" y2="441.50" stroke="#0000ff" stroke-width="1.3"/>
<line x1="417.50" y1="441.30" x2="417.50" y2="450.30" stroke="#ff0000" stroke-width="1"/>
<line x1="417.50" y1="450.30" x2="417.50" y2="453.30" stroke="#800040" stroke-width="1"/>
<text x="423.30" y="435.40" font-size="5" fill="#1a1a80" stroke="#1a1a80" stroke-width="0.15" text-anchor="start" font-weight="bold" >C31</text>
<text x="423.30" y="446.60" font-size="5" fill="#1a1a80" stroke="#1a1a80" stroke-width="0.15" text-anchor="start" font-weight="bold" >2200pF</text>
<line x1="265.50" y1="462.20" x2="265.50" y2="470.20" stroke="#ff0000" stroke-width="1"/>
<line x1="259.90" y1="470.50" x2="271.10" y2="470.50" stroke="#0000ff" stroke-width="1.3"/>
<line x1="259.90" y1="473.50" x2="271.10" y2="473.50" stroke="#0000ff" stroke-width="1.3"/>
<line x1="265.50" y1="473.40" x2="265.50" y2="482.40" stroke="#ff0000" stroke-width="1"/>
<line x1="265.50" y1="482.40" x2="265.50" y2="486.40" stroke="#800040" stroke-width="1"/>
<text x="270.80" y="469.80" font-size="5" fill="#1a1a80" stroke="#1a1a80" stroke-width="0.15" text-anchor="start" font-weight="bold" >C40</text>
<text x="270.80" y="479.60" font-size="5" fill="#1a1a80" stroke="#1a1a80" stroke-width="0.15" text-anchor="start" font-weight="bold" >0.47uF</text>
<line x1="287.50" y1="459.20" x2="287.50" y2="462.20" stroke="#800040" stroke-width="1"/>
<line x1="287.50" y1="462.20" x2="287.50" y2="470.20" stroke="#ff0000" stroke-width="1"/>
<line x1="281.90" y1="470.50" x2="293.10" y2="470.50" stroke="#0000ff" stroke-width="1.3"/>
<line x1="281.90" y1="473.50" x2="293.10" y2="473.50" stroke="#0000ff" stroke-width="1.3"/>
<line x1="287.50" y1="473.40" x2="287.50" y2="482.40" stroke="#ff0000" stroke-width="1"/>
<line x1="287.50" y1="482.40" x2="287.50" y2="486.40" stroke="#800040" stroke-width="1"/>
<text x="292.80" y="469.80" font-size="5" fill="#1a1a80" stroke="#1a1a80" stroke-width="0.15" text-anchor="start" font-weight="bold" >C41</text>
<text x="292.80" y="479.60" font-size="5" fill="#1a1a80" stroke="#1a1a80" stroke-width="0.15" text-anchor="start" font-weight="bold" >0.47uF</text>
<line x1="309.50" y1="459.20" x2="309.50" y2="462.20" stroke="#800040" stroke-width="1"/>
<line x1="309.50" y1="462.20" x2="309.50" y2="470.20" stroke="#ff0000" stroke-width="1"/>
<line x1="303.90" y1="470.50" x2="315.10" y2="470.50" stroke="#0000ff" stroke-width="1.3"/>
<line x1="303.90" y1="473.50" x2="315.10" y2="473.50" stroke="#0000ff" stroke-width="1.3"/>
<line x1="309.50" y1="473.40" x2="309.50" y2="482.40" stroke="#ff0000" stroke-width="1"/>
<line x1="309.50" y1="482.40" x2="309.50" y2="486.40" stroke="#800040" stroke-width="1"/>
<text x="314.80" y="469.00" font-size="5" fill="#1a1a80" stroke="#1a1a80" stroke-width="0.15" text-anchor="start" font-weight="bold" >C42</text>
<text x="314.80" y="479.60" font-size="5" fill="#1a1a80" stroke="#1a1a80" stroke-width="0.15" text-anchor="start" font-weight="bold" >0.1uF</text>
<line x1="330.50" y1="459.20" x2="330.50" y2="462.20" stroke="#800040" stroke-width="1"/>
<line x1="330.50" y1="462.20" x2="330.50" y2="470.20" stroke="#ff0000" stroke-width="1"/>
<line x1="324.90" y1="470.50" x2="336.10" y2="470.50" stroke="#0000ff" stroke-width="1.3"/>
<line x1="324.90" y1="473.50" x2="336.10" y2="473.50" stroke="#0000ff" stroke-width="1.3"/>
<line x1="330.50" y1="473.40" x2="330.50" y2="482.40" stroke="#ff0000" stroke-width="1"/>
<line x1="330.50" y1="482.40" x2="330.50" y2="486.40" stroke="#800040" stroke-width="1"/>
<text x="335.80" y="469.00" font-size="5" fill="#1a1a80" stroke="#1a1a80" stroke-width="0.15" text-anchor="start" font-weight="bold" >C43</text>
<text x="335.80" y="479.60" font-size="5" fill="#1a1a80" stroke="#1a1a80" stroke-width="0.15" text-anchor="start" font-weight="bold" >0.1uF</text>
<line x1="352.50" y1="459.20" x2="352.50" y2="462.20" stroke="#800040" stroke-width="1"/>
<line x1="352.50" y1="462.20" x2="352.50" y2="470.20" stroke="#ff0000" stroke-width="1"/>
<line x1="346.90" y1="470.50" x2="358.10" y2="470.50" stroke="#0000ff" stroke-width="1.3"/>
<line x1="346.90" y1="473.50" x2="358.10" y2="473.50" stroke="#0000ff" stroke-width="1.3"/>
<line x1="352.50" y1="473.40" x2="352.50" y2="482.40" stroke="#ff0000" stroke-width="1"/>
<line x1="352.50" y1="482.40" x2="352.50" y2="486.40" stroke="#800040" stroke-width="1"/>
<text x="357.80" y="469.00" font-size="5" fill="#1a1a80" stroke="#1a1a80" stroke-width="0.15" text-anchor="start" font-weight="bold" >C44</text>
<text x="357.80" y="479.60" font-size="5" fill="#1a1a80" stroke="#1a1a80" stroke-width="0.15" text-anchor="start" font-weight="bold" >0.1uF</text>
<line x1="374.50" y1="459.20" x2="374.50" y2="462.20" stroke="#800040" stroke-width="1"/>
<line x1="374.50" y1="462.20" x2="374.50" y2="470.20" stroke="#ff0000" stroke-width="1"/>
<line x1="368.90" y1="470.50" x2="380.10" y2="470.50" stroke="#0000ff" stroke-width="1.3"/>
<line x1="368.90" y1="473.50" x2="380.10" y2="473.50" stroke="#0000ff" stroke-width="1.3"/>
<line x1="374.50" y1="473.40" x2="374.50" y2="482.40" stroke="#ff0000" stroke-width="1"/>
<line x1="374.50" y1="482.40" x2="374.50" y2="486.40" stroke="#800040" stroke-width="1"/>
<text x="379.80" y="469.00" font-size="5" fill="#1a1a80" stroke="#1a1a80" stroke-width="0.15" text-anchor="start" font-weight="bold" >C45</text>
<text x="379.80" y="479.60" font-size="5" fill="#1a1a80" stroke="#1a1a80" stroke-width="0.15" text-anchor="start" font-weight="bold" >0.01uF</text>
<line x1="396.50" y1="459.20" x2="396.50" y2="462.20" stroke="#800040" stroke-width="1"/>
<line x1="396.50" y1="462.20" x2="396.50" y2="470.20" stroke="#ff0000" stroke-width="1"/>
<line x1="390.90" y1="470.50" x2="402.10" y2="470.50" stroke="#0000ff" stroke-width="1.3"/>
<line x1="390.90" y1="473.50" x2="402.10" y2="473.50" stroke="#0000ff" stroke-width="1.3"/>
<line x1="396.50" y1="473.40" x2="396.50" y2="482.40" stroke="#ff0000" stroke-width="1"/>
<line x1="396.50" y1="482.40" x2="396.50" y2="486.40" stroke="#800040" stroke-width="1"/>
<text x="401.80" y="469.00" font-size="5" fill="#1a1a80" stroke="#1a1a80" stroke-width="0.15" text-anchor="start" font-weight="bold" >C46</text>
<text x="401.80" y="479.60" font-size="5" fill="#1a1a80" stroke="#1a1a80" stroke-width="0.15" text-anchor="start" font-weight="bold" >0.01uF</text>
<line x1="417.50" y1="459.20" x2="417.50" y2="462.20" stroke="#800040" stroke-width="1"/>
<line x1="417.50" y1="462.20" x2="417.50" y2="470.20" stroke="#ff0000" stroke-width="1"/>
<line x1="411.90" y1="470.50" x2="423.10" y2="470.50" stroke="#0000ff" stroke-width="1.3"/>
<line x1="411.90" y1="473.50" x2="423.10" y2="473.50" stroke="#0000ff" stroke-width="1.3"/>
<line x1="417.50" y1="473.40" x2="417.50" y2="482.40" stroke="#ff0000" stroke-width="1"/>
<line x1="417.50" y1="482.40" x2="417.50" y2="486.40" stroke="#800040" stroke-width="1"/>
<text x="422.80" y="469.00" font-size="5" fill="#1a1a80" stroke="#1a1a80" stroke-width="0.15" text-anchor="start" font-weight="bold" >C47</text>
<text x="422.80" y="479.60" font-size="5" fill="#1a1a80" stroke="#1a1a80" stroke-width="0.15" text-anchor="start" font-weight="bold" >0.01uF</text>
<line x1="439.50" y1="487.90" x2="439.50" y2="491.40" stroke="#ff0000" stroke-width="1"/>
<line x1="434.50" y1="491.50" x2="445.10" y2="491.50" stroke="#ff0000" stroke-width="1.2"/>
<line x1="436.30" y1="493.50" x2="443.30" y2="493.50" stroke="#ff0000" stroke-width="1.2"/>
<line x1="438.30" y1="496.50" x2="441.30" y2="496.50" stroke="#ff0000" stroke-width="1.2"/>
<text x="282.30" y="397.80" font-size="4.9" fill="#303060" stroke="#303060" stroke-width="0.15" text-anchor="start" font-weight="normal" >CAD Note:</text>
<text x="282.30" y="404.00" font-size="4.9" fill="#303060" stroke="#303060" stroke-width="0.15" text-anchor="start" font-weight="normal" >Place decoupling caps</text>
<text x="282.30" y="410.20" font-size="4.9" fill="#303060" stroke="#303060" stroke-width="0.15" text-anchor="start" font-weight="normal" >near DDR3 SDRAM B power pins</text>
<circle cx="481.40" cy="100.40" r="1.8" fill="none" stroke="#0000ff" stroke-width="1.3"/>
<line x1="483.00" y1="100.50" x2="489.00" y2="100.50" stroke="#ff0000" stroke-width="1"/>
<line x1="489.00" y1="100.50" x2="526.70" y2="100.50" stroke="#800040" stroke-width="1"/>
<text x="472.20" y="98.90" font-size="5" fill="#1a1a80" stroke="#1a1a80" stroke-width="0.15" text-anchor="start" font-weight="bold" >V1</text>
<text x="490.00" y="99.20" font-size="5" fill="#ff3048" stroke="#ff3048" stroke-width="0.16" text-anchor="start" font-weight="normal" >DDR3_CLK_P</text>
<circle cx="481.40" cy="138.10" r="1.8" fill="none" stroke="#0000ff" stroke-width="1.3"/>
<line x1="483.00" y1="138.50" x2="489.00" y2="138.50" stroke="#ff0000" stroke-width="1"/>
<line x1="489.00" y1="138.50" x2="526.70" y2="138.50" stroke="#800040" stroke-width="1"/>
<text x="472.20" y="136.60" font-size="5" fill="#1a1a80" stroke="#1a1a80" stroke-width="0.15" text-anchor="start" font-weight="bold" >V2</text>
<text x="490.00" y="136.90" font-size="5" fill="#ff3048" stroke="#ff3048" stroke-width="0.16" text-anchor="start" font-weight="normal" >DDR3_CLK_N</text>
<line x1="526.50" y1="100.40" x2="526.50" y2="106.00" stroke="#800040" stroke-width="1"/>
<line x1="526.50" y1="106.00" x2="526.50" y2="112.00" stroke="#ff0000" stroke-width="1"/>
<polyline points="526.70,111.30 524.70,112.45 528.50,115.89 524.70,119.26 528.50,122.62 524.70,125.83 526.70,126.60" stroke="#0000ff" stroke-width="1.3" fill="none" stroke-linejoin="miter"/>
<line x1="526.50" y1="126.50" x2="526.50" y2="132.50" stroke="#ff0000" stroke-width="1"/>
<line x1="526.50" y1="132.50" x2="526.50" y2="138.10" stroke="#800040" stroke-width="1"/>
<text x="529.50" y="115.50" font-size="5" fill="#1a1a80" stroke="#1a1a80" stroke-width="0.15" text-anchor="start" font-weight="bold" >R57</text>
<text x="529.50" y="122.00" font-size="5" fill="#1a1a80" stroke="#1a1a80" stroke-width="0.15" text-anchor="start" font-weight="bold" >100</text>
<text x="530.50" y="128.50" font-size="5" fill="#1a1a80" stroke="#1a1a80" stroke-width="0.15" text-anchor="start" font-weight="bold" >1%</text>
<circle cx="481.40" cy="181.80" r="1.8" fill="none" stroke="#0000ff" stroke-width="1.3"/>
<line x1="483.00" y1="181.50" x2="489.00" y2="181.50" stroke="#ff0000" stroke-width="1"/>
<line x1="489.00" y1="181.50" x2="542.00" y2="181.50" stroke="#800040" stroke-width="1"/>
<line x1="542.00" y1="181.50" x2="548.60" y2="181.50" stroke="#ff0000" stroke-width="1"/>
<polyline points="548.60,181.80 551.17,180.00 553.73,183.60 556.30,180.00 558.87,183.60 561.43,180.00 564.00,181.80" stroke="#0000ff" stroke-width="1.3" fill="none" stroke-linejoin="miter"/>
<line x1="564.00" y1="181.50" x2="570.00" y2="181.50" stroke="#ff0000" stroke-width="1"/>
<line x1="570.00" y1="181.50" x2="586.50" y2="181.50" stroke="#800040" stroke-width="1"/>
<line x1="586.50" y1="181.80" x2="586.50" y2="176.00" stroke="#800040" stroke-width="1"/>
<line x1="586.50" y1="176.00" x2="586.50" y2="170.50" stroke="#ff0000" stroke-width="1"/>
<line x1="583.50" y1="170.50" x2="589.50" y2="170.50" stroke="#ff0000" stroke-width="1.2"/>
<text x="571.00" y="168.60" font-size="5" fill="#403850" stroke="#403850" stroke-width="0.15" text-anchor="start" font-weight="normal" >0.75V_VTT</text>
<text x="472.20" y="180.30" font-size="5" fill="#1a1a80" stroke="#1a1a80" stroke-width="0.15" text-anchor="start" font-weight="bold" >V3</text>
<text x="500.00" y="180.20" font-size="5" fill="#ff3048" stroke="#ff3048" stroke-width="0.16" text-anchor="start" font-weight="normal" >DDR3_CKE</text>
<text x="532.00" y="180.20" font-size="5" fill="#1a1a80" stroke="#1a1a80" stroke-width="0.15" text-anchor="start" font-weight="bold" >R58</text>
<text x="570.00" y="180.20" font-size="5" fill="#1a1a80" stroke="#1a1a80" stroke-width="0.15" text-anchor="start" font-weight="bold" >DNI</text>
<line x1="493.50" y1="181.80" x2="493.50" y2="186.00" stroke="#800040" stroke-width="1"/>
<line x1="493.50" y1="186.00" x2="493.50" y2="192.70" stroke="#ff0000" stroke-width="1"/>
<polyline points="495.00,192.70 491.50,197.35 495.50,200.45 491.50,203.55 495.50,208.20" stroke="#0000ff" stroke-width="1.3" fill="none" stroke-linejoin="miter"/>
<line x1="493.50" y1="208.20" x2="493.50" y2="216.20" stroke="#ff0000" stroke-width="1"/>
<line x1="493.50" y1="216.20" x2="493.50" y2="219.70" stroke="#ff0000" stroke-width="1"/>
<line x1="488.20" y1="219.50" x2="498.80" y2="219.50" stroke="#ff0000" stroke-width="1.2"/>
<line x1="490.00" y1="222.50" x2="497.00" y2="222.50" stroke="#ff0000" stroke-width="1.2"/>
<line x1="492.00" y1="224.50" x2="495.00" y2="224.50" stroke="#ff0000" stroke-width="1.2"/>
<text x="499.00" y="197.30" font-size="5" fill="#1a1a80" stroke="#1a1a80" stroke-width="0.15" text-anchor="start" font-weight="bold" >R59</text>
<text x="499.00" y="203.50" font-size="5" fill="#1a1a80" stroke="#1a1a80" stroke-width="0.15" text-anchor="start" font-weight="bold" >4.7k</text>
<line x1="599.30" y1="236.50" x2="605.30" y2="236.50" stroke="#ff0000" stroke-width="1.2"/>
<text x="588.80" y="233.40" font-size="5" fill="#403850" stroke="#403850" stroke-width="0.15" text-anchor="start" font-weight="normal" >0.75V_VTT</text>
<line x1="602.50" y1="236.00" x2="602.50" y2="240.90" stroke="#ff0000" stroke-width="1"/>
<line x1="602.50" y1="240.90" x2="602.50" y2="284.84" stroke="#800040" stroke-width="1"/>
<circle cx="481.40" cy="246.90" r="1.8" fill="none" stroke="#0000ff" stroke-width="1.3"/>
<line x1="483.00" y1="246.50" x2="489.00" y2="246.50" stroke="#ff0000" stroke-width="1"/>
<line x1="489.00" y1="246.50" x2="553.00" y2="246.50" stroke="#800040" stroke-width="1"/>
<text x="472.20" y="245.70" font-size="5" fill="#1a1a80" stroke="#1a1a80" stroke-width="0.15" text-anchor="start" font-weight="bold" >V18</text>
<text x="490.00" y="246.00" font-size="5" fill="#ff3048" stroke="#ff3048" stroke-width="0.16" text-anchor="start" font-weight="normal" >DDR3_A2</text>
<line x1="553.00" y1="246.50" x2="559.00" y2="246.50" stroke="#ff0000" stroke-width="1"/>
<polyline points="559.00,246.90 560.60,245.10 563.50,248.70 566.50,245.10 569.50,248.70 572.50,245.10 575.40,246.90" stroke="#0000ff" stroke-width="1.2" fill="none" stroke-linejoin="miter"/>
<line x1="575.40" y1="246.50" x2="580.80" y2="246.50" stroke="#ff0000" stroke-width="1"/>
<line x1="580.80" y1="246.50" x2="602.30" y2="246.50" stroke="#800040" stroke-width="1"/>
<text x="537.00" y="245.70" font-size="5" fill="#1a1a80" stroke="#1a1a80" stroke-width="0.15" text-anchor="start" font-weight="bold" >RN1A</text>
<text x="553.00" y="245.30" font-size="5" fill="#403850" stroke="#403850" stroke-width="0.15" text-anchor="start" font-weight="normal" >1</text>
<text x="579.80" y="245.70" font-size="5" fill="#403850" stroke="#403850" stroke-width="0.15" text-anchor="start" font-weight="normal" >16</text>
<text x="586.80" y="245.70" font-size="5" fill="#1a1a80" stroke="#1a1a80" stroke-width="0.15" text-anchor="start" font-weight="bold" >51</text>
<line x1="553.00" y1="252.50" x2="559.00" y2="252.50" stroke="#ff0000" stroke-width="1"/>
<polyline points="559.00,252.32 560.60,250.52 563.50,254.12 566.50,250.52 569.50,254.12 572.50,250.52 575.40,252.32" stroke="#0000ff" stroke-width="1.2" fill="none" stroke-linejoin="miter"/>
<line x1="575.40" y1="252.50" x2="580.80" y2="252.50" stroke="#ff0000" stroke-width="1"/>
<line x1="580.80" y1="252.50" x2="602.30" y2="252.50" stroke="#800040" stroke-width="1"/>
<text x="537.00" y="251.12" font-size="5" fill="#1a1a80" stroke="#1a1a80" stroke-width="0.15" text-anchor="start" font-weight="bold" >RN1B</text>
<text x="553.00" y="250.72" font-size="5" fill="#403850" stroke="#403850" stroke-width="0.15" text-anchor="start" font-weight="normal" >2</text>
<text x="579.80" y="251.12" font-size="5" fill="#403850" stroke="#403850" stroke-width="0.15" text-anchor="start" font-weight="normal" >15</text>
<text x="586.80" y="251.12" font-size="5" fill="#1a1a80" stroke="#1a1a80" stroke-width="0.15" text-anchor="start" font-weight="bold" >51</text>
<circle cx="481.40" cy="257.74" r="1.8" fill="none" stroke="#0000ff" stroke-width="1.3"/>
<line x1="483.00" y1="257.50" x2="489.00" y2="257.50" stroke="#ff0000" stroke-width="1"/>
<line x1="489.00" y1="257.50" x2="553.00" y2="257.50" stroke="#800040" stroke-width="1"/>
<text x="472.20" y="256.54" font-size="5" fill="#1a1a80" stroke="#1a1a80" stroke-width="0.15" text-anchor="start" font-weight="bold" >V20</text>
<text x="490.00" y="256.84" font-size="5" fill="#ff3048" stroke="#ff3048" stroke-width="0.16" text-anchor="start" font-weight="normal" >DDR3_A5</text>
<line x1="553.00" y1="257.50" x2="559.00" y2="257.50" stroke="#ff0000" stroke-width="1"/>
<polyline points="559.00,257.74 560.60,255.94 563.50,259.54 566.50,255.94 569.50,259.54 572.50,255.94 575.40,257.74" stroke="#0000ff" stroke-width="1.2" fill="none" stroke-linejoin="miter"/>
<line x1="575.40" y1="257.50" x2="580.80" y2="257.50" stroke="#ff0000" stroke-width="1"/>
<line x1="580.80" y1="257.50" x2="602.30" y2="257.50" stroke="#800040" stroke-width="1"/>
<text x="537.00" y="256.54" font-size="5" fill="#1a1a80" stroke="#1a1a80" stroke-width="0.15" text-anchor="start" font-weight="bold" >RN1C</text>
<text x="553.00" y="256.14" font-size="5" fill="#403850" stroke="#403850" stroke-width="0.15" text-anchor="start" font-weight="normal" >3</text>
<text x="579.80" y="256.54" font-size="5" fill="#403850" stroke="#403850" stroke-width="0.15" text-anchor="start" font-weight="normal" >14</text>
<text x="586.80" y="256.54" font-size="5" fill="#1a1a80" stroke="#1a1a80" stroke-width="0.15" text-anchor="start" font-weight="bold" >51</text>
<circle cx="481.40" cy="263.16" r="1.8" fill="none" stroke="#0000ff" stroke-width="1.3"/>
<line x1="483.00" y1="263.50" x2="489.00" y2="263.50" stroke="#ff0000" stroke-width="1"/>
<line x1="489.00" y1="263.50" x2="553.00" y2="263.50" stroke="#800040" stroke-width="1"/>
<text x="472.20" y="261.96" font-size="5" fill="#1a1a80" stroke="#1a1a80" stroke-width="0.15" text-anchor="start" font-weight="bold" >V2</text>
<text x="490.00" y="262.26" font-size="5" fill="#ff3048" stroke="#ff3048" stroke-width="0.16" text-anchor="start" font-weight="normal" >DDR3_A7</text>
<line x1="553.00" y1="263.50" x2="559.00" y2="263.50" stroke="#ff0000" stroke-width="1"/>
<polyline points="559.00,263.16 560.60,261.36 563.50,264.96 566.50,261.36 569.50,264.96 572.50,261.36 575.40,263.16" stroke="#0000ff" stroke-width="1.2" fill="none" stroke-linejoin="miter"/>
<line x1="575.40" y1="263.50" x2="580.80" y2="263.50" stroke="#ff0000" stroke-width="1"/>
<line x1="580.80" y1="263.50" x2="602.30" y2="263.50" stroke="#800040" stroke-width="1"/>
<text x="537.00" y="261.96" font-size="5" fill="#1a1a80" stroke="#1a1a80" stroke-width="0.15" text-anchor="start" font-weight="bold" >RN1D</text>
<text x="553.00" y="261.56" font-size="5" fill="#403850" stroke="#403850" stroke-width="0.15" text-anchor="start" font-weight="normal" >4</text>
<text x="579.80" y="261.96" font-size="5" fill="#403850" stroke="#403850" stroke-width="0.15" text-anchor="start" font-weight="normal" >13</text>
<text x="586.80" y="261.96" font-size="5" fill="#1a1a80" stroke="#1a1a80" stroke-width="0.15" text-anchor="start" font-weight="bold" >51</text>
<circle cx="481.40" cy="268.58" r="1.8" fill="none" stroke="#0000ff" stroke-width="1.3"/>
<line x1="483.00" y1="268.50" x2="489.00" y2="268.50" stroke="#ff0000" stroke-width="1"/>
<line x1="489.00" y1="268.50" x2="553.00" y2="268.50" stroke="#800040" stroke-width="1"/>
<text x="472.20" y="267.38" font-size="5" fill="#1a1a80" stroke="#1a1a80" stroke-width="0.15" text-anchor="start" font-weight="bold" >V5</text>
<text x="490.00" y="267.68" font-size="5" fill="#ff3048" stroke="#ff3048" stroke-width="0.16" text-anchor="start" font-weight="normal" >DDR3_A0</text>
<line x1="553.00" y1="268.50" x2="559.00" y2="268.50" stroke="#ff0000" stroke-width="1"/>
<polyline points="559.00,268.58 560.60,266.78 563.50,270.38 566.50,266.78 569.50,270.38 572.50,266.78 575.40,268.58" stroke="#0000ff" stroke-width="1.2" fill="none" stroke-linejoin="miter"/>
<line x1="575.40" y1="268.50" x2="580.80" y2="268.50" stroke="#ff0000" stroke-width="1"/>
<line x1="580.80" y1="268.50" x2="602.30" y2="268.50" stroke="#800040" stroke-width="1"/>
<text x="537.00" y="267.38" font-size="5" fill="#1a1a80" stroke="#1a1a80" stroke-width="0.15" text-anchor="start" font-weight="bold" >RN1E</text>
<text x="553.00" y="266.98" font-size="5" fill="#403850" stroke="#403850" stroke-width="0.15" text-anchor="start" font-weight="normal" >5</text>
<text x="579.80" y="267.38" font-size="5" fill="#403850" stroke="#403850" stroke-width="0.15" text-anchor="start" font-weight="normal" >12</text>
<text x="586.80" y="267.38" font-size="5" fill="#1a1a80" stroke="#1a1a80" stroke-width="0.15" text-anchor="start" font-weight="bold" >51</text>
<circle cx="481.40" cy="274.00" r="1.8" fill="none" stroke="#0000ff" stroke-width="1.3"/>
<line x1="483.00" y1="274.50" x2="489.00" y2="274.50" stroke="#ff0000" stroke-width="1"/>
<line x1="489.00" y1="274.50" x2="553.00" y2="274.50" stroke="#800040" stroke-width="1"/>
<text x="472.20" y="272.80" font-size="5" fill="#1a1a80" stroke="#1a1a80" stroke-width="0.15" text-anchor="start" font-weight="bold" >V14</text>
<text x="490.00" y="273.10" font-size="5" fill="#ff3048" stroke="#ff3048" stroke-width="0.16" text-anchor="start" font-weight="normal" >DDR3_A9</text>
<line x1="553.00" y1="274.50" x2="559.00" y2="274.50" stroke="#ff0000" stroke-width="1"/>
<polyline points="559.00,274.00 560.60,272.20 563.50,275.80 566.50,272.20 569.50,275.80 572.50,272.20 575.40,274.00" stroke="#0000ff" stroke-width="1.2" fill="none" stroke-linejoin="miter"/>
<line x1="575.40" y1="274.50" x2="580.80" y2="274.50" stroke="#ff0000" stroke-width="1"/>
<line x1="580.80" y1="274.50" x2="602.30" y2="274.50" stroke="#800040" stroke-width="1"/>
<text x="537.00" y="272.80" font-size="5" fill="#1a1a80" stroke="#1a1a80" stroke-width="0.15" text-anchor="start" font-weight="bold" >RN1F</text>
<text x="553.00" y="272.40" font-size="5" fill="#403850" stroke="#403850" stroke-width="0.15" text-anchor="start" font-weight="normal" >6</text>
<text x="579.80" y="272.80" font-size="5" fill="#403850" stroke="#403850" stroke-width="0.15" text-anchor="start" font-weight="normal" >11</text>
<text x="586.80" y="272.80" font-size="5" fill="#1a1a80" stroke="#1a1a80" stroke-width="0.15" text-anchor="start" font-weight="bold" >51</text>
<circle cx="481.40" cy="279.42" r="1.8" fill="none" stroke="#0000ff" stroke-width="1.3"/>
<line x1="483.00" y1="279.50" x2="489.00" y2="279.50" stroke="#ff0000" stroke-width="1"/>
<line x1="489.00" y1="279.50" x2="553.00" y2="279.50" stroke="#800040" stroke-width="1"/>
<text x="472.20" y="278.22" font-size="5" fill="#1a1a80" stroke="#1a1a80" stroke-width="0.15" text-anchor="start" font-weight="bold" >V15</text>
<text x="490.00" y="278.52" font-size="5" fill="#ff3048" stroke="#ff3048" stroke-width="0.16" text-anchor="start" font-weight="normal" >DDR3_A12</text>
<line x1="553.00" y1="279.50" x2="559.00" y2="279.50" stroke="#ff0000" stroke-width="1"/>
<polyline points="559.00,279.42 560.60,277.62 563.50,281.22 566.50,277.62 569.50,281.22 572.50,277.62 575.40,279.42" stroke="#0000ff" stroke-width="1.2" fill="none" stroke-linejoin="miter"/>
<line x1="575.40" y1="279.50" x2="580.80" y2="279.50" stroke="#ff0000" stroke-width="1"/>
<line x1="580.80" y1="279.50" x2="602.30" y2="279.50" stroke="#800040" stroke-width="1"/>
<text x="537.00" y="278.22" font-size="5" fill="#1a1a80" stroke="#1a1a80" stroke-width="0.15" text-anchor="start" font-weight="bold" >RN1G</text>
<text x="553.00" y="277.82" font-size="5" fill="#403850" stroke="#403850" stroke-width="0.15" text-anchor="start" font-weight="normal" >7</text>
<text x="579.80" y="278.22" font-size="5" fill="#403850" stroke="#403850" stroke-width="0.15" text-anchor="start" font-weight="normal" >10</text>
<text x="586.80" y="278.22" font-size="5" fill="#1a1a80" stroke="#1a1a80" stroke-width="0.15" text-anchor="start" font-weight="bold" >51</text>
<circle cx="481.40" cy="284.84" r="1.8" fill="none" stroke="#0000ff" stroke-width="1.3"/>
<line x1="483.00" y1="284.50" x2="489.00" y2="284.50" stroke="#ff0000" stroke-width="1"/>
<line x1="489.00" y1="284.50" x2="553.00" y2="284.50" stroke="#800040" stroke-width="1"/>
<text x="472.20" y="283.64" font-size="5" fill="#1a1a80" stroke="#1a1a80" stroke-width="0.15" text-anchor="start" font-weight="bold" >V1</text>
<text x="490.00" y="283.94" font-size="5" fill="#ff3048" stroke="#ff3048" stroke-width="0.16" text-anchor="start" font-weight="normal" >DDR3_RESETn</text>
<line x1="553.00" y1="284.50" x2="559.00" y2="284.50" stroke="#ff0000" stroke-width="1"/>
<polyline points="559.00,284.84 560.60,283.04 563.50,286.64 566.50,283.04 569.50,286.64 572.50,283.04 575.40,284.84" stroke="#0000ff" stroke-width="1.2" fill="none" stroke-linejoin="miter"/>
<line x1="575.40" y1="284.50" x2="580.80" y2="284.50" stroke="#ff0000" stroke-width="1"/>
<line x1="580.80" y1="284.50" x2="602.30" y2="284.50" stroke="#800040" stroke-width="1"/>
<text x="537.00" y="283.64" font-size="5" fill="#1a1a80" stroke="#1a1a80" stroke-width="0.15" text-anchor="start" font-weight="bold" >RN1H</text>
<text x="553.00" y="283.24" font-size="5" fill="#403850" stroke="#403850" stroke-width="0.15" text-anchor="start" font-weight="normal" >8</text>
<text x="579.80" y="283.64" font-size="5" fill="#403850" stroke="#403850" stroke-width="0.15" text-anchor="start" font-weight="normal" >9</text>
<text x="586.80" y="283.64" font-size="5" fill="#1a1a80" stroke="#1a1a80" stroke-width="0.15" text-anchor="start" font-weight="bold" >51</text>
<line x1="599.30" y1="295.50" x2="605.30" y2="295.50" stroke="#ff0000" stroke-width="1.2"/>
<text x="588.80" y="293.20" font-size="5" fill="#403850" stroke="#403850" stroke-width="0.15" text-anchor="start" font-weight="normal" >0.75V_VTT</text>
<line x1="602.50" y1="295.80" x2="602.50" y2="300.70" stroke="#ff0000" stroke-width="1"/>
<line x1="602.50" y1="300.70" x2="602.50" y2="344.64" stroke="#800040" stroke-width="1"/>
<circle cx="481.40" cy="306.70" r="1.8" fill="none" stroke="#0000ff" stroke-width="1.3"/>
<line x1="483.00" y1="306.50" x2="489.00" y2="306.50" stroke="#ff0000" stroke-width="1"/>
<line x1="489.00" y1="306.50" x2="553.00" y2="306.50" stroke="#800040" stroke-width="1"/>
<text x="472.20" y="305.50" font-size="5" fill="#1a1a80" stroke="#1a1a80" stroke-width="0.15" text-anchor="start" font-weight="bold" >V25</text>
<text x="490.00" y="305.80" font-size="5" fill="#ff3048" stroke="#ff3048" stroke-width="0.16" text-anchor="start" font-weight="normal" >DDR3_CSn</text>
<line x1="553.00" y1="306.50" x2="559.00" y2="306.50" stroke="#ff0000" stroke-width="1"/>
<polyline points="559.00,306.70 560.60,304.90 563.50,308.50 566.50,304.90 569.50,308.50 572.50,304.90 575.40,306.70" stroke="#0000ff" stroke-width="1.2" fill="none" stroke-linejoin="miter"/>
<line x1="575.40" y1="306.50" x2="580.80" y2="306.50" stroke="#ff0000" stroke-width="1"/>
<line x1="580.80" y1="306.50" x2="602.30" y2="306.50" stroke="#800040" stroke-width="1"/>
<text x="537.00" y="305.50" font-size="5" fill="#1a1a80" stroke="#1a1a80" stroke-width="0.15" text-anchor="start" font-weight="bold" >RN2A</text>
<text x="553.00" y="305.10" font-size="5" fill="#403850" stroke="#403850" stroke-width="0.15" text-anchor="start" font-weight="normal" >1</text>
<text x="579.80" y="305.50" font-size="5" fill="#403850" stroke="#403850" stroke-width="0.15" text-anchor="start" font-weight="normal" >16</text>
<text x="586.80" y="305.50" font-size="5" fill="#1a1a80" stroke="#1a1a80" stroke-width="0.15" text-anchor="start" font-weight="bold" >51</text>
<circle cx="481.40" cy="312.12" r="1.8" fill="none" stroke="#0000ff" stroke-width="1.3"/>
<line x1="483.00" y1="312.50" x2="489.00" y2="312.50" stroke="#ff0000" stroke-width="1"/>
<line x1="489.00" y1="312.50" x2="553.00" y2="312.50" stroke="#800040" stroke-width="1"/>
<text x="472.20" y="310.92" font-size="5" fill="#1a1a80" stroke="#1a1a80" stroke-width="0.15" text-anchor="start" font-weight="bold" >V18</text>
<text x="490.00" y="311.22" font-size="5" fill="#ff3048" stroke="#ff3048" stroke-width="0.16" text-anchor="start" font-weight="normal" >DDR3_ODT</text>
<line x1="553.00" y1="312.50" x2="559.00" y2="312.50" stroke="#ff0000" stroke-width="1"/>
<polyline points="559.00,312.12 560.60,310.32 563.50,313.92 566.50,310.32 569.50,313.92 572.50,310.32 575.40,312.12" stroke="#0000ff" stroke-width="1.2" fill="none" stroke-linejoin="miter"/>
<line x1="575.40" y1="312.50" x2="580.80" y2="312.50" stroke="#ff0000" stroke-width="1"/>
<line x1="580.80" y1="312.50" x2="602.30" y2="312.50" stroke="#800040" stroke-width="1"/>
<text x="537.00" y="310.92" font-size="5" fill="#1a1a80" stroke="#1a1a80" stroke-width="0.15" text-anchor="start" font-weight="bold" >RN2B</text>
<text x="553.00" y="310.52" font-size="5" fill="#403850" stroke="#403850" stroke-width="0.15" text-anchor="start" font-weight="normal" >2</text>
<text x="579.80" y="310.92" font-size="5" fill="#403850" stroke="#403850" stroke-width="0.15" text-anchor="start" font-weight="normal" >15</text>
<text x="586.80" y="310.92" font-size="5" fill="#1a1a80" stroke="#1a1a80" stroke-width="0.15" text-anchor="start" font-weight="bold" >51</text>
<circle cx="481.40" cy="317.54" r="1.8" fill="none" stroke="#0000ff" stroke-width="1.3"/>
<line x1="483.00" y1="317.50" x2="489.00" y2="317.50" stroke="#ff0000" stroke-width="1"/>
<line x1="489.00" y1="317.50" x2="553.00" y2="317.50" stroke="#800040" stroke-width="1"/>
<text x="472.20" y="316.34" font-size="5" fill="#1a1a80" stroke="#1a1a80" stroke-width="0.15" text-anchor="start" font-weight="bold" >V6</text>
<text x="490.00" y="316.64" font-size="5" fill="#ff3048" stroke="#ff3048" stroke-width="0.16" text-anchor="start" font-weight="normal" >DDR3_BA2</text>
<line x1="553.00" y1="317.50" x2="559.00" y2="317.50" stroke="#ff0000" stroke-width="1"/>
<polyline points="559.00,317.54 560.60,315.74 563.50,319.34 566.50,315.74 569.50,319.34 572.50,315.74 575.40,317.54" stroke="#0000ff" stroke-width="1.2" fill="none" stroke-linejoin="miter"/>
<line x1="575.40" y1="317.50" x2="580.80" y2="317.50" stroke="#ff0000" stroke-width="1"/>
<line x1="580.80" y1="317.50" x2="602.30" y2="317.50" stroke="#800040" stroke-width="1"/>
<text x="537.00" y="316.34" font-size="5" fill="#1a1a80" stroke="#1a1a80" stroke-width="0.15" text-anchor="start" font-weight="bold" >RN2C</text>
<text x="553.00" y="315.94" font-size="5" fill="#403850" stroke="#403850" stroke-width="0.15" text-anchor="start" font-weight="normal" >3</text>
<text x="579.80" y="316.34" font-size="5" fill="#403850" stroke="#403850" stroke-width="0.15" text-anchor="start" font-weight="normal" >14</text>
<text x="586.80" y="316.34" font-size="5" fill="#1a1a80" stroke="#1a1a80" stroke-width="0.15" text-anchor="start" font-weight="bold" >51</text>
<circle cx="481.40" cy="322.96" r="1.8" fill="none" stroke="#0000ff" stroke-width="1.3"/>
<line x1="483.00" y1="322.50" x2="489.00" y2="322.50" stroke="#ff0000" stroke-width="1"/>
<line x1="489.00" y1="322.50" x2="553.00" y2="322.50" stroke="#800040" stroke-width="1"/>
<text x="472.20" y="321.76" font-size="5" fill="#1a1a80" stroke="#1a1a80" stroke-width="0.15" text-anchor="start" font-weight="bold" >V23</text>
<text x="490.00" y="322.06" font-size="5" fill="#ff3048" stroke="#ff3048" stroke-width="0.16" text-anchor="start" font-weight="normal" >DDR3_A3</text>
<line x1="553.00" y1="322.50" x2="559.00" y2="322.50" stroke="#ff0000" stroke-width="1"/>
<polyline points="559.00,322.96 560.60,321.16 563.50,324.76 566.50,321.16 569.50,324.76 572.50,321.16 575.40,322.96" stroke="#0000ff" stroke-width="1.2" fill="none" stroke-linejoin="miter"/>
<line x1="575.40" y1="322.50" x2="580.80" y2="322.50" stroke="#ff0000" stroke-width="1"/>
<line x1="580.80" y1="322.50" x2="602.30" y2="322.50" stroke="#800040" stroke-width="1"/>
<text x="537.00" y="321.76" font-size="5" fill="#1a1a80" stroke="#1a1a80" stroke-width="0.15" text-anchor="start" font-weight="bold" >RN2D</text>
<text x="553.00" y="321.36" font-size="5" fill="#403850" stroke="#403850" stroke-width="0.15" text-anchor="start" font-weight="normal" >4</text>
<text x="579.80" y="321.76" font-size="5" fill="#403850" stroke="#403850" stroke-width="0.15" text-anchor="start" font-weight="normal" >13</text>
<text x="586.80" y="321.76" font-size="5" fill="#1a1a80" stroke="#1a1a80" stroke-width="0.15" text-anchor="start" font-weight="bold" >51</text>
<circle cx="481.40" cy="328.38" r="1.8" fill="none" stroke="#0000ff" stroke-width="1.3"/>
<line x1="483.00" y1="328.50" x2="489.00" y2="328.50" stroke="#ff0000" stroke-width="1"/>
<line x1="489.00" y1="328.50" x2="553.00" y2="328.50" stroke="#800040" stroke-width="1"/>
<text x="472.20" y="327.18" font-size="5" fill="#1a1a80" stroke="#1a1a80" stroke-width="0.15" text-anchor="start" font-weight="bold" >V26</text>
<text x="490.00" y="327.48" font-size="5" fill="#ff3048" stroke="#ff3048" stroke-width="0.16" text-anchor="start" font-weight="normal" >DDR3_BA0</text>
<line x1="553.00" y1="328.50" x2="559.00" y2="328.50" stroke="#ff0000" stroke-width="1"/>
<polyline points="559.00,328.38 560.60,326.58 563.50,330.18 566.50,326.58 569.50,330.18 572.50,326.58 575.40,328.38" stroke="#0000ff" stroke-width="1.2" fill="none" stroke-linejoin="miter"/>
<line x1="575.40" y1="328.50" x2="580.80" y2="328.50" stroke="#ff0000" stroke-width="1"/>
<line x1="580.80" y1="328.50" x2="602.30" y2="328.50" stroke="#800040" stroke-width="1"/>
<text x="537.00" y="327.18" font-size="5" fill="#1a1a80" stroke="#1a1a80" stroke-width="0.15" text-anchor="start" font-weight="bold" >RN2E</text>
<text x="553.00" y="326.78" font-size="5" fill="#403850" stroke="#403850" stroke-width="0.15" text-anchor="start" font-weight="normal" >5</text>
<text x="579.80" y="327.18" font-size="5" fill="#403850" stroke="#403850" stroke-width="0.15" text-anchor="start" font-weight="normal" >12</text>
<text x="586.80" y="327.18" font-size="5" fill="#1a1a80" stroke="#1a1a80" stroke-width="0.15" text-anchor="start" font-weight="bold" >51</text>
<circle cx="481.40" cy="333.80" r="1.8" fill="none" stroke="#0000ff" stroke-width="1.3"/>
<line x1="483.00" y1="333.50" x2="489.00" y2="333.50" stroke="#ff0000" stroke-width="1"/>
<line x1="489.00" y1="333.50" x2="553.00" y2="333.50" stroke="#800040" stroke-width="1"/>
<text x="472.20" y="332.60" font-size="5" fill="#1a1a80" stroke="#1a1a80" stroke-width="0.15" text-anchor="start" font-weight="bold" >V16</text>
<text x="490.00" y="332.90" font-size="5" fill="#ff3048" stroke="#ff3048" stroke-width="0.16" text-anchor="start" font-weight="normal" >DDR3_A13</text>
<line x1="553.00" y1="333.50" x2="559.00" y2="333.50" stroke="#ff0000" stroke-width="1"/>
<polyline points="559.00,333.80 560.60,332.00 563.50,335.60 566.50,332.00 569.50,335.60 572.50,332.00 575.40,333.80" stroke="#0000ff" stroke-width="1.2" fill="none" stroke-linejoin="miter"/>
<line x1="575.40" y1="333.50" x2="580.80" y2="333.50" stroke="#ff0000" stroke-width="1"/>
<line x1="580.80" y1="333.50" x2="602.30" y2="333.50" stroke="#800040" stroke-width="1"/>
<text x="537.00" y="332.60" font-size="5" fill="#1a1a80" stroke="#1a1a80" stroke-width="0.15" text-anchor="start" font-weight="bold" >RN2F</text>
<text x="553.00" y="332.20" font-size="5" fill="#403850" stroke="#403850" stroke-width="0.15" text-anchor="start" font-weight="normal" >6</text>
<text x="579.80" y="332.60" font-size="5" fill="#403850" stroke="#403850" stroke-width="0.15" text-anchor="start" font-weight="normal" >11</text>
<text x="586.80" y="332.60" font-size="5" fill="#1a1a80" stroke="#1a1a80" stroke-width="0.15" text-anchor="start" font-weight="bold" >51</text>
<circle cx="481.40" cy="339.22" r="1.8" fill="none" stroke="#0000ff" stroke-width="1.3"/>
<line x1="483.00" y1="339.50" x2="489.00" y2="339.50" stroke="#ff0000" stroke-width="1"/>
<line x1="489.00" y1="339.50" x2="553.00" y2="339.50" stroke="#800040" stroke-width="1"/>
<text x="472.20" y="338.02" font-size="5" fill="#1a1a80" stroke="#1a1a80" stroke-width="0.15" text-anchor="start" font-weight="bold" >V12</text>
<text x="490.00" y="338.32" font-size="5" fill="#ff3048" stroke="#ff3048" stroke-width="0.16" text-anchor="start" font-weight="normal" >DDR3_RASn</text>
<line x1="553.00" y1="339.50" x2="559.00" y2="339.50" stroke="#ff0000" stroke-width="1"/>
<polyline points="559.00,339.22 560.60,337.42 563.50,341.02 566.50,337.42 569.50,341.02 572.50,337.42 575.40,339.22" stroke="#0000ff" stroke-width="1.2" fill="none" stroke-linejoin="miter"/>
<line x1="575.40" y1="339.50" x2="580.80" y2="339.50" stroke="#ff0000" stroke-width="1"/>
<line x1="580.80" y1="339.50" x2="602.30" y2="339.50" stroke="#800040" stroke-width="1"/>
<text x="537.00" y="338.02" font-size="5" fill="#1a1a80" stroke="#1a1a80" stroke-width="0.15" text-anchor="start" font-weight="bold" >RN2G</text>
<text x="553.00" y="337.62" font-size="5" fill="#403850" stroke="#403850" stroke-width="0.15" text-anchor="start" font-weight="normal" >7</text>
<text x="579.80" y="338.02" font-size="5" fill="#403850" stroke="#403850" stroke-width="0.15" text-anchor="start" font-weight="normal" >10</text>
<text x="586.80" y="338.02" font-size="5" fill="#1a1a80" stroke="#1a1a80" stroke-width="0.15" text-anchor="start" font-weight="bold" >51</text>
<circle cx="481.40" cy="344.64" r="1.8" fill="none" stroke="#0000ff" stroke-width="1.3"/>
<line x1="483.00" y1="344.50" x2="489.00" y2="344.50" stroke="#ff0000" stroke-width="1"/>
<line x1="489.00" y1="344.50" x2="553.00" y2="344.50" stroke="#800040" stroke-width="1"/>
<text x="472.20" y="343.44" font-size="5" fill="#1a1a80" stroke="#1a1a80" stroke-width="0.15" text-anchor="start" font-weight="bold" >V24</text>
<text x="490.00" y="343.74" font-size="5" fill="#ff3048" stroke="#ff3048" stroke-width="0.16" text-anchor="start" font-weight="normal" >DDR3_CASn</text>
<line x1="553.00" y1="344.50" x2="559.00" y2="344.50" stroke="#ff0000" stroke-width="1"/>
<polyline points="559.00,344.64 560.60,342.84 563.50,346.44 566.50,342.84 569.50,346.44 572.50,342.84 575.40,344.64" stroke="#0000ff" stroke-width="1.2" fill="none" stroke-linejoin="miter"/>
<line x1="575.40" y1="344.50" x2="580.80" y2="344.50" stroke="#ff0000" stroke-width="1"/>
<line x1="580.80" y1="344.50" x2="602.30" y2="344.50" stroke="#800040" stroke-width="1"/>
<text x="537.00" y="343.44" font-size="5" fill="#1a1a80" stroke="#1a1a80" stroke-width="0.15" text-anchor="start" font-weight="bold" >RN2H</text>
<text x="553.00" y="343.04" font-size="5" fill="#403850" stroke="#403850" stroke-width="0.15" text-anchor="start" font-weight="normal" >8</text>
<text x="579.80" y="343.44" font-size="5" fill="#403850" stroke="#403850" stroke-width="0.15" text-anchor="start" font-weight="normal" >9</text>
<text x="586.80" y="343.44" font-size="5" fill="#1a1a80" stroke="#1a1a80" stroke-width="0.15" text-anchor="start" font-weight="bold" >51</text>
<line x1="599.30" y1="355.50" x2="605.30" y2="355.50" stroke="#ff0000" stroke-width="1.2"/>
<text x="588.80" y="352.90" font-size="5" fill="#403850" stroke="#403850" stroke-width="0.15" text-anchor="start" font-weight="normal" >0.75V_VTT</text>
<line x1="602.50" y1="355.50" x2="602.50" y2="360.40" stroke="#ff0000" stroke-width="1"/>
<line x1="602.50" y1="360.40" x2="602.50" y2="404.34" stroke="#800040" stroke-width="1"/>
<circle cx="481.40" cy="366.40" r="1.8" fill="none" stroke="#0000ff" stroke-width="1.3"/>
<line x1="483.00" y1="366.50" x2="489.00" y2="366.50" stroke="#ff0000" stroke-width="1"/>
<line x1="489.00" y1="366.50" x2="553.00" y2="366.50" stroke="#800040" stroke-width="1"/>
<text x="472.20" y="365.20" font-size="5" fill="#1a1a80" stroke="#1a1a80" stroke-width="0.15" text-anchor="start" font-weight="bold" >V22</text>
<text x="490.00" y="365.50" font-size="5" fill="#ff3048" stroke="#ff3048" stroke-width="0.16" text-anchor="start" font-weight="normal" >DDR3_WEn</text>
<line x1="553.00" y1="366.50" x2="559.00" y2="366.50" stroke="#ff0000" stroke-width="1"/>
<polyline points="559.00,366.40 560.60,364.60 563.50,368.20 566.50,364.60 569.50,368.20 572.50,364.60 575.40,366.40" stroke="#0000ff" stroke-width="1.2" fill="none" stroke-linejoin="miter"/>
<line x1="575.40" y1="366.50" x2="580.80" y2="366.50" stroke="#ff0000" stroke-width="1"/>
<line x1="580.80" y1="366.50" x2="602.30" y2="366.50" stroke="#800040" stroke-width="1"/>
<text x="537.00" y="365.20" font-size="5" fill="#1a1a80" stroke="#1a1a80" stroke-width="0.15" text-anchor="start" font-weight="bold" >RN3A</text>
<text x="553.00" y="364.80" font-size="5" fill="#403850" stroke="#403850" stroke-width="0.15" text-anchor="start" font-weight="normal" >1</text>
<text x="579.80" y="365.20" font-size="5" fill="#403850" stroke="#403850" stroke-width="0.15" text-anchor="start" font-weight="normal" >16</text>
<text x="586.80" y="365.20" font-size="5" fill="#1a1a80" stroke="#1a1a80" stroke-width="0.15" text-anchor="start" font-weight="bold" >51</text>
<circle cx="481.40" cy="371.82" r="1.8" fill="none" stroke="#0000ff" stroke-width="1.3"/>
<line x1="483.00" y1="371.50" x2="489.00" y2="371.50" stroke="#ff0000" stroke-width="1"/>
<line x1="489.00" y1="371.50" x2="553.00" y2="371.50" stroke="#800040" stroke-width="1"/>
<text x="472.20" y="370.62" font-size="5" fill="#1a1a80" stroke="#1a1a80" stroke-width="0.15" text-anchor="start" font-weight="bold" >V8</text>
<text x="490.00" y="370.92" font-size="5" fill="#ff3048" stroke="#ff3048" stroke-width="0.16" text-anchor="start" font-weight="normal" >DDR3_A8</text>
<line x1="553.00" y1="371.50" x2="559.00" y2="371.50" stroke="#ff0000" stroke-width="1"/>
<polyline points="559.00,371.82 560.60,370.02 563.50,373.62 566.50,370.02 569.50,373.62 572.50,370.02 575.40,371.82" stroke="#0000ff" stroke-width="1.2" fill="none" stroke-linejoin="miter"/>
<line x1="575.40" y1="371.50" x2="580.80" y2="371.50" stroke="#ff0000" stroke-width="1"/>
<line x1="580.80" y1="371.50" x2="602.30" y2="371.50" stroke="#800040" stroke-width="1"/>
<text x="537.00" y="370.62" font-size="5" fill="#1a1a80" stroke="#1a1a80" stroke-width="0.15" text-anchor="start" font-weight="bold" >RN3B</text>
<text x="553.00" y="370.22" font-size="5" fill="#403850" stroke="#403850" stroke-width="0.15" text-anchor="start" font-weight="normal" >2</text>
<text x="579.80" y="370.62" font-size="5" fill="#403850" stroke="#403850" stroke-width="0.15" text-anchor="start" font-weight="normal" >15</text>
<text x="586.80" y="370.62" font-size="5" fill="#1a1a80" stroke="#1a1a80" stroke-width="0.15" text-anchor="start" font-weight="bold" >51</text>
<circle cx="481.40" cy="377.24" r="1.8" fill="none" stroke="#0000ff" stroke-width="1.3"/>
<line x1="483.00" y1="377.50" x2="489.00" y2="377.50" stroke="#ff0000" stroke-width="1"/>
<line x1="489.00" y1="377.50" x2="553.00" y2="377.50" stroke="#800040" stroke-width="1"/>
<text x="472.20" y="376.04" font-size="5" fill="#1a1a80" stroke="#1a1a80" stroke-width="0.15" text-anchor="start" font-weight="bold" >V13</text>
<text x="490.00" y="376.34" font-size="5" fill="#ff3048" stroke="#ff3048" stroke-width="0.16" text-anchor="start" font-weight="normal" >DDR3_A12</text>
<line x1="553.00" y1="377.50" x2="559.00" y2="377.50" stroke="#ff0000" stroke-width="1"/>
<polyline points="559.00,377.24 560.60,375.44 563.50,379.04 566.50,375.44 569.50,379.04 572.50,375.44 575.40,377.24" stroke="#0000ff" stroke-width="1.2" fill="none" stroke-linejoin="miter"/>
<line x1="575.40" y1="377.50" x2="580.80" y2="377.50" stroke="#ff0000" stroke-width="1"/>
<line x1="580.80" y1="377.50" x2="602.30" y2="377.50" stroke="#800040" stroke-width="1"/>
<text x="537.00" y="376.04" font-size="5" fill="#1a1a80" stroke="#1a1a80" stroke-width="0.15" text-anchor="start" font-weight="bold" >RN3C</text>
<text x="553.00" y="375.64" font-size="5" fill="#403850" stroke="#403850" stroke-width="0.15" text-anchor="start" font-weight="normal" >3</text>
<text x="579.80" y="376.04" font-size="5" fill="#403850" stroke="#403850" stroke-width="0.15" text-anchor="start" font-weight="normal" >14</text>
<text x="586.80" y="376.04" font-size="5" fill="#1a1a80" stroke="#1a1a80" stroke-width="0.15" text-anchor="start" font-weight="bold" >51</text>
<circle cx="481.40" cy="382.66" r="1.8" fill="none" stroke="#0000ff" stroke-width="1.3"/>
<line x1="483.00" y1="382.50" x2="489.00" y2="382.50" stroke="#ff0000" stroke-width="1"/>
<line x1="489.00" y1="382.50" x2="553.00" y2="382.50" stroke="#800040" stroke-width="1"/>
<text x="472.20" y="381.46" font-size="5" fill="#1a1a80" stroke="#1a1a80" stroke-width="0.15" text-anchor="start" font-weight="bold" >V16</text>
<text x="490.00" y="381.76" font-size="5" fill="#ff3048" stroke="#ff3048" stroke-width="0.16" text-anchor="start" font-weight="normal" >DDR3_A11</text>
<line x1="553.00" y1="382.50" x2="559.00" y2="382.50" stroke="#ff0000" stroke-width="1"/>
<polyline points="559.00,382.66 560.60,380.86 563.50,384.46 566.50,380.86 569.50,384.46 572.50,380.86 575.40,382.66" stroke="#0000ff" stroke-width="1.2" fill="none" stroke-linejoin="miter"/>
<line x1="575.40" y1="382.50" x2="580.80" y2="382.50" stroke="#ff0000" stroke-width="1"/>
<line x1="580.80" y1="382.50" x2="602.30" y2="382.50" stroke="#800040" stroke-width="1"/>
<text x="537.00" y="381.46" font-size="5" fill="#1a1a80" stroke="#1a1a80" stroke-width="0.15" text-anchor="start" font-weight="bold" >RN3D</text>
<text x="553.00" y="381.06" font-size="5" fill="#403850" stroke="#403850" stroke-width="0.15" text-anchor="start" font-weight="normal" >4</text>
<text x="579.80" y="381.46" font-size="5" fill="#403850" stroke="#403850" stroke-width="0.15" text-anchor="start" font-weight="normal" >13</text>
<text x="586.80" y="381.46" font-size="5" fill="#1a1a80" stroke="#1a1a80" stroke-width="0.15" text-anchor="start" font-weight="bold" >51</text>
<circle cx="481.40" cy="388.08" r="1.8" fill="none" stroke="#0000ff" stroke-width="1.3"/>
<line x1="483.00" y1="388.50" x2="489.00" y2="388.50" stroke="#ff0000" stroke-width="1"/>
<line x1="489.00" y1="388.50" x2="553.00" y2="388.50" stroke="#800040" stroke-width="1"/>
<text x="472.20" y="386.88" font-size="5" fill="#1a1a80" stroke="#1a1a80" stroke-width="0.15" text-anchor="start" font-weight="bold" >V9</text>
<text x="490.00" y="387.18" font-size="5" fill="#ff3048" stroke="#ff3048" stroke-width="0.16" text-anchor="start" font-weight="normal" >DDR3_A1</text>
<line x1="553.00" y1="388.50" x2="559.00" y2="388.50" stroke="#ff0000" stroke-width="1"/>
<polyline points="559.00,388.08 560.60,386.28 563.50,389.88 566.50,386.28 569.50,389.88 572.50,386.28 575.40,388.08" stroke="#0000ff" stroke-width="1.2" fill="none" stroke-linejoin="miter"/>
<line x1="575.40" y1="388.50" x2="580.80" y2="388.50" stroke="#ff0000" stroke-width="1"/>
<line x1="580.80" y1="388.50" x2="602.30" y2="388.50" stroke="#800040" stroke-width="1"/>
<text x="537.00" y="386.88" font-size="5" fill="#1a1a80" stroke="#1a1a80" stroke-width="0.15" text-anchor="start" font-weight="bold" >RN3E</text>
<text x="553.00" y="386.48" font-size="5" fill="#403850" stroke="#403850" stroke-width="0.15" text-anchor="start" font-weight="normal" >5</text>
<text x="579.80" y="386.88" font-size="5" fill="#403850" stroke="#403850" stroke-width="0.15" text-anchor="start" font-weight="normal" >12</text>
<text x="586.80" y="386.88" font-size="5" fill="#1a1a80" stroke="#1a1a80" stroke-width="0.15" text-anchor="start" font-weight="bold" >51</text>
<circle cx="481.40" cy="393.50" r="1.8" fill="none" stroke="#0000ff" stroke-width="1.3"/>
<line x1="483.00" y1="393.50" x2="489.00" y2="393.50" stroke="#ff0000" stroke-width="1"/>
<line x1="489.00" y1="393.50" x2="553.00" y2="393.50" stroke="#800040" stroke-width="1"/>
<text x="472.20" y="392.30" font-size="5" fill="#1a1a80" stroke="#1a1a80" stroke-width="0.15" text-anchor="start" font-weight="bold" >V7</text>
<text x="490.00" y="392.60" font-size="5" fill="#ff3048" stroke="#ff3048" stroke-width="0.16" text-anchor="start" font-weight="normal" >DDR3_A6</text>
<line x1="553.00" y1="393.50" x2="559.00" y2="393.50" stroke="#ff0000" stroke-width="1"/>
<polyline points="559.00,393.50 560.60,391.70 563.50,395.30 566.50,391.70 569.50,395.30 572.50,391.70 575.40,393.50" stroke="#0000ff" stroke-width="1.2" fill="none" stroke-linejoin="miter"/>
<line x1="575.40" y1="393.50" x2="580.80" y2="393.50" stroke="#ff0000" stroke-width="1"/>
<line x1="580.80" y1="393.50" x2="602.30" y2="393.50" stroke="#800040" stroke-width="1"/>
<text x="537.00" y="392.30" font-size="5" fill="#1a1a80" stroke="#1a1a80" stroke-width="0.15" text-anchor="start" font-weight="bold" >RN3F</text>
<text x="553.00" y="391.90" font-size="5" fill="#403850" stroke="#403850" stroke-width="0.15" text-anchor="start" font-weight="normal" >6</text>
<text x="579.80" y="392.30" font-size="5" fill="#403850" stroke="#403850" stroke-width="0.15" text-anchor="start" font-weight="normal" >11</text>
<text x="586.80" y="392.30" font-size="5" fill="#1a1a80" stroke="#1a1a80" stroke-width="0.15" text-anchor="start" font-weight="bold" >51</text>
<circle cx="481.40" cy="398.92" r="1.8" fill="none" stroke="#0000ff" stroke-width="1.3"/>
<line x1="483.00" y1="398.50" x2="489.00" y2="398.50" stroke="#ff0000" stroke-width="1"/>
<line x1="489.00" y1="398.50" x2="553.00" y2="398.50" stroke="#800040" stroke-width="1"/>
<text x="472.20" y="397.72" font-size="5" fill="#1a1a80" stroke="#1a1a80" stroke-width="0.15" text-anchor="start" font-weight="bold" >V4</text>
<text x="490.00" y="398.02" font-size="5" fill="#ff3048" stroke="#ff3048" stroke-width="0.16" text-anchor="start" font-weight="normal" >DDR3_A4</text>
<line x1="553.00" y1="398.50" x2="559.00" y2="398.50" stroke="#ff0000" stroke-width="1"/>
<polyline points="559.00,398.92 560.60,397.12 563.50,400.72 566.50,397.12 569.50,400.72 572.50,397.12 575.40,398.92" stroke="#0000ff" stroke-width="1.2" fill="none" stroke-linejoin="miter"/>
<line x1="575.40" y1="398.50" x2="580.80" y2="398.50" stroke="#ff0000" stroke-width="1"/>
<line x1="580.80" y1="398.50" x2="602.30" y2="398.50" stroke="#800040" stroke-width="1"/>
<text x="537.00" y="397.72" font-size="5" fill="#1a1a80" stroke="#1a1a80" stroke-width="0.15" text-anchor="start" font-weight="bold" >RN3G</text>
<text x="553.00" y="397.32" font-size="5" fill="#403850" stroke="#403850" stroke-width="0.15" text-anchor="start" font-weight="normal" >7</text>
<text x="579.80" y="397.72" font-size="5" fill="#403850" stroke="#403850" stroke-width="0.15" text-anchor="start" font-weight="normal" >10</text>
<text x="586.80" y="397.72" font-size="5" fill="#1a1a80" stroke="#1a1a80" stroke-width="0.15" text-anchor="start" font-weight="bold" >51</text>
<circle cx="481.40" cy="404.34" r="1.8" fill="none" stroke="#0000ff" stroke-width="1.3"/>
<line x1="483.00" y1="404.50" x2="489.00" y2="404.50" stroke="#ff0000" stroke-width="1"/>
<line x1="489.00" y1="404.50" x2="553.00" y2="404.50" stroke="#800040" stroke-width="1"/>
<text x="472.20" y="403.14" font-size="5" fill="#1a1a80" stroke="#1a1a80" stroke-width="0.15" text-anchor="start" font-weight="bold" >V19</text>
<text x="490.00" y="403.44" font-size="5" fill="#ff3048" stroke="#ff3048" stroke-width="0.16" text-anchor="start" font-weight="normal" >DDR3_BA1</text>
<line x1="553.00" y1="404.50" x2="559.00" y2="404.50" stroke="#ff0000" stroke-width="1"/>
<polyline points="559.00,404.34 560.60,402.54 563.50,406.14 566.50,402.54 569.50,406.14 572.50,402.54 575.40,404.34" stroke="#0000ff" stroke-width="1.2" fill="none" stroke-linejoin="miter"/>
<line x1="575.40" y1="404.50" x2="580.80" y2="404.50" stroke="#ff0000" stroke-width="1"/>
<line x1="580.80" y1="404.50" x2="602.30" y2="404.50" stroke="#800040" stroke-width="1"/>
<text x="537.00" y="403.14" font-size="5" fill="#1a1a80" stroke="#1a1a80" stroke-width="0.15" text-anchor="start" font-weight="bold" >RN3H</text>
<text x="553.00" y="402.74" font-size="5" fill="#403850" stroke="#403850" stroke-width="0.15" text-anchor="start" font-weight="normal" >8</text>
<text x="579.80" y="403.14" font-size="5" fill="#403850" stroke="#403850" stroke-width="0.15" text-anchor="start" font-weight="normal" >9</text>
<text x="586.80" y="403.14" font-size="5" fill="#1a1a80" stroke="#1a1a80" stroke-width="0.15" text-anchor="start" font-weight="bold" >51</text>
<text x="496.50" y="418.60" font-size="4.95" fill="#303060" stroke="#303060" stroke-width="0.15" text-anchor="start" font-weight="normal" >CAD Note:</text>
<text x="496.50" y="424.20" font-size="4.95" fill="#303060" stroke="#303060" stroke-width="0.15" text-anchor="start" font-weight="normal" >Use tree-topology for termination signals</text>
<text x="496.50" y="429.80" font-size="4.95" fill="#303060" stroke="#303060" stroke-width="0.15" text-anchor="start" font-weight="normal" >Use star via to branch out address/</text>
<text x="496.50" y="435.40" font-size="4.95" fill="#303060" stroke="#303060" stroke-width="0.15" text-anchor="start" font-weight="normal" >command/control signals from FPGA</text>
<text x="496.50" y="441.00" font-size="4.95" fill="#303060" stroke="#303060" stroke-width="0.15" text-anchor="start" font-weight="normal" >to memory devices and termination resistors</text>
<line x1="643.30" y1="241.50" x2="648.90" y2="241.50" stroke="#ff0000" stroke-width="1.2"/>
<text x="630.00" y="239.00" font-size="5" fill="#403850" stroke="#403850" stroke-width="0.15" text-anchor="start" font-weight="normal" >0.75V_VTT</text>
<line x1="646.50" y1="241.50" x2="646.50" y2="268.40" stroke="#800040" stroke-width="1"/>
<line x1="646.50" y1="241.50" x2="646.50" y2="247.50" stroke="#ff0000" stroke-width="1"/>
<line x1="684.50" y1="252.50" x2="684.50" y2="274.00" stroke="#800040" stroke-width="1"/>
<line x1="646.10" y1="252.50" x2="656.60" y2="252.50" stroke="#ff0000" stroke-width="1"/>
<line x1="673.60" y1="252.50" x2="684.30" y2="252.50" stroke="#ff0000" stroke-width="1"/>
<text x="651.50" y="251.20" font-size="5" fill="#403850" stroke="#403850" stroke-width="0.15" text-anchor="start" font-weight="normal" >1</text>
<text x="678.00" y="251.20" font-size="5" fill="#403850" stroke="#403850" stroke-width="0.15" text-anchor="start" font-weight="normal" >8</text>
<line x1="646.10" y1="257.50" x2="656.60" y2="257.50" stroke="#ff0000" stroke-width="1"/>
<line x1="673.60" y1="257.50" x2="684.30" y2="257.50" stroke="#ff0000" stroke-width="1"/>
<text x="651.50" y="256.20" font-size="5" fill="#403850" stroke="#403850" stroke-width="0.15" text-anchor="start" font-weight="normal" >2</text>
<text x="678.00" y="256.20" font-size="5" fill="#403850" stroke="#403850" stroke-width="0.15" text-anchor="start" font-weight="normal" >7</text>
<line x1="646.10" y1="263.50" x2="656.60" y2="263.50" stroke="#ff0000" stroke-width="1"/>
<line x1="673.60" y1="263.50" x2="684.30" y2="263.50" stroke="#ff0000" stroke-width="1"/>
<text x="651.50" y="262.20" font-size="5" fill="#403850" stroke="#403850" stroke-width="0.15" text-anchor="start" font-weight="normal" >3</text>
<text x="678.00" y="262.20" font-size="5" fill="#403850" stroke="#403850" stroke-width="0.15" text-anchor="start" font-weight="normal" >6</text>
<line x1="646.10" y1="268.50" x2="656.60" y2="268.50" stroke="#ff0000" stroke-width="1"/>
<line x1="673.60" y1="268.50" x2="684.30" y2="268.50" stroke="#ff0000" stroke-width="1"/>
<text x="651.50" y="267.10" font-size="5" fill="#403850" stroke="#403850" stroke-width="0.15" text-anchor="start" font-weight="normal" >4</text>
<text x="678.00" y="267.10" font-size="5" fill="#403850" stroke="#403850" stroke-width="0.15" text-anchor="start" font-weight="normal" >5</text>
<rect x="656.6" y="248.6" width="17.0" height="23.8" fill="none" stroke="#0000ff" stroke-width="1"/>
<line x1="656.60" y1="252.50" x2="666.70" y2="252.50" stroke="#0000ff" stroke-width="0.9"/>
<line x1="669.70" y1="252.50" x2="673.60" y2="252.50" stroke="#0000ff" stroke-width="0.9"/>
<line x1="656.60" y1="257.50" x2="660.40" y2="257.50" stroke="#0000ff" stroke-width="0.9"/>
<line x1="664.30" y1="257.50" x2="673.60" y2="257.50" stroke="#0000ff" stroke-width="0.9"/>
<line x1="656.60" y1="263.50" x2="666.70" y2="263.50" stroke="#0000ff" stroke-width="0.9"/>
<line x1="669.70" y1="263.50" x2="673.60" y2="263.50" stroke="#0000ff" stroke-width="0.9"/>
<line x1="656.60" y1="268.50" x2="660.40" y2="268.50" stroke="#0000ff" stroke-width="0.9"/>
<line x1="664.30" y1="268.50" x2="673.60" y2="268.50" stroke="#0000ff" stroke-width="0.9"/>
<line x1="666.50" y1="249.50" x2="666.50" y2="255.70" stroke="#0000ff" stroke-width="0.9"/>
<line x1="669.50" y1="249.50" x2="669.50" y2="255.70" stroke="#0000ff" stroke-width="0.9"/>
<line x1="660.50" y1="255.10" x2="660.50" y2="260.50" stroke="#0000ff" stroke-width="0.9"/>
<line x1="664.50" y1="255.10" x2="664.50" y2="260.50" stroke="#0000ff" stroke-width="0.9"/>
<line x1="666.50" y1="260.20" x2="666.50" y2="266.50" stroke="#0000ff" stroke-width="0.9"/>
<line x1="669.50" y1="260.20" x2="669.50" y2="266.50" stroke="#0000ff" stroke-width="0.9"/>
<line x1="660.50" y1="265.90" x2="660.50" y2="271.80" stroke="#0000ff" stroke-width="0.9"/>
<line x1="664.50" y1="265.90" x2="664.50" y2="271.80" stroke="#0000ff" stroke-width="0.9"/>
<line x1="659.40" y1="255.50" x2="665.30" y2="255.50" stroke="#0000ff" stroke-width="0.9"/>
<line x1="659.40" y1="265.50" x2="665.30" y2="265.50" stroke="#0000ff" stroke-width="0.9"/>
<line x1="684.50" y1="270.10" x2="684.50" y2="273.60" stroke="#ff0000" stroke-width="1"/>
<line x1="679.00" y1="273.50" x2="689.60" y2="273.50" stroke="#ff0000" stroke-width="1.2"/>
<line x1="680.80" y1="276.50" x2="687.80" y2="276.50" stroke="#ff0000" stroke-width="1.2"/>
<line x1="682.80" y1="278.50" x2="685.80" y2="278.50" stroke="#ff0000" stroke-width="1.2"/>
<text x="656.30" y="247.30" font-size="5" fill="#1a1a80" stroke="#1a1a80" stroke-width="0.15" text-anchor="start" font-weight="bold" >CN1</text>
<text x="657.00" y="278.10" font-size="5" fill="#1a1a80" stroke="#1a1a80" stroke-width="0.15" text-anchor="start" font-weight="bold" >0.1uF</text>
<line x1="643.30" y1="301.50" x2="648.90" y2="301.50" stroke="#ff0000" stroke-width="1.2"/>
<text x="630.00" y="299.30" font-size="5" fill="#403850" stroke="#403850" stroke-width="0.15" text-anchor="start" font-weight="normal" >0.75V_VTT</text>
<line x1="646.50" y1="301.80" x2="646.50" y2="328.70" stroke="#800040" stroke-width="1"/>
<line x1="646.50" y1="301.80" x2="646.50" y2="307.80" stroke="#ff0000" stroke-width="1"/>
<line x1="684.50" y1="312.80" x2="684.50" y2="334.30" stroke="#800040" stroke-width="1"/>
<line x1="646.10" y1="312.50" x2="656.60" y2="312.50" stroke="#ff0000" stroke-width="1"/>
<line x1="673.60" y1="312.50" x2="684.30" y2="312.50" stroke="#ff0000" stroke-width="1"/>
<text x="651.50" y="311.50" font-size="5" fill="#403850" stroke="#403850" stroke-width="0.15" text-anchor="start" font-weight="normal" >1</text>
<text x="678.00" y="311.50" font-size="5" fill="#403850" stroke="#403850" stroke-width="0.15" text-anchor="start" font-weight="normal" >8</text>
<line x1="646.10" y1="317.50" x2="656.60" y2="317.50" stroke="#ff0000" stroke-width="1"/>
<line x1="673.60" y1="317.50" x2="684.30" y2="317.50" stroke="#ff0000" stroke-width="1"/>
<text x="651.50" y="316.50" font-size="5" fill="#403850" stroke="#403850" stroke-width="0.15" text-anchor="start" font-weight="normal" >2</text>
<text x="678.00" y="316.50" font-size="5" fill="#403850" stroke="#403850" stroke-width="0.15" text-anchor="start" font-weight="normal" >7</text>
<line x1="646.10" y1="323.50" x2="656.60" y2="323.50" stroke="#ff0000" stroke-width="1"/>
<line x1="673.60" y1="323.50" x2="684.30" y2="323.50" stroke="#ff0000" stroke-width="1"/>
<text x="651.50" y="322.50" font-size="5" fill="#403850" stroke="#403850" stroke-width="0.15" text-anchor="start" font-weight="normal" >3</text>
<text x="678.00" y="322.50" font-size="5" fill="#403850" stroke="#403850" stroke-width="0.15" text-anchor="start" font-weight="normal" >6</text>
<line x1="646.10" y1="328.50" x2="656.60" y2="328.50" stroke="#ff0000" stroke-width="1"/>
<line x1="673.60" y1="328.50" x2="684.30" y2="328.50" stroke="#ff0000" stroke-width="1"/>
<text x="651.50" y="327.40" font-size="5" fill="#403850" stroke="#403850" stroke-width="0.15" text-anchor="start" font-weight="normal" >4</text>
<text x="678.00" y="327.40" font-size="5" fill="#403850" stroke="#403850" stroke-width="0.15" text-anchor="start" font-weight="normal" >5</text>
<rect x="656.6" y="308.90000000000003" width="17.0" height="23.8" fill="none" stroke="#0000ff" stroke-width="1"/>
<line x1="656.60" y1="312.50" x2="666.70" y2="312.50" stroke="#0000ff" stroke-width="0.9"/>
<line x1="669.70" y1="312.50" x2="673.60" y2="312.50" stroke="#0000ff" stroke-width="0.9"/>
<line x1="656.60" y1="317.50" x2="660.40" y2="317.50" stroke="#0000ff" stroke-width="0.9"/>
<line x1="664.30" y1="317.50" x2="673.60" y2="317.50" stroke="#0000ff" stroke-width="0.9"/>
<line x1="656.60" y1="323.50" x2="666.70" y2="323.50" stroke="#0000ff" stroke-width="0.9"/>
<line x1="669.70" y1="323.50" x2="673.60" y2="323.50" stroke="#0000ff" stroke-width="0.9"/>
<line x1="656.60" y1="328.50" x2="660.40" y2="328.50" stroke="#0000ff" stroke-width="0.9"/>
<line x1="664.30" y1="328.50" x2="673.60" y2="328.50" stroke="#0000ff" stroke-width="0.9"/>
<line x1="666.50" y1="309.80" x2="666.50" y2="316.00" stroke="#0000ff" stroke-width="0.9"/>
<line x1="669.50" y1="309.80" x2="669.50" y2="316.00" stroke="#0000ff" stroke-width="0.9"/>
<line x1="660.50" y1="315.40" x2="660.50" y2="320.80" stroke="#0000ff" stroke-width="0.9"/>
<line x1="664.50" y1="315.40" x2="664.50" y2="320.80" stroke="#0000ff" stroke-width="0.9"/>
<line x1="666.50" y1="320.50" x2="666.50" y2="326.80" stroke="#0000ff" stroke-width="0.9"/>
<line x1="669.50" y1="320.50" x2="669.50" y2="326.80" stroke="#0000ff" stroke-width="0.9"/>
<line x1="660.50" y1="326.20" x2="660.50" y2="332.10" stroke="#0000ff" stroke-width="0.9"/>
<line x1="664.50" y1="326.20" x2="664.50" y2="332.10" stroke="#0000ff" stroke-width="0.9"/>
<line x1="659.40" y1="315.50" x2="665.30" y2="315.50" stroke="#0000ff" stroke-width="0.9"/>
<line x1="659.40" y1="326.50" x2="665.30" y2="326.50" stroke="#0000ff" stroke-width="0.9"/>
<line x1="684.50" y1="330.40" x2="684.50" y2="333.90" stroke="#ff0000" stroke-width="1"/>
<line x1="679.00" y1="333.50" x2="689.60" y2="333.50" stroke="#ff0000" stroke-width="1.2"/>
<line x1="680.80" y1="336.50" x2="687.80" y2="336.50" stroke="#ff0000" stroke-width="1.2"/>
<line x1="682.80" y1="339.50" x2="685.80" y2="339.50" stroke="#ff0000" stroke-width="1.2"/>
<text x="656.30" y="307.60" font-size="5" fill="#1a1a80" stroke="#1a1a80" stroke-width="0.15" text-anchor="start" font-weight="bold" >CN2</text>
<text x="657.00" y="338.40" font-size="5" fill="#1a1a80" stroke="#1a1a80" stroke-width="0.15" text-anchor="start" font-weight="bold" >0.1uF</text>
<line x1="643.30" y1="361.50" x2="648.90" y2="361.50" stroke="#ff0000" stroke-width="1.2"/>
<text x="630.00" y="358.90" font-size="5" fill="#403850" stroke="#403850" stroke-width="0.15" text-anchor="start" font-weight="normal" >0.75V_VTT</text>
<line x1="646.50" y1="361.40" x2="646.50" y2="388.30" stroke="#800040" stroke-width="1"/>
<line x1="646.50" y1="361.40" x2="646.50" y2="367.40" stroke="#ff0000" stroke-width="1"/>
<line x1="684.50" y1="372.40" x2="684.50" y2="393.90" stroke="#800040" stroke-width="1"/>
<line x1="646.10" y1="372.50" x2="656.60" y2="372.50" stroke="#ff0000" stroke-width="1"/>
<line x1="673.60" y1="372.50" x2="684.30" y2="372.50" stroke="#ff0000" stroke-width="1"/>
<text x="651.50" y="371.10" font-size="5" fill="#403850" stroke="#403850" stroke-width="0.15" text-anchor="start" font-weight="normal" >1</text>
<text x="678.00" y="371.10" font-size="5" fill="#403850" stroke="#403850" stroke-width="0.15" text-anchor="start" font-weight="normal" >8</text>
<line x1="646.10" y1="377.50" x2="656.60" y2="377.50" stroke="#ff0000" stroke-width="1"/>
<line x1="673.60" y1="377.50" x2="684.30" y2="377.50" stroke="#ff0000" stroke-width="1"/>
<text x="651.50" y="376.10" font-size="5" fill="#403850" stroke="#403850" stroke-width="0.15" text-anchor="start" font-weight="normal" >2</text>
<text x="678.00" y="376.10" font-size="5" fill="#403850" stroke="#403850" stroke-width="0.15" text-anchor="start" font-weight="normal" >7</text>
<line x1="646.10" y1="383.50" x2="656.60" y2="383.50" stroke="#ff0000" stroke-width="1"/>
<line x1="673.60" y1="383.50" x2="684.30" y2="383.50" stroke="#ff0000" stroke-width="1"/>
<text x="651.50" y="382.10" font-size="5" fill="#403850" stroke="#403850" stroke-width="0.15" text-anchor="start" font-weight="normal" >3</text>
<text x="678.00" y="382.10" font-size="5" fill="#403850" stroke="#403850" stroke-width="0.15" text-anchor="start" font-weight="normal" >6</text>
<line x1="646.10" y1="388.50" x2="656.60" y2="388.50" stroke="#ff0000" stroke-width="1"/>
<line x1="673.60" y1="388.50" x2="684.30" y2="388.50" stroke="#ff0000" stroke-width="1"/>
<text x="651.50" y="387.00" font-size="5" fill="#403850" stroke="#403850" stroke-width="0.15" text-anchor="start" font-weight="normal" >4</text>
<text x="678.00" y="387.00" font-size="5" fill="#403850" stroke="#403850" stroke-width="0.15" text-anchor="start" font-weight="normal" >5</text>
<rect x="656.6" y="368.5" width="17.0" height="23.8" fill="none" stroke="#0000ff" stroke-width="1"/>
<line x1="656.60" y1="372.50" x2="666.70" y2="372.50" stroke="#0000ff" stroke-width="0.9"/>
<line x1="669.70" y1="372.50" x2="673.60" y2="372.50" stroke="#0000ff" stroke-width="0.9"/>
<line x1="656.60" y1="377.50" x2="660.40" y2="377.50" stroke="#0000ff" stroke-width="0.9"/>
<line x1="664.30" y1="377.50" x2="673.60" y2="377.50" stroke="#0000ff" stroke-width="0.9"/>
<line x1="656.60" y1="383.50" x2="666.70" y2="383.50" stroke="#0000ff" stroke-width="0.9"/>
<line x1="669.70" y1="383.50" x2="673.60" y2="383.50" stroke="#0000ff" stroke-width="0.9"/>
<line x1="656.60" y1="388.50" x2="660.40" y2="388.50" stroke="#0000ff" stroke-width="0.9"/>
<line x1="664.30" y1="388.50" x2="673.60" y2="388.50" stroke="#0000ff" stroke-width="0.9"/>
<line x1="666.50" y1="369.40" x2="666.50" y2="375.60" stroke="#0000ff" stroke-width="0.9"/>
<line x1="669.50" y1="369.40" x2="669.50" y2="375.60" stroke="#0000ff" stroke-width="0.9"/>
<line x1="660.50" y1="375.00" x2="660.50" y2="380.40" stroke="#0000ff" stroke-width="0.9"/>
<line x1="664.50" y1="375.00" x2="664.50" y2="380.40" stroke="#0000ff" stroke-width="0.9"/>
<line x1="666.50" y1="380.10" x2="666.50" y2="386.40" stroke="#0000ff" stroke-width="0.9"/>
<line x1="669.50" y1="380.10" x2="669.50" y2="386.40" stroke="#0000ff" stroke-width="0.9"/>
<line x1="660.50" y1="385.80" x2="660.50" y2="391.70" stroke="#0000ff" stroke-width="0.9"/>
<line x1="664.50" y1="385.80" x2="664.50" y2="391.70" stroke="#0000ff" stroke-width="0.9"/>
<line x1="659.40" y1="374.50" x2="665.30" y2="374.50" stroke="#0000ff" stroke-width="0.9"/>
<line x1="659.40" y1="385.50" x2="665.30" y2="385.50" stroke="#0000ff" stroke-width="0.9"/>
<line x1="684.50" y1="390.00" x2="684.50" y2="393.50" stroke="#ff0000" stroke-width="1"/>
<line x1="679.00" y1="393.50" x2="689.60" y2="393.50" stroke="#ff0000" stroke-width="1.2"/>
<line x1="680.80" y1="396.50" x2="687.80" y2="396.50" stroke="#ff0000" stroke-width="1.2"/>
<line x1="682.80" y1="398.50" x2="685.80" y2="398.50" stroke="#ff0000" stroke-width="1.2"/>
<text x="656.30" y="367.20" font-size="5" fill="#1a1a80" stroke="#1a1a80" stroke-width="0.15" text-anchor="start" font-weight="bold" >CN3</text>
<text x="657.00" y="398.00" font-size="5" fill="#1a1a80" stroke="#1a1a80" stroke-width="0.15" text-anchor="start" font-weight="bold" >0.1uF</text>
<text x="700.50" y="252.50" font-size="5.2" fill="#303060" stroke="#303060" stroke-width="0.15" text-anchor="start" font-weight="normal" >CAD Note:</text>
<text x="700.50" y="258.20" font-size="5.2" fill="#303060" stroke="#303060" stroke-width="0.15" text-anchor="start" font-weight="normal" >Place cap arrays near</text>
<text x="700.50" y="263.90" font-size="5.2" fill="#303060" stroke="#303060" stroke-width="0.15" text-anchor="start" font-weight="normal" >resistor packs and on</text>
<text x="700.50" y="269.60" font-size="5.2" fill="#303060" stroke="#303060" stroke-width="0.15" text-anchor="start" font-weight="normal" >the same side of PCB</text>
<text x="662.80" y="40.90" font-size="6.1" fill="#101020" stroke="#101020" stroke-width="0.15" text-anchor="start" font-weight="normal" >FPGA Interface</text>
<line x1="661.30" y1="56.00" x2="716.60" y2="56.00" stroke="#0000ff" stroke-width="2"/>
<line x1="716.60" y1="56.50" x2="722.40" y2="56.50" stroke="#ff0000" stroke-width="1"/>
<polygon points="722.40,56.50 725.50,53.50 740.50,53.50 743.60,56.50 740.50,59.50 725.50,59.50" fill="none" stroke="#ff0000" stroke-width="0.9"/>
<polyline points="727.50,54.00 724.80,56.50 727.50,59.00" stroke="#ff0000" stroke-width="0.8" fill="none" stroke-linejoin="miter"/>
<polyline points="738.50,54.00 741.20,56.50 738.50,59.00" stroke="#ff0000" stroke-width="0.8" fill="none" stroke-linejoin="miter"/>
<text x="663.50" y="53.90" font-size="5" fill="#ff3048" stroke="#ff3048" stroke-width="0.16" text-anchor="start" font-weight="normal" >DDR3_DQ[31:0]</text>
<text x="749.00" y="58.30" font-size="5" fill="#ff6030" stroke="#ff6030" stroke-width="0.15" text-anchor="start" font-weight="normal" font-style="italic">7</text>
<line x1="661.30" y1="68.00" x2="716.60" y2="68.00" stroke="#0000ff" stroke-width="2"/>
<line x1="716.60" y1="67.50" x2="722.40" y2="67.50" stroke="#ff0000" stroke-width="1"/>
<polygon points="722.40,67.50 725.50,64.50 743.50,64.50 743.50,70.50 725.50,70.50" fill="none" stroke="#ff0000" stroke-width="0.9"/>
<polyline points="727.50,65.00 724.80,67.50 727.50,70.00" stroke="#ff0000" stroke-width="0.8" fill="none" stroke-linejoin="miter"/>
<text x="663.50" y="64.90" font-size="5" fill="#ff3048" stroke="#ff3048" stroke-width="0.16" text-anchor="start" font-weight="normal" >DDR3_A[13:0]</text>
<text x="749.00" y="69.30" font-size="5" fill="#ff6030" stroke="#ff6030" stroke-width="0.15" text-anchor="start" font-weight="normal" font-style="italic">7,9</text>
<line x1="661.30" y1="78.00" x2="716.60" y2="78.00" stroke="#0000ff" stroke-width="2"/>
<line x1="716.60" y1="78.50" x2="722.40" y2="78.50" stroke="#ff0000" stroke-width="1"/>
<polygon points="722.40,78.50 725.50,75.50 740.50,75.50 743.60,78.50 740.50,81.50 725.50,81.50" fill="none" stroke="#ff0000" stroke-width="0.9"/>
<polyline points="727.50,76.00 724.80,78.50 727.50,81.00" stroke="#ff0000" stroke-width="0.8" fill="none" stroke-linejoin="miter"/>
<polyline points="738.50,76.00 741.20,78.50 738.50,81.00" stroke="#ff0000" stroke-width="0.8" fill="none" stroke-linejoin="miter"/>
<text x="663.50" y="75.90" font-size="5" fill="#ff3048" stroke="#ff3048" stroke-width="0.16" text-anchor="start" font-weight="normal" >DDR3_DQS_P[3:0]</text>
<text x="749.00" y="80.30" font-size="5" fill="#ff6030" stroke="#ff6030" stroke-width="0.15" text-anchor="start" font-weight="normal" font-style="italic">7</text>
<line x1="661.30" y1="90.00" x2="716.60" y2="90.00" stroke="#0000ff" stroke-width="2"/>
<line x1="716.60" y1="89.50" x2="722.40" y2="89.50" stroke="#ff0000" stroke-width="1"/>
<polygon points="722.40,89.50 725.50,86.50 740.50,86.50 743.60,89.50 740.50,92.50 725.50,92.50" fill="none" stroke="#ff0000" stroke-width="0.9"/>
<polyline points="727.50,87.00 724.80,89.50 727.50,92.00" stroke="#ff0000" stroke-width="0.8" fill="none" stroke-linejoin="miter"/>
<polyline points="738.50,87.00 741.20,89.50 738.50,92.00" stroke="#ff0000" stroke-width="0.8" fill="none" stroke-linejoin="miter"/>
<text x="663.50" y="86.90" font-size="5" fill="#ff3048" stroke="#ff3048" stroke-width="0.16" text-anchor="start" font-weight="normal" >DDR3_DQS_N[3:0]</text>
<text x="749.00" y="91.30" font-size="5" fill="#ff6030" stroke="#ff6030" stroke-width="0.15" text-anchor="start" font-weight="normal" font-style="italic">7</text>
<line x1="661.30" y1="100.00" x2="716.60" y2="100.00" stroke="#0000ff" stroke-width="2"/>
<line x1="716.60" y1="100.50" x2="722.40" y2="100.50" stroke="#ff0000" stroke-width="1"/>
<polygon points="722.40,100.50 725.50,97.50 743.50,97.50 743.50,103.50 725.50,103.50" fill="none" stroke="#ff0000" stroke-width="0.9"/>
<polyline points="727.50,98.00 724.80,100.50 727.50,103.00" stroke="#ff0000" stroke-width="0.8" fill="none" stroke-linejoin="miter"/>
<text x="663.50" y="97.90" font-size="5" fill="#ff3048" stroke="#ff3048" stroke-width="0.16" text-anchor="start" font-weight="normal" >DDR3_BA[2:0]</text>
<text x="749.00" y="102.30" font-size="5" fill="#ff6030" stroke="#ff6030" stroke-width="0.15" text-anchor="start" font-weight="normal" font-style="italic">7,9</text>
<line x1="661.30" y1="112.00" x2="716.60" y2="112.00" stroke="#0000ff" stroke-width="2"/>
<line x1="716.60" y1="111.50" x2="722.40" y2="111.50" stroke="#ff0000" stroke-width="1"/>
<polygon points="722.40,111.50 725.50,108.50 743.50,108.50 743.50,114.50 725.50,114.50" fill="none" stroke="#ff0000" stroke-width="0.9"/>
<polyline points="727.50,109.00 724.80,111.50 727.50,114.00" stroke="#ff0000" stroke-width="0.8" fill="none" stroke-linejoin="miter"/>
<text x="663.50" y="108.90" font-size="5" fill="#ff3048" stroke="#ff3048" stroke-width="0.16" text-anchor="start" font-weight="normal" >DDR3_DM[3:0]</text>
<text x="749.00" y="113.30" font-size="5" fill="#ff6030" stroke="#ff6030" stroke-width="0.15" text-anchor="start" font-weight="normal" font-style="italic">7</text>
<line x1="661.90" y1="122.50" x2="716.60" y2="122.50" stroke="#800040" stroke-width="1"/>
<line x1="716.60" y1="122.50" x2="722.40" y2="122.50" stroke="#ff0000" stroke-width="1"/>
<polygon points="722.40,122.50 725.50,119.50 743.50,119.50 743.50,125.50 725.50,125.50" fill="none" stroke="#ff0000" stroke-width="0.9"/>
<polyline points="727.50,120.00 724.80,122.50 727.50,125.00" stroke="#ff0000" stroke-width="0.8" fill="none" stroke-linejoin="miter"/>
<text x="663.50" y="119.90" font-size="5" fill="#ff3048" stroke="#ff3048" stroke-width="0.16" text-anchor="start" font-weight="normal" >DDR3_CKE</text>
<text x="749.00" y="124.30" font-size="5" fill="#ff6030" stroke="#ff6030" stroke-width="0.15" text-anchor="start" font-weight="normal" font-style="italic">7</text>
<line x1="661.90" y1="132.50" x2="716.60" y2="132.50" stroke="#800040" stroke-width="1"/>
<line x1="716.60" y1="132.50" x2="722.40" y2="132.50" stroke="#ff0000" stroke-width="1"/>
<polygon points="722.40,132.50 725.50,129.50 743.50,129.50 743.50,135.50 725.50,135.50" fill="none" stroke="#ff0000" stroke-width="0.9"/>
<polyline points="727.50,130.00 724.80,132.50 727.50,135.00" stroke="#ff0000" stroke-width="0.8" fill="none" stroke-linejoin="miter"/>
<text x="663.50" y="129.90" font-size="5" fill="#ff3048" stroke="#ff3048" stroke-width="0.16" text-anchor="start" font-weight="normal" >DDR3_CLK_P</text>
<text x="749.00" y="134.30" font-size="5" fill="#ff6030" stroke="#ff6030" stroke-width="0.15" text-anchor="start" font-weight="normal" font-style="italic">7</text>
<line x1="661.90" y1="143.50" x2="716.60" y2="143.50" stroke="#800040" stroke-width="1"/>
<line x1="716.60" y1="143.50" x2="722.40" y2="143.50" stroke="#ff0000" stroke-width="1"/>
<polygon points="722.40,143.50 725.50,140.50 743.50,140.50 743.50,146.50 725.50,146.50" fill="none" stroke="#ff0000" stroke-width="0.9"/>
<polyline points="727.50,141.00 724.80,143.50 727.50,146.00" stroke="#ff0000" stroke-width="0.8" fill="none" stroke-linejoin="miter"/>
<text x="663.50" y="140.90" font-size="5" fill="#ff3048" stroke="#ff3048" stroke-width="0.16" text-anchor="start" font-weight="normal" >DDR3_CLK_N</text>
<text x="749.00" y="145.30" font-size="5" fill="#ff6030" stroke="#ff6030" stroke-width="0.15" text-anchor="start" font-weight="normal" font-style="italic">7</text>
<line x1="661.90" y1="154.50" x2="716.60" y2="154.50" stroke="#800040" stroke-width="1"/>
<line x1="716.60" y1="154.50" x2="722.40" y2="154.50" stroke="#ff0000" stroke-width="1"/>
<polygon points="722.40,154.50 725.50,151.50 743.50,151.50 743.50,157.50 725.50,157.50" fill="none" stroke="#ff0000" stroke-width="0.9"/>
<polyline points="727.50,152.00 724.80,154.50 727.50,157.00" stroke="#ff0000" stroke-width="0.8" fill="none" stroke-linejoin="miter"/>
<text x="663.50" y="151.90" font-size="5" fill="#ff3048" stroke="#ff3048" stroke-width="0.16" text-anchor="start" font-weight="normal" >DDR3_CSn</text>
<text x="749.00" y="156.30" font-size="5" fill="#ff6030" stroke="#ff6030" stroke-width="0.15" text-anchor="start" font-weight="normal" font-style="italic">9</text>
<line x1="661.90" y1="165.50" x2="716.60" y2="165.50" stroke="#800040" stroke-width="1"/>
<line x1="716.60" y1="165.50" x2="722.40" y2="165.50" stroke="#ff0000" stroke-width="1"/>
<polygon points="722.40,165.50 725.50,162.50 743.50,162.50 743.50,168.50 725.50,168.50" fill="none" stroke="#ff0000" stroke-width="0.9"/>
<polyline points="727.50,163.00 724.80,165.50 727.50,168.00" stroke="#ff0000" stroke-width="0.8" fill="none" stroke-linejoin="miter"/>
<text x="663.50" y="162.90" font-size="5" fill="#ff3048" stroke="#ff3048" stroke-width="0.16" text-anchor="start" font-weight="normal" >DDR3_WEn</text>
<text x="749.00" y="167.30" font-size="5" fill="#ff6030" stroke="#ff6030" stroke-width="0.15" text-anchor="start" font-weight="normal" font-style="italic">7</text>
<line x1="661.90" y1="176.50" x2="716.60" y2="176.50" stroke="#800040" stroke-width="1"/>
<line x1="716.60" y1="176.50" x2="722.40" y2="176.50" stroke="#ff0000" stroke-width="1"/>
<polygon points="722.40,176.50 725.50,173.50 743.50,173.50 743.50,179.50 725.50,179.50" fill="none" stroke="#ff0000" stroke-width="0.9"/>
<polyline points="727.50,174.00 724.80,176.50 727.50,179.00" stroke="#ff0000" stroke-width="0.8" fill="none" stroke-linejoin="miter"/>
<text x="663.50" y="173.90" font-size="5" fill="#ff3048" stroke="#ff3048" stroke-width="0.16" text-anchor="start" font-weight="normal" >DDR3_RASn</text>
<text x="749.00" y="178.30" font-size="5" fill="#ff6030" stroke="#ff6030" stroke-width="0.15" text-anchor="start" font-weight="normal" font-style="italic">7</text>
<line x1="661.90" y1="187.50" x2="716.60" y2="187.50" stroke="#800040" stroke-width="1"/>
<line x1="716.60" y1="187.50" x2="722.40" y2="187.50" stroke="#ff0000" stroke-width="1"/>
<polygon points="722.40,187.50 725.50,184.50 743.50,184.50 743.50,190.50 725.50,190.50" fill="none" stroke="#ff0000" stroke-width="0.9"/>
<polyline points="727.50,185.00 724.80,187.50 727.50,190.00" stroke="#ff0000" stroke-width="0.8" fill="none" stroke-linejoin="miter"/>
<text x="663.50" y="184.90" font-size="5" fill="#ff3048" stroke="#ff3048" stroke-width="0.16" text-anchor="start" font-weight="normal" >DDR3_CASn</text>
<text x="749.00" y="189.30" font-size="5" fill="#ff6030" stroke="#ff6030" stroke-width="0.15" text-anchor="start" font-weight="normal" font-style="italic">7</text>
<line x1="661.90" y1="198.50" x2="716.60" y2="198.50" stroke="#800040" stroke-width="1"/>
<line x1="716.60" y1="198.50" x2="722.40" y2="198.50" stroke="#ff0000" stroke-width="1"/>
<polygon points="722.40,198.50 725.50,195.50 743.50,195.50 743.50,201.50 725.50,201.50" fill="none" stroke="#ff0000" stroke-width="0.9"/>
<polyline points="727.50,196.00 724.80,198.50 727.50,201.00" stroke="#ff0000" stroke-width="0.8" fill="none" stroke-linejoin="miter"/>
<text x="663.50" y="195.90" font-size="5" fill="#ff3048" stroke="#ff3048" stroke-width="0.16" text-anchor="start" font-weight="normal" >DDR3_RESETn</text>
<text x="749.00" y="200.30" font-size="5" fill="#ff6030" stroke="#ff6030" stroke-width="0.15" text-anchor="start" font-weight="normal" font-style="italic">7</text>
<line x1="661.90" y1="209.50" x2="716.60" y2="209.50" stroke="#800040" stroke-width="1"/>
<line x1="716.60" y1="209.50" x2="722.40" y2="209.50" stroke="#ff0000" stroke-width="1"/>
<polygon points="722.40,209.50 725.50,206.50 743.50,206.50 743.50,212.50 725.50,212.50" fill="none" stroke="#ff0000" stroke-width="0.9"/>
<polyline points="727.50,207.00 724.80,209.50 727.50,212.00" stroke="#ff0000" stroke-width="0.8" fill="none" stroke-linejoin="miter"/>
<text x="663.50" y="206.90" font-size="5" fill="#ff3048" stroke="#ff3048" stroke-width="0.16" text-anchor="start" font-weight="normal" >DDR3_ODT</text>
<text x="749.00" y="211.30" font-size="5" fill="#ff6030" stroke="#ff6030" stroke-width="0.15" text-anchor="start" font-weight="normal" font-style="italic">9</text>
<circle cx="53.50" cy="258.50" r="1.8" fill="#ff00ff"/>
<circle cx="53.50" cy="263.50" r="1.8" fill="#ff00ff"/>
<circle cx="75.50" cy="279.50" r="1.8" fill="#ff00ff"/>
<circle cx="75.50" cy="285.50" r="1.8" fill="#ff00ff"/>
<circle cx="75.50" cy="290.50" r="1.8" fill="#ff00ff"/>
<circle cx="75.50" cy="296.50" r="1.8" fill="#ff00ff"/>
<circle cx="75.50" cy="301.50" r="1.8" fill="#ff00ff"/>
<circle cx="75.50" cy="306.50" r="1.8" fill="#ff00ff"/>
<circle cx="75.50" cy="312.50" r="1.8" fill="#ff00ff"/>
<circle cx="75.50" cy="317.50" r="1.8" fill="#ff00ff"/>
<circle cx="75.50" cy="328.50" r="1.8" fill="#ff00ff"/>
<circle cx="75.50" cy="334.50" r="1.8" fill="#ff00ff"/>
<circle cx="75.50" cy="339.50" r="1.8" fill="#ff00ff"/>
<circle cx="75.50" cy="345.50" r="1.8" fill="#ff00ff"/>
<circle cx="75.50" cy="350.50" r="1.8" fill="#ff00ff"/>
<circle cx="75.50" cy="355.50" r="1.8" fill="#ff00ff"/>
<circle cx="75.50" cy="361.50" r="1.8" fill="#ff00ff"/>
<circle cx="75.50" cy="366.50" r="1.8" fill="#ff00ff"/>
<circle cx="167.50" cy="258.50" r="1.8" fill="#ff00ff"/>
<circle cx="167.50" cy="263.50" r="1.8" fill="#ff00ff"/>
<circle cx="167.50" cy="268.50" r="1.8" fill="#ff00ff"/>
<circle cx="167.50" cy="274.50" r="1.8" fill="#ff00ff"/>
<circle cx="167.50" cy="279.50" r="1.8" fill="#ff00ff"/>
<circle cx="167.50" cy="285.50" r="1.8" fill="#ff00ff"/>
<circle cx="167.50" cy="290.50" r="1.8" fill="#ff00ff"/>
<circle cx="167.50" cy="296.50" r="1.8" fill="#ff00ff"/>
<circle cx="167.50" cy="306.50" r="1.8" fill="#ff00ff"/>
<circle cx="167.50" cy="312.50" r="1.8" fill="#ff00ff"/>
<circle cx="167.50" cy="317.50" r="1.8" fill="#ff00ff"/>
<circle cx="167.50" cy="323.50" r="1.8" fill="#ff00ff"/>
<circle cx="167.50" cy="328.50" r="1.8" fill="#ff00ff"/>
<circle cx="167.50" cy="334.50" r="1.8" fill="#ff00ff"/>
<circle cx="167.50" cy="339.50" r="1.8" fill="#ff00ff"/>
<circle cx="167.50" cy="345.50" r="1.8" fill="#ff00ff"/>
<circle cx="167.50" cy="350.50" r="1.8" fill="#ff00ff"/>
<circle cx="167.50" cy="355.50" r="1.8" fill="#ff00ff"/>
<circle cx="167.50" cy="361.50" r="1.8" fill="#ff00ff"/>
<circle cx="167.50" cy="366.50" r="1.8" fill="#ff00ff"/>
<circle cx="271.50" cy="258.50" r="1.8" fill="#ff00ff"/>
<circle cx="271.50" cy="263.50" r="1.8" fill="#ff00ff"/>
<circle cx="303.50" cy="274.50" r="1.8" fill="#ff00ff"/>
<circle cx="303.50" cy="279.50" r="1.8" fill="#ff00ff"/>
<circle cx="303.50" cy="285.50" r="1.8" fill="#ff00ff"/>
<circle cx="303.50" cy="290.50" r="1.8" fill="#ff00ff"/>
<circle cx="303.50" cy="296.50" r="1.8" fill="#ff00ff"/>
<circle cx="303.50" cy="301.50" r="1.8" fill="#ff00ff"/>
<circle cx="303.50" cy="306.50" r="1.8" fill="#ff00ff"/>
<circle cx="303.50" cy="312.50" r="1.8" fill="#ff00ff"/>
<circle cx="303.50" cy="317.50" r="1.8" fill="#ff00ff"/>
<circle cx="303.50" cy="328.50" r="1.8" fill="#ff00ff"/>
<circle cx="303.50" cy="334.50" r="1.8" fill="#ff00ff"/>
<circle cx="303.50" cy="339.50" r="1.8" fill="#ff00ff"/>
<circle cx="303.50" cy="345.50" r="1.8" fill="#ff00ff"/>
<circle cx="303.50" cy="350.50" r="1.8" fill="#ff00ff"/>
<circle cx="303.50" cy="355.50" r="1.8" fill="#ff00ff"/>
<circle cx="303.50" cy="361.50" r="1.8" fill="#ff00ff"/>
<circle cx="303.50" cy="366.50" r="1.8" fill="#ff00ff"/>
<circle cx="303.50" cy="323.50" r="1.8" fill="#ff00ff"/>
<circle cx="390.50" cy="258.50" r="1.8" fill="#ff00ff"/>
<circle cx="390.50" cy="263.50" r="1.8" fill="#ff00ff"/>
<circle cx="390.50" cy="268.50" r="1.8" fill="#ff00ff"/>
<circle cx="390.50" cy="274.50" r="1.8" fill="#ff00ff"/>
<circle cx="390.50" cy="279.50" r="1.8" fill="#ff00ff"/>
<circle cx="390.50" cy="285.50" r="1.8" fill="#ff00ff"/>
<circle cx="390.50" cy="290.50" r="1.8" fill="#ff00ff"/>
<circle cx="390.50" cy="296.50" r="1.8" fill="#ff00ff"/>
<circle cx="390.50" cy="306.50" r="1.8" fill="#ff00ff"/>
<circle cx="390.50" cy="312.50" r="1.8" fill="#ff00ff"/>
<circle cx="390.50" cy="317.50" r="1.8" fill="#ff00ff"/>
<circle cx="390.50" cy="323.50" r="1.8" fill="#ff00ff"/>
<circle cx="390.50" cy="328.50" r="1.8" fill="#ff00ff"/>
<circle cx="390.50" cy="334.50" r="1.8" fill="#ff00ff"/>
<circle cx="390.50" cy="339.50" r="1.8" fill="#ff00ff"/>
<circle cx="390.50" cy="345.50" r="1.8" fill="#ff00ff"/>
<circle cx="390.50" cy="350.50" r="1.8" fill="#ff00ff"/>
<circle cx="390.50" cy="355.50" r="1.8" fill="#ff00ff"/>
<circle cx="390.50" cy="361.50" r="1.8" fill="#ff00ff"/>
<circle cx="390.50" cy="366.50" r="1.8" fill="#ff00ff"/>
<circle cx="15.50" cy="426.50" r="1.8" fill="#ff00ff"/>
<circle cx="15.50" cy="459.50" r="1.8" fill="#ff00ff"/>
<circle cx="189.50" cy="486.50" r="1.8" fill="#ff00ff"/>
<circle cx="31.50" cy="426.50" r="1.8" fill="#ff00ff"/>
<circle cx="59.50" cy="426.50" r="1.8" fill="#ff00ff"/>
<circle cx="59.50" cy="453.50" r="1.8" fill="#ff00ff"/>
<circle cx="86.50" cy="426.50" r="1.8" fill="#ff00ff"/>
<circle cx="86.50" cy="453.50" r="1.8" fill="#ff00ff"/>
<circle cx="113.50" cy="426.50" r="1.8" fill="#ff00ff"/>
<circle cx="113.50" cy="453.50" r="1.8" fill="#ff00ff"/>
<circle cx="140.50" cy="426.50" r="1.8" fill="#ff00ff"/>
<circle cx="140.50" cy="453.50" r="1.8" fill="#ff00ff"/>
<circle cx="167.50" cy="453.50" r="1.8" fill="#ff00ff"/>
<circle cx="37.50" cy="459.50" r="1.8" fill="#ff00ff"/>
<circle cx="37.50" cy="486.50" r="1.8" fill="#ff00ff"/>
<circle cx="59.50" cy="459.50" r="1.8" fill="#ff00ff"/>
<circle cx="59.50" cy="486.50" r="1.8" fill="#ff00ff"/>
<circle cx="80.50" cy="459.50" r="1.8" fill="#ff00ff"/>
<circle cx="80.50" cy="486.50" r="1.8" fill="#ff00ff"/>
<circle cx="102.50" cy="459.50" r="1.8" fill="#ff00ff"/>
<circle cx="102.50" cy="486.50" r="1.8" fill="#ff00ff"/>
<circle cx="124.50" cy="459.50" r="1.8" fill="#ff00ff"/>
<circle cx="124.50" cy="486.50" r="1.8" fill="#ff00ff"/>
<circle cx="146.50" cy="459.50" r="1.8" fill="#ff00ff"/>
<circle cx="146.50" cy="486.50" r="1.8" fill="#ff00ff"/>
<circle cx="167.50" cy="486.50" r="1.8" fill="#ff00ff"/>
<circle cx="265.50" cy="426.50" r="1.8" fill="#ff00ff"/>
<circle cx="265.50" cy="459.50" r="1.8" fill="#ff00ff"/>
<circle cx="439.50" cy="486.50" r="1.8" fill="#ff00ff"/>
<circle cx="281.50" cy="426.50" r="1.8" fill="#ff00ff"/>
<circle cx="309.50" cy="426.50" r="1.8" fill="#ff00ff"/>
<circle cx="309.50" cy="453.50" r="1.8" fill="#ff00ff"/>
<circle cx="336.50" cy="426.50" r="1.8" fill="#ff00ff"/>
<circle cx="336.50" cy="453.50" r="1.8" fill="#ff00ff"/>
<circle cx="363.50" cy="426.50" r="1.8" fill="#ff00ff"/>
<circle cx="363.50" cy="453.50" r="1.8" fill="#ff00ff"/>
<circle cx="390.50" cy="426.50" r="1.8" fill="#ff00ff"/>
<circle cx="390.50" cy="453.50" r="1.8" fill="#ff00ff"/>
<circle cx="417.50" cy="453.50" r="1.8" fill="#ff00ff"/>
<circle cx="287.50" cy="459.50" r="1.8" fill="#ff00ff"/>
<circle cx="287.50" cy="486.50" r="1.8" fill="#ff00ff"/>
<circle cx="309.50" cy="459.50" r="1.8" fill="#ff00ff"/>
<circle cx="309.50" cy="486.50" r="1.8" fill="#ff00ff"/>
<circle cx="330.50" cy="459.50" r="1.8" fill="#ff00ff"/>
<circle cx="330.50" cy="486.50" r="1.8" fill="#ff00ff"/>
<circle cx="352.50" cy="459.50" r="1.8" fill="#ff00ff"/>
<circle cx="352.50" cy="486.50" r="1.8" fill="#ff00ff"/>
<circle cx="374.50" cy="459.50" r="1.8" fill="#ff00ff"/>
<circle cx="374.50" cy="486.50" r="1.8" fill="#ff00ff"/>
<circle cx="396.50" cy="459.50" r="1.8" fill="#ff00ff"/>
<circle cx="396.50" cy="486.50" r="1.8" fill="#ff00ff"/>
<circle cx="417.50" cy="486.50" r="1.8" fill="#ff00ff"/>
<circle cx="493.50" cy="181.50" r="1.3" fill="#ff00ff"/>
<circle cx="602.50" cy="246.50" r="1.8" fill="#ff00ff"/>
<circle cx="602.50" cy="252.50" r="1.8" fill="#ff00ff"/>
<circle cx="602.50" cy="257.50" r="1.8" fill="#ff00ff"/>
<circle cx="602.50" cy="263.50" r="1.8" fill="#ff00ff"/>
<circle cx="602.50" cy="268.50" r="1.8" fill="#ff00ff"/>
<circle cx="602.50" cy="274.50" r="1.8" fill="#ff00ff"/>
<circle cx="602.50" cy="279.50" r="1.8" fill="#ff00ff"/>
<circle cx="602.50" cy="306.50" r="1.8" fill="#ff00ff"/>
<circle cx="602.50" cy="312.50" r="1.8" fill="#ff00ff"/>
<circle cx="602.50" cy="317.50" r="1.8" fill="#ff00ff"/>
<circle cx="602.50" cy="322.50" r="1.8" fill="#ff00ff"/>
<circle cx="602.50" cy="328.50" r="1.8" fill="#ff00ff"/>
<circle cx="602.50" cy="333.50" r="1.8" fill="#ff00ff"/>
<circle cx="602.50" cy="339.50" r="1.8" fill="#ff00ff"/>
<circle cx="580.50" cy="366.50" r="1.8" fill="#ff00ff"/>
<circle cx="580.50" cy="371.50" r="1.8" fill="#ff00ff"/>
<circle cx="602.50" cy="366.50" r="1.8" fill="#ff00ff"/>
<circle cx="602.50" cy="371.50" r="1.8" fill="#ff00ff"/>
<circle cx="602.50" cy="377.50" r="1.8" fill="#ff00ff"/>
<circle cx="602.50" cy="382.50" r="1.8" fill="#ff00ff"/>
<circle cx="602.50" cy="388.50" r="1.8" fill="#ff00ff"/>
<circle cx="602.50" cy="393.50" r="1.8" fill="#ff00ff"/>
<circle cx="602.50" cy="398.50" r="1.8" fill="#ff00ff"/>
<circle cx="646.50" cy="252.50" r="1.8" fill="#ff00ff"/>
<circle cx="646.50" cy="257.50" r="1.8" fill="#ff00ff"/>
<circle cx="684.50" cy="257.50" r="1.8" fill="#ff00ff"/>
<circle cx="646.50" cy="263.50" r="1.8" fill="#ff00ff"/>
<circle cx="684.50" cy="263.50" r="1.8" fill="#ff00ff"/>
<circle cx="684.50" cy="268.50" r="1.8" fill="#ff00ff"/>
<circle cx="646.50" cy="312.50" r="1.8" fill="#ff00ff"/>
<circle cx="646.50" cy="317.50" r="1.8" fill="#ff00ff"/>
<circle cx="684.50" cy="317.50" r="1.8" fill="#ff00ff"/>
<circle cx="646.50" cy="323.50" r="1.8" fill="#ff00ff"/>
<circle cx="684.50" cy="323.50" r="1.8" fill="#ff00ff"/>
<circle cx="684.50" cy="328.50" r="1.8" fill="#ff00ff"/>
<circle cx="646.50" cy="372.50" r="1.8" fill="#ff00ff"/>
<circle cx="646.50" cy="377.50" r="1.8" fill="#ff00ff"/>
<circle cx="684.50" cy="377.50" r="1.8" fill="#ff00ff"/>
<circle cx="646.50" cy="383.50" r="1.8" fill="#ff00ff"/>
<circle cx="684.50" cy="383.50" r="1.8" fill="#ff00ff"/>
<circle cx="684.50" cy="388.50" r="1.8" fill="#ff00ff"/>
</svg></body></html>
